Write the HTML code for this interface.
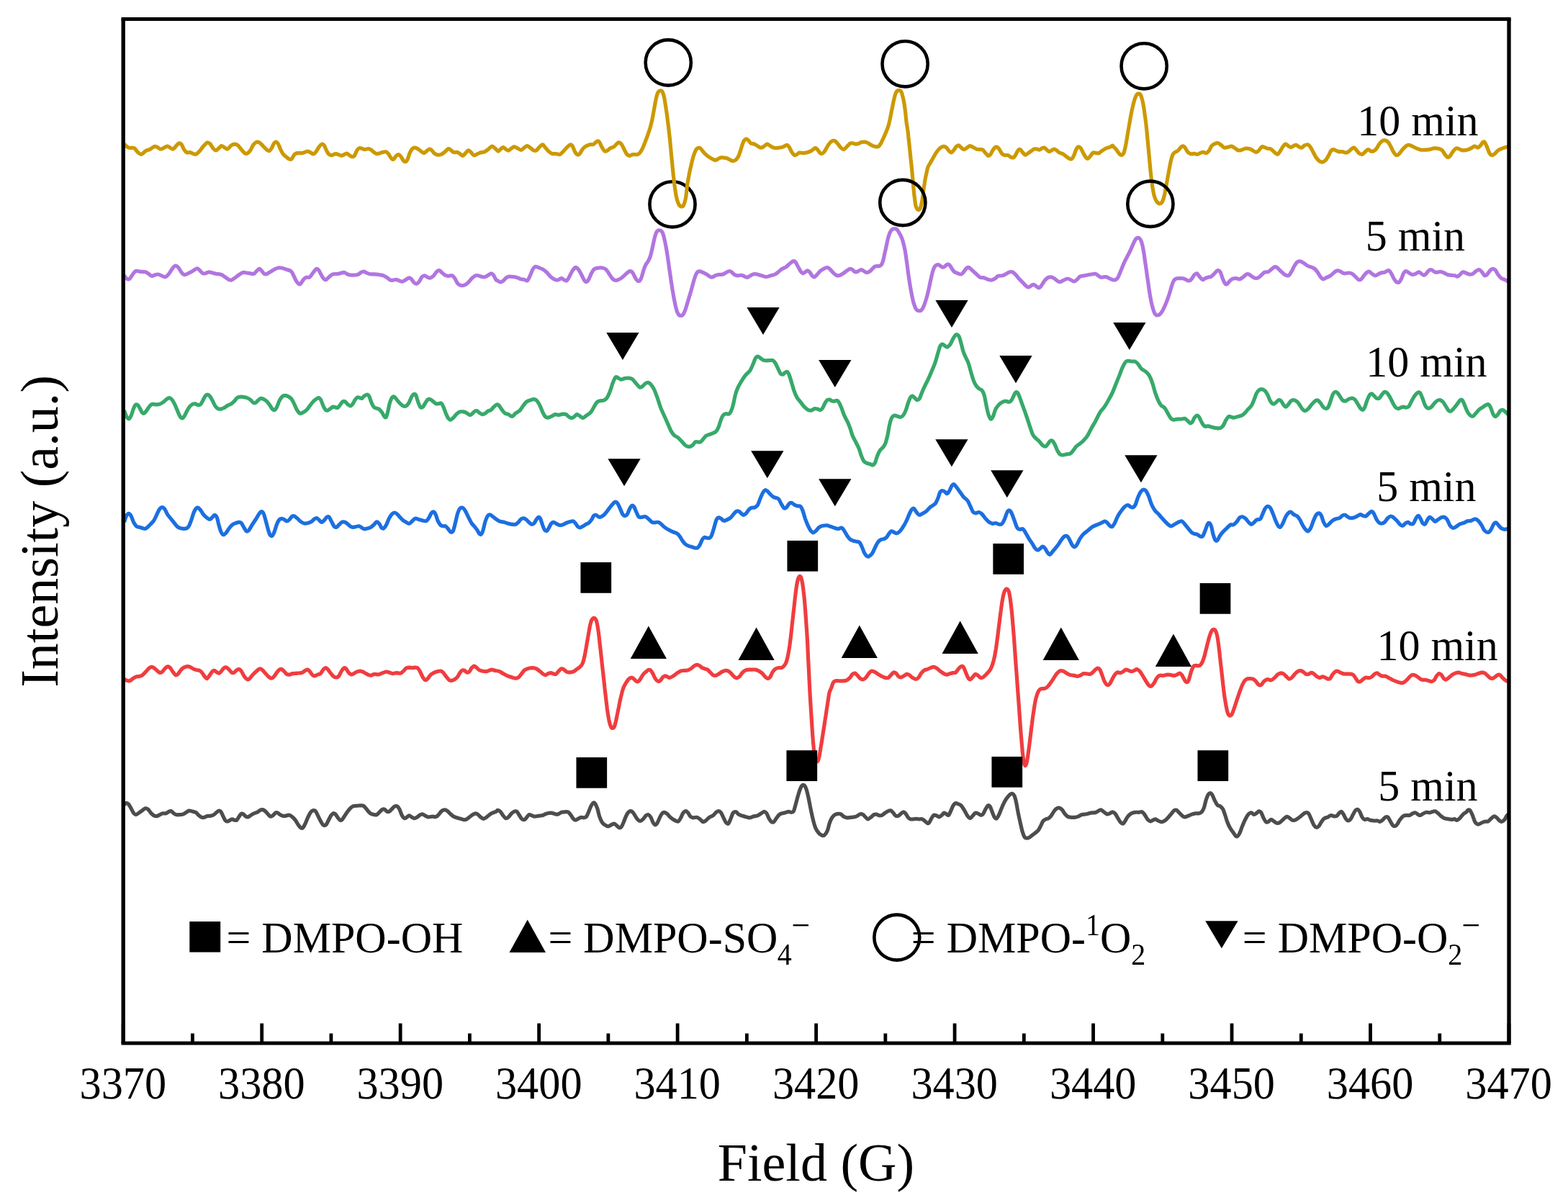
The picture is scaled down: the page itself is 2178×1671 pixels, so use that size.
<!DOCTYPE html>
<html lang="en">
<head>
<meta charset="utf-8">
<title>EPR spectra</title>
<style>
html,body{margin:0;padding:0;background:#fff;}
body{width:2178px;height:1671px;overflow:hidden;}
svg{display:block;}
text{font-family:"Liberation Serif","DejaVu Serif",serif;fill:#000;}
.crv{fill:none;stroke-linejoin:round;stroke-linecap:butt;stroke-width:5.20;}
</style>
</head>
<body>
<svg width="2178" height="1671" viewBox="0 0 2178 1671">
<rect x="0" y="0" width="2178" height="1671" fill="#fff"/>
<defs><clipPath id="plotclip"><rect x="171.2" y="26.4" width="1924.8" height="1422.5"/></clipPath></defs>
<path class="crv" clip-path="url(#plotclip)" stroke="#4D4D4D" d="M172.5,1117.8C173.0,1117.4 174.5,1115.4 175.5,1115.3C176.6,1115.2 177.7,1116.1 178.8,1117.3C179.8,1118.6 180.9,1120.9 182.0,1122.8C183.1,1124.8 184.4,1127.6 185.5,1129.1C186.6,1130.5 187.5,1131.6 188.8,1131.6C190.0,1131.6 191.6,1130.0 193.0,1129.1C194.5,1128.1 196.0,1126.9 197.5,1125.8C199.0,1124.8 200.7,1123.1 202.0,1122.8C203.4,1122.5 204.3,1123.0 205.5,1124.1C206.8,1125.1 208.2,1127.6 209.5,1129.1C210.9,1130.5 212.4,1132.1 213.8,1132.8C215.2,1133.6 216.7,1133.8 218.0,1133.6C219.4,1133.4 220.7,1132.2 222.1,1131.6C223.4,1130.9 224.9,1130.1 226.3,1129.8C227.7,1129.5 229.2,1130.2 230.6,1129.8C231.9,1129.4 233.4,1127.9 234.6,1127.3C235.7,1126.8 236.6,1126.3 237.6,1126.6C238.6,1126.9 239.4,1128.2 240.6,1129.1C241.7,1129.9 243.0,1131.2 244.6,1131.6C246.2,1132.0 248.4,1131.7 250.1,1131.6C251.7,1131.4 253.1,1131.4 254.6,1130.8C256.0,1130.3 257.5,1129.1 258.8,1128.3C260.2,1127.5 261.2,1126.3 262.6,1126.1C264.0,1125.9 265.5,1126.7 267.1,1127.1C268.7,1127.5 270.6,1127.6 272.1,1128.6C273.6,1129.5 275.0,1131.7 276.4,1132.8C277.7,1133.9 278.9,1134.9 280.1,1135.3C281.4,1135.7 282.6,1135.6 283.9,1135.3C285.1,1135.0 286.2,1133.9 287.6,1133.6C289.1,1133.2 291.0,1133.7 292.6,1133.3C294.2,1133.0 295.7,1132.5 297.1,1131.6C298.6,1130.7 300.1,1128.7 301.4,1127.8C302.6,1126.9 303.7,1126.1 304.6,1126.1C305.6,1126.1 306.2,1126.5 307.1,1127.8C308.0,1129.2 309.1,1132.1 310.1,1134.1C311.1,1136.1 312.1,1138.7 313.1,1139.8C314.2,1141.0 315.3,1141.0 316.4,1140.8C317.5,1140.7 318.6,1139.6 319.6,1139.1C320.7,1138.6 321.6,1137.8 322.6,1137.8C323.6,1137.8 324.6,1138.9 325.6,1139.1C326.7,1139.3 327.8,1139.9 328.9,1139.1C330.0,1138.2 331.1,1135.5 332.2,1134.1C333.2,1132.6 334.2,1130.8 335.2,1130.3C336.2,1129.8 337.1,1130.4 338.2,1131.1C339.2,1131.7 340.3,1133.4 341.4,1134.1C342.5,1134.7 343.4,1135.2 344.7,1134.8C345.9,1134.5 347.6,1132.9 348.9,1132.1C350.3,1131.2 351.3,1130.4 352.7,1129.8C354.0,1129.2 355.7,1129.1 357.2,1128.3C358.6,1127.6 360.2,1125.9 361.4,1125.3C362.7,1124.7 363.6,1124.4 364.7,1124.6C365.8,1124.8 366.9,1125.5 368.2,1126.6C369.4,1127.6 370.9,1129.6 372.2,1130.8C373.4,1132.1 374.6,1133.7 375.7,1134.1C376.8,1134.4 377.8,1133.7 378.9,1132.8C380.1,1132.0 381.6,1129.7 382.7,1129.1C383.8,1128.4 384.7,1128.7 385.7,1129.1C386.7,1129.5 387.8,1130.9 389.0,1131.6C390.1,1132.3 391.5,1133.0 392.7,1133.3C394.0,1133.6 395.0,1133.5 396.5,1133.3C397.9,1133.1 400.0,1131.9 401.5,1132.1C402.9,1132.2 403.8,1132.9 405.2,1134.1C406.7,1135.2 408.8,1137.2 410.2,1139.1C411.7,1141.0 412.7,1143.5 414.0,1145.3C415.2,1147.1 416.6,1149.1 417.7,1149.8C418.9,1150.6 419.7,1150.8 420.7,1149.8C421.8,1148.9 422.8,1146.5 424.0,1144.1C425.2,1141.7 426.5,1138.0 427.7,1135.3C429.0,1132.7 430.3,1129.9 431.5,1128.3C432.7,1126.7 433.6,1126.1 434.7,1125.8C435.9,1125.5 437.1,1125.4 438.3,1126.6C439.4,1127.7 440.3,1130.5 441.5,1132.8C442.7,1135.1 444.0,1138.2 445.3,1140.3C446.5,1142.5 447.8,1144.9 449.0,1145.8C450.3,1146.8 451.6,1146.8 452.8,1145.8C453.9,1144.9 454.6,1142.5 455.8,1140.3C456.9,1138.2 458.6,1134.6 459.8,1132.8C460.9,1131.1 461.8,1130.2 462.8,1129.8C463.8,1129.5 464.7,1129.9 465.8,1130.8C466.8,1131.7 467.9,1133.9 469.0,1135.3C470.1,1136.7 471.2,1138.6 472.3,1139.1C473.3,1139.6 474.2,1139.4 475.3,1138.3C476.4,1137.3 477.7,1134.8 479.0,1132.8C480.4,1130.9 481.8,1128.4 483.3,1126.6C484.8,1124.7 486.4,1122.7 487.8,1121.6C489.2,1120.4 490.1,1120.0 491.5,1119.6C493.0,1119.1 494.5,1119.1 496.6,1119.1C498.6,1119.0 502.2,1118.5 504.1,1119.1C505.9,1119.6 506.6,1121.0 507.8,1122.3C509.1,1123.6 510.3,1125.7 511.6,1127.1C512.8,1128.4 513.9,1129.6 515.3,1130.3C516.7,1131.1 518.5,1131.4 519.8,1131.6C521.2,1131.8 522.1,1132.2 523.3,1131.6C524.6,1130.9 526.1,1129.0 527.3,1127.8C528.6,1126.7 529.7,1125.2 530.8,1124.6C532.0,1123.9 533.0,1123.6 534.1,1124.1C535.2,1124.5 536.3,1126.5 537.3,1127.1C538.4,1127.6 539.2,1127.8 540.3,1127.3C541.5,1126.8 542.8,1125.2 544.1,1124.1C545.3,1122.9 546.6,1121.0 547.9,1120.3C549.1,1119.6 550.4,1119.2 551.6,1119.8C552.8,1120.4 553.7,1121.9 554.9,1124.1C556.0,1126.2 557.2,1130.7 558.4,1132.8C559.5,1134.9 560.5,1136.2 561.6,1136.6C562.7,1137.0 563.7,1136.0 564.9,1135.3C566.0,1134.7 567.2,1132.9 568.4,1132.8C569.5,1132.7 570.5,1134.2 571.6,1134.8C572.8,1135.5 574.1,1136.5 575.4,1136.6C576.6,1136.7 577.9,1136.0 579.1,1135.3C580.4,1134.6 581.6,1133.1 582.9,1132.3C584.1,1131.6 585.4,1130.7 586.6,1130.8C587.9,1130.9 589.0,1132.2 590.4,1132.8C591.8,1133.5 593.2,1134.6 594.9,1134.8C596.6,1135.0 598.6,1134.1 600.4,1134.1C602.2,1134.0 603.9,1135.0 605.4,1134.6C606.9,1134.2 607.8,1132.9 609.2,1131.6C610.5,1130.2 612.0,1127.7 613.4,1126.6C614.9,1125.4 616.5,1124.8 617.9,1124.8C619.3,1124.8 620.4,1125.7 621.7,1126.6C622.9,1127.5 624.0,1129.1 625.4,1130.3C626.8,1131.6 628.5,1133.2 629.9,1134.1C631.4,1135.0 632.6,1135.3 634.2,1135.8C635.7,1136.3 637.7,1136.7 639.2,1137.1C640.6,1137.5 641.6,1138.1 642.9,1138.3C644.3,1138.5 646.0,1138.8 647.4,1138.3C648.9,1137.8 650.2,1136.5 651.7,1135.3C653.2,1134.2 655.2,1132.5 656.7,1131.6C658.2,1130.7 659.2,1129.8 660.5,1129.8C661.7,1129.8 663.0,1130.7 664.2,1131.6C665.5,1132.5 666.7,1134.4 668.0,1135.3C669.2,1136.3 670.5,1137.3 671.7,1137.3C673.0,1137.3 674.1,1136.3 675.5,1135.3C676.8,1134.4 678.5,1132.6 680.0,1131.6C681.4,1130.5 682.7,1129.8 684.2,1129.1C685.8,1128.4 688.1,1127.9 689.2,1127.3C690.4,1126.7 690.3,1125.3 691.3,1125.3C692.2,1125.3 693.8,1126.1 695.0,1127.3C696.3,1128.6 697.5,1131.3 698.8,1132.8C700.0,1134.4 701.3,1136.2 702.5,1136.6C703.8,1136.9 705.0,1136.0 706.3,1134.8C707.6,1133.7 709.2,1131.1 710.5,1129.8C711.9,1128.5 713.3,1127.5 714.5,1127.1C715.8,1126.7 716.9,1126.4 718.0,1127.3C719.2,1128.2 720.1,1130.6 721.3,1132.3C722.5,1134.1 723.8,1136.8 725.1,1137.8C726.3,1138.8 727.6,1138.8 728.8,1138.3C730.0,1137.8 731.0,1136.0 732.1,1134.8C733.1,1133.7 733.9,1131.9 735.1,1131.6C736.2,1131.2 737.6,1132.4 738.8,1132.8C740.1,1133.2 741.1,1134.0 742.6,1134.1C744.0,1134.2 745.9,1133.5 747.6,1133.3C749.2,1133.1 750.7,1133.3 752.6,1132.8C754.5,1132.3 756.8,1130.9 758.8,1130.3C760.9,1129.7 763.2,1129.1 765.1,1129.1C767.0,1129.1 768.5,1130.0 770.1,1130.3C771.7,1130.7 772.9,1131.4 774.6,1131.1C776.3,1130.7 778.4,1128.9 780.1,1128.3C781.8,1127.8 783.2,1127.9 784.6,1127.8C786.1,1127.7 787.5,1127.2 788.9,1127.8C790.2,1128.4 791.4,1130.0 792.6,1131.6C793.9,1133.2 795.2,1136.1 796.4,1137.3C797.5,1138.6 798.5,1139.1 799.6,1139.1C800.7,1139.1 801.9,1138.0 803.1,1137.3C804.4,1136.7 805.8,1135.6 807.1,1135.3C808.5,1135.1 810.1,1136.0 811.4,1135.8C812.6,1135.6 813.6,1135.4 814.6,1134.1C815.7,1132.7 816.6,1130.1 817.6,1127.8C818.6,1125.5 819.6,1122.4 820.6,1120.3C821.7,1118.2 822.9,1116.1 823.9,1115.3C824.9,1114.6 825.4,1114.6 826.4,1115.8C827.4,1117.1 828.6,1119.8 829.7,1122.8C830.7,1125.9 831.5,1130.8 832.7,1134.1C833.8,1137.3 835.2,1140.4 836.4,1142.3C837.7,1144.3 838.8,1144.9 840.2,1145.8C841.5,1146.8 843.2,1147.8 844.7,1147.8C846.1,1147.8 847.5,1146.5 848.9,1145.8C850.3,1145.2 851.9,1144.0 853.2,1144.1C854.4,1144.2 855.3,1145.6 856.4,1146.6C857.6,1147.5 859.1,1149.5 860.2,1149.8C861.3,1150.1 862.1,1149.7 863.2,1148.3C864.2,1147.0 865.4,1144.1 866.4,1141.6C867.5,1139.1 868.6,1135.6 869.7,1133.3C870.8,1131.0 872.1,1128.9 873.2,1127.8C874.3,1126.7 875.4,1126.4 876.4,1126.6C877.5,1126.8 878.6,1127.7 879.7,1129.1C880.8,1130.4 882.1,1133.2 883.2,1134.8C884.3,1136.5 885.4,1138.2 886.5,1139.1C887.5,1140.0 888.6,1140.5 889.7,1140.3C890.8,1140.1 892.0,1139.1 893.2,1137.8C894.5,1136.6 896.0,1133.9 897.2,1132.8C898.5,1131.8 899.6,1131.2 900.7,1131.6C901.8,1132.0 902.9,1133.4 904.0,1135.3C905.1,1137.2 906.2,1141.1 907.2,1142.8C908.3,1144.6 909.2,1145.8 910.2,1145.8C911.2,1145.8 912.2,1144.6 913.2,1142.8C914.3,1141.1 915.4,1137.5 916.5,1135.3C917.6,1133.2 918.7,1131.0 919.7,1129.8C920.8,1128.7 921.6,1128.2 922.7,1128.3C923.9,1128.4 925.2,1129.2 926.5,1130.3C927.8,1131.4 929.3,1133.5 930.7,1134.8C932.2,1136.2 933.9,1137.4 935.2,1138.3C936.6,1139.2 937.8,1139.9 939.0,1140.3C940.2,1140.7 941.2,1141.5 942.3,1140.8C943.3,1140.2 944.1,1138.5 945.3,1136.6C946.4,1134.6 947.8,1130.7 949.0,1129.1C950.3,1127.4 951.6,1126.6 952.8,1126.6C953.9,1126.6 954.7,1127.8 955.8,1129.1C956.8,1130.3 957.9,1132.9 959.0,1134.1C960.2,1135.2 961.3,1135.6 962.8,1135.8C964.2,1136.0 966.2,1135.0 967.8,1135.3C969.4,1135.7 970.8,1136.8 972.3,1137.8C973.7,1138.9 975.2,1141.2 976.5,1141.6C977.9,1141.9 978.8,1140.9 980.3,1139.8C981.7,1138.8 983.6,1136.5 985.3,1135.3C987.0,1134.2 988.7,1134.0 990.3,1132.8C991.9,1131.7 993.5,1129.4 994.8,1128.3C996.1,1127.3 997.2,1126.4 998.3,1126.6C999.4,1126.7 1000.4,1127.4 1001.6,1129.1C1002.7,1130.7 1004.2,1134.4 1005.3,1136.6C1006.4,1138.8 1007.3,1141.1 1008.3,1142.3C1009.4,1143.6 1010.5,1144.8 1011.6,1144.1C1012.7,1143.3 1013.7,1140.3 1014.8,1137.8C1015.9,1135.3 1017.1,1130.7 1018.3,1129.1C1019.6,1127.4 1021.0,1127.4 1022.3,1127.8C1023.7,1128.2 1025.0,1130.7 1026.6,1131.6C1028.1,1132.5 1029.9,1132.8 1031.6,1133.3C1033.3,1133.9 1034.9,1134.4 1036.6,1134.8C1038.3,1135.2 1039.9,1136.0 1041.6,1135.8C1043.3,1135.7 1044.8,1134.6 1046.6,1134.1C1048.4,1133.6 1050.6,1133.5 1052.4,1132.8C1054.1,1132.1 1055.8,1130.7 1057.4,1129.8C1058.9,1128.9 1060.4,1127.3 1061.6,1127.3C1062.9,1127.3 1063.7,1128.2 1064.9,1129.8C1066.0,1131.5 1067.2,1135.4 1068.4,1137.3C1069.5,1139.3 1070.5,1140.9 1071.6,1141.6C1072.7,1142.3 1073.8,1142.4 1074.9,1141.6C1076.0,1140.7 1077.1,1138.2 1078.4,1136.6C1079.6,1134.9 1081.0,1132.7 1082.4,1131.6C1083.8,1130.4 1085.1,1130.3 1086.6,1129.8C1088.2,1129.3 1090.2,1129.0 1091.6,1128.6C1093.1,1128.2 1094.1,1127.4 1095.4,1127.3C1096.6,1127.3 1098.0,1128.4 1099.1,1128.3C1100.3,1128.2 1101.4,1128.5 1102.4,1126.6C1103.4,1124.6 1104.3,1120.5 1105.4,1116.6C1106.5,1112.6 1107.9,1106.8 1109.2,1102.8C1110.4,1098.8 1111.8,1094.9 1112.9,1092.8C1114.0,1090.7 1114.9,1090.1 1115.9,1090.3C1117.0,1090.5 1118.1,1091.5 1119.2,1094.0C1120.3,1096.5 1121.3,1100.5 1122.4,1105.3C1123.5,1110.1 1124.8,1117.4 1125.9,1122.8C1127.0,1128.2 1128.0,1133.2 1129.2,1137.8C1130.3,1142.4 1131.6,1147.1 1132.9,1150.3C1134.3,1153.6 1136.0,1155.7 1137.4,1157.3C1138.9,1159.0 1140.4,1159.9 1141.7,1160.3C1143.0,1160.8 1144.2,1160.9 1145.4,1159.8C1146.7,1158.8 1148.0,1156.9 1149.2,1154.1C1150.4,1151.3 1151.3,1146.0 1152.4,1142.8C1153.6,1139.7 1154.7,1137.2 1156.0,1135.3C1157.2,1133.4 1158.6,1132.4 1160.0,1131.6C1161.3,1130.7 1162.9,1130.4 1164.2,1130.3C1165.5,1130.2 1166.7,1130.2 1168.0,1130.8C1169.2,1131.4 1170.3,1133.2 1171.7,1134.1C1173.2,1134.9 1174.8,1135.6 1176.7,1135.8C1178.6,1136.0 1180.9,1135.6 1183.0,1135.3C1185.1,1135.0 1187.2,1134.8 1189.2,1134.1C1191.2,1133.3 1193.4,1131.2 1195.0,1130.8C1196.6,1130.4 1197.5,1130.8 1198.8,1131.6C1200.0,1132.3 1201.4,1134.3 1202.5,1135.3C1203.7,1136.4 1204.4,1137.8 1205.5,1137.8C1206.7,1137.8 1208.2,1136.4 1209.5,1135.3C1210.9,1134.3 1212.5,1132.3 1213.8,1131.6C1215.1,1130.9 1216.3,1130.9 1217.5,1131.1C1218.8,1131.3 1220.1,1132.6 1221.3,1132.8C1222.6,1133.0 1223.7,1132.9 1225.1,1132.3C1226.4,1131.7 1228.1,1130.0 1229.6,1129.1C1231.0,1128.1 1232.6,1127.1 1233.8,1126.6C1235.1,1126.0 1236.0,1125.5 1237.1,1125.8C1238.1,1126.1 1238.9,1127.2 1240.1,1128.3C1241.2,1129.5 1242.6,1132.0 1243.8,1132.8C1245.1,1133.7 1246.3,1133.7 1247.6,1133.3C1248.8,1132.9 1250.1,1131.2 1251.3,1130.3C1252.6,1129.4 1254.0,1127.8 1255.1,1127.8C1256.2,1127.8 1257.0,1129.1 1258.1,1130.3C1259.1,1131.6 1260.3,1134.1 1261.3,1135.3C1262.4,1136.6 1263.3,1137.4 1264.6,1137.8C1265.8,1138.2 1267.5,1137.9 1268.8,1137.8C1270.2,1137.7 1271.3,1137.3 1272.6,1137.3C1273.8,1137.3 1275.0,1137.7 1276.4,1137.8C1277.7,1137.9 1279.2,1137.4 1280.6,1137.8C1282.0,1138.2 1283.4,1139.4 1284.6,1140.3C1285.9,1141.2 1287.1,1142.9 1288.1,1143.3C1289.1,1143.8 1289.7,1144.0 1290.6,1142.8C1291.6,1141.7 1292.8,1138.3 1293.9,1136.6C1295.0,1134.8 1296.0,1132.9 1297.1,1132.3C1298.2,1131.7 1299.4,1132.4 1300.6,1132.8C1301.9,1133.2 1303.4,1134.9 1304.6,1134.8C1305.9,1134.7 1307.0,1133.3 1308.1,1132.3C1309.3,1131.4 1310.3,1129.3 1311.4,1129.1C1312.5,1128.8 1313.6,1130.3 1314.6,1130.8C1315.7,1131.4 1316.6,1133.0 1317.6,1132.3C1318.6,1131.6 1319.6,1128.8 1320.6,1126.6C1321.7,1124.4 1322.8,1120.9 1323.9,1119.1C1325.0,1117.3 1326.0,1116.2 1327.1,1115.8C1328.3,1115.4 1329.3,1116.0 1330.7,1116.6C1332.0,1117.1 1333.7,1117.5 1335.2,1119.1C1336.7,1120.6 1338.2,1123.4 1339.7,1125.8C1341.1,1128.2 1342.6,1131.5 1343.9,1133.3C1345.2,1135.1 1346.4,1136.7 1347.7,1136.6C1348.9,1136.5 1350.2,1134.1 1351.4,1132.8C1352.7,1131.6 1353.9,1129.5 1355.2,1129.1C1356.4,1128.7 1357.7,1129.8 1358.9,1130.3C1360.2,1130.9 1361.6,1132.3 1362.7,1132.3C1363.8,1132.3 1364.6,1131.7 1365.7,1130.3C1366.7,1128.9 1367.9,1125.9 1368.9,1124.1C1370.0,1122.2 1371.1,1119.7 1372.2,1119.1C1373.2,1118.4 1374.2,1118.9 1375.2,1120.3C1376.2,1121.8 1377.2,1125.3 1378.2,1127.8C1379.2,1130.3 1380.4,1133.9 1381.4,1135.3C1382.5,1136.8 1383.6,1137.4 1384.7,1136.6C1385.8,1135.7 1387.0,1133.0 1388.2,1130.3C1389.5,1127.6 1390.8,1123.4 1392.2,1120.3C1393.6,1117.2 1395.1,1113.8 1396.5,1111.6C1397.8,1109.3 1399.1,1107.9 1400.2,1106.5C1401.3,1105.2 1402.3,1104.0 1403.2,1103.3C1404.1,1102.6 1404.8,1102.0 1405.7,1102.3C1406.7,1102.6 1408.0,1103.3 1409.0,1105.3C1409.9,1107.3 1410.6,1110.3 1411.5,1114.1C1412.3,1117.8 1413.0,1123.0 1414.0,1127.8C1414.9,1132.6 1416.2,1138.2 1417.2,1142.8C1418.3,1147.4 1419.2,1152.0 1420.2,1155.3C1421.2,1158.7 1422.2,1161.4 1423.2,1162.9C1424.3,1164.3 1425.3,1164.1 1426.5,1164.1C1427.7,1164.1 1428.8,1163.7 1430.2,1162.9C1431.7,1162.0 1433.4,1160.6 1435.2,1159.1C1437.1,1157.6 1439.8,1156.0 1441.5,1154.1C1443.2,1152.2 1444.0,1150.1 1445.3,1147.8C1446.5,1145.5 1447.8,1142.0 1449.0,1140.3C1450.3,1138.7 1451.5,1138.5 1452.8,1137.8C1454.0,1137.2 1455.3,1137.4 1456.5,1136.6C1457.8,1135.7 1458.9,1134.6 1460.3,1132.8C1461.6,1131.0 1463.4,1127.5 1464.8,1125.8C1466.1,1124.1 1467.2,1123.4 1468.3,1122.8C1469.4,1122.2 1470.4,1122.0 1471.5,1122.3C1472.7,1122.6 1474.0,1123.5 1475.3,1124.8C1476.5,1126.2 1477.8,1128.8 1479.0,1130.3C1480.3,1131.9 1481.3,1133.2 1482.8,1134.1C1484.3,1134.9 1486.1,1135.1 1487.8,1135.3C1489.5,1135.5 1491.1,1135.5 1492.8,1135.3C1494.5,1135.1 1496.1,1134.7 1497.8,1134.1C1499.5,1133.4 1500.9,1132.1 1502.8,1131.6C1504.7,1131.0 1507.0,1131.2 1509.1,1130.8C1511.2,1130.4 1513.2,1129.4 1515.3,1129.1C1517.4,1128.7 1519.9,1129.0 1521.6,1128.6C1523.2,1128.2 1524.1,1127.2 1525.3,1126.6C1526.6,1125.9 1527.8,1124.7 1529.1,1124.8C1530.3,1124.9 1531.5,1126.3 1532.8,1127.3C1534.2,1128.3 1535.9,1130.4 1537.3,1130.8C1538.8,1131.2 1540.3,1130.3 1541.6,1129.8C1542.9,1129.3 1544.1,1127.7 1545.3,1127.8C1546.6,1127.9 1547.9,1128.9 1549.1,1130.3C1550.4,1131.8 1551.6,1134.6 1552.9,1136.6C1554.1,1138.6 1555.4,1141.1 1556.6,1142.3C1557.8,1143.6 1558.8,1144.4 1559.9,1144.1C1560.9,1143.8 1561.7,1142.0 1562.9,1140.3C1564.0,1138.7 1565.2,1135.8 1566.6,1134.1C1568.1,1132.3 1570.0,1130.8 1571.6,1129.8C1573.3,1128.9 1575.0,1128.6 1576.6,1128.3C1578.3,1128.1 1580.0,1128.4 1581.6,1128.3C1583.3,1128.2 1585.2,1127.2 1586.6,1127.8C1588.1,1128.5 1589.1,1130.6 1590.4,1132.3C1591.6,1134.1 1592.9,1136.9 1594.1,1138.3C1595.4,1139.7 1596.6,1140.7 1597.9,1140.8C1599.1,1141.0 1600.5,1139.6 1601.7,1139.1C1602.8,1138.6 1603.8,1137.7 1604.9,1137.8C1606.0,1138.0 1607.1,1139.2 1608.4,1139.8C1609.7,1140.5 1611.4,1141.5 1612.9,1141.6C1614.4,1141.7 1615.8,1141.3 1617.4,1140.3C1619.0,1139.4 1620.8,1137.6 1622.4,1135.8C1624.1,1134.1 1626.0,1131.5 1627.4,1129.8C1628.8,1128.2 1629.8,1126.6 1630.9,1125.8C1632.1,1125.1 1633.1,1124.9 1634.2,1125.3C1635.3,1125.7 1636.2,1127.1 1637.4,1128.3C1638.7,1129.6 1640.4,1131.7 1641.7,1132.8C1643.0,1133.9 1644.0,1134.7 1645.4,1134.8C1646.9,1134.9 1648.8,1133.9 1650.4,1133.3C1652.1,1132.7 1653.8,1131.7 1655.4,1131.1C1657.1,1130.5 1658.8,1130.0 1660.5,1129.8C1662.1,1129.6 1664.0,1130.2 1665.5,1129.8C1666.9,1129.5 1668.0,1129.2 1669.2,1127.8C1670.4,1126.4 1671.4,1124.5 1672.5,1121.6C1673.5,1118.6 1674.5,1113.3 1675.5,1110.3C1676.5,1107.3 1677.4,1104.7 1678.5,1103.3C1679.5,1101.9 1680.8,1101.5 1681.8,1101.7C1682.8,1102.0 1683.3,1103.2 1684.3,1105.0C1685.3,1106.8 1686.4,1110.3 1687.6,1112.5C1688.7,1114.7 1689.8,1117.0 1691.1,1118.3C1692.3,1119.5 1693.8,1119.1 1695.1,1120.0C1696.3,1120.9 1697.4,1121.7 1698.6,1123.8C1699.7,1125.8 1700.7,1129.4 1701.8,1132.5C1702.9,1135.6 1703.9,1139.6 1705.1,1142.5C1706.2,1145.5 1707.3,1147.8 1708.6,1150.0C1709.8,1152.2 1711.3,1154.0 1712.6,1155.8C1713.8,1157.6 1715.1,1159.8 1716.1,1160.8C1717.1,1161.8 1717.6,1162.3 1718.6,1161.8C1719.5,1161.3 1720.7,1159.9 1721.8,1157.5C1723.0,1155.2 1724.2,1150.9 1725.6,1147.5C1727.0,1144.2 1728.6,1140.3 1730.1,1137.5C1731.5,1134.7 1733.0,1132.2 1734.3,1130.8C1735.7,1129.3 1736.8,1128.7 1738.1,1128.8C1739.3,1128.9 1740.6,1131.2 1741.8,1131.3C1743.1,1131.4 1744.5,1130.0 1745.6,1129.3C1746.7,1128.5 1747.6,1126.9 1748.6,1126.8C1749.6,1126.7 1750.8,1127.2 1751.9,1128.8C1752.9,1130.4 1754.0,1134.1 1755.1,1136.3C1756.2,1138.4 1757.5,1140.9 1758.6,1141.8C1759.7,1142.6 1760.7,1141.9 1761.9,1141.3C1763.0,1140.7 1764.4,1138.4 1765.6,1138.3C1766.9,1138.2 1768.0,1139.9 1769.4,1140.8C1770.7,1141.6 1772.3,1143.0 1773.6,1143.3C1775.0,1143.6 1776.3,1143.3 1777.6,1142.5C1779.0,1141.8 1780.3,1140.1 1781.9,1138.8C1783.4,1137.4 1785.4,1135.0 1786.9,1134.5C1788.4,1134.0 1789.3,1135.0 1790.6,1135.8C1792.0,1136.6 1793.7,1138.8 1795.1,1139.3C1796.6,1139.8 1797.7,1139.5 1799.4,1138.8C1801.1,1138.1 1803.4,1136.4 1805.2,1135.0C1807.0,1133.7 1808.7,1131.8 1810.2,1130.8C1811.6,1129.7 1812.4,1128.9 1813.7,1128.8C1814.9,1128.6 1816.4,1128.6 1817.7,1130.0C1818.9,1131.5 1819.9,1134.8 1821.2,1137.5C1822.4,1140.2 1823.9,1144.3 1825.2,1146.3C1826.4,1148.2 1827.6,1149.1 1828.7,1149.3C1829.8,1149.5 1830.8,1148.9 1831.9,1147.5C1833.1,1146.2 1834.4,1143.1 1835.7,1141.3C1836.9,1139.5 1838.0,1137.8 1839.4,1136.8C1840.9,1135.7 1842.9,1135.7 1844.4,1135.0C1846.0,1134.3 1847.3,1132.7 1848.7,1132.5C1850.1,1132.3 1851.3,1133.6 1852.7,1133.8C1854.1,1133.9 1855.7,1134.0 1857.0,1133.3C1858.2,1132.5 1859.2,1130.2 1860.2,1129.3C1861.3,1128.3 1862.2,1127.2 1863.2,1127.5C1864.2,1127.9 1865.2,1129.6 1866.2,1131.3C1867.3,1132.9 1868.4,1136.1 1869.5,1137.5C1870.6,1139.0 1871.6,1140.0 1872.7,1140.0C1873.8,1140.0 1875.1,1139.0 1876.2,1137.5C1877.3,1136.1 1878.4,1133.2 1879.5,1131.3C1880.6,1129.3 1881.7,1126.9 1882.7,1125.8C1883.8,1124.6 1884.7,1124.0 1885.7,1124.3C1886.7,1124.6 1887.7,1125.7 1888.7,1127.5C1889.8,1129.3 1890.9,1133.2 1892.0,1135.0C1893.1,1136.8 1894.0,1137.9 1895.2,1138.3C1896.5,1138.7 1898.2,1137.4 1899.5,1137.5C1900.8,1137.7 1901.8,1138.9 1903.2,1139.3C1904.7,1139.7 1906.6,1139.9 1908.3,1140.0C1909.9,1140.2 1911.8,1139.8 1913.3,1140.0C1914.7,1140.2 1915.8,1141.5 1917.0,1141.3C1918.3,1141.1 1919.5,1139.8 1920.8,1138.8C1922.0,1137.7 1923.3,1135.6 1924.5,1135.0C1925.7,1134.4 1926.7,1134.2 1927.8,1135.0C1928.8,1135.9 1929.6,1138.2 1930.8,1140.0C1931.9,1141.9 1933.4,1145.0 1934.5,1146.3C1935.7,1147.5 1936.7,1147.7 1937.8,1147.5C1938.8,1147.3 1939.7,1146.5 1940.8,1145.0C1941.9,1143.6 1943.2,1140.7 1944.5,1138.8C1945.9,1136.9 1947.3,1134.8 1948.8,1133.8C1950.2,1132.7 1951.8,1132.7 1953.3,1132.5C1954.8,1132.3 1956.3,1132.9 1957.8,1132.5C1959.3,1132.1 1960.7,1130.6 1962.1,1130.0C1963.4,1129.4 1964.6,1128.6 1965.8,1128.8C1967.1,1129.0 1968.4,1130.6 1969.6,1131.3C1970.7,1131.9 1971.6,1132.7 1972.8,1132.5C1974.1,1132.3 1975.6,1130.7 1977.1,1130.0C1978.5,1129.3 1979.9,1128.5 1981.3,1128.3C1982.8,1128.1 1984.4,1128.9 1985.8,1128.8C1987.2,1128.6 1988.3,1127.9 1989.6,1127.5C1990.8,1127.2 1992.1,1126.5 1993.3,1126.8C1994.6,1127.1 1995.7,1128.2 1997.1,1129.3C1998.4,1130.4 1999.9,1132.1 2001.3,1133.3C2002.8,1134.4 2004.3,1135.6 2005.8,1136.3C2007.4,1137.0 2009.0,1137.2 2010.8,1137.5C2012.7,1137.9 2015.5,1138.3 2017.1,1138.3C2018.7,1138.3 2019.2,1137.4 2020.4,1137.5C2021.5,1137.7 2022.6,1139.5 2023.9,1139.3C2025.1,1139.1 2026.5,1137.6 2027.9,1136.3C2029.2,1134.9 2030.7,1132.6 2032.1,1131.3C2033.5,1129.9 2035.1,1129.3 2036.4,1128.3C2037.6,1127.2 2038.7,1125.4 2039.6,1125.0C2040.6,1124.6 2041.2,1124.5 2042.1,1125.8C2043.1,1127.0 2044.3,1129.9 2045.4,1132.5C2046.5,1135.2 2047.6,1139.7 2048.9,1141.8C2050.1,1143.9 2051.5,1144.8 2052.9,1145.0C2054.3,1145.3 2055.6,1143.9 2057.1,1143.3C2058.7,1142.7 2060.5,1141.7 2062.1,1141.3C2063.8,1140.9 2065.6,1141.5 2067.1,1140.8C2068.7,1140.0 2070.0,1137.9 2071.4,1136.8C2072.8,1135.6 2074.2,1133.9 2075.4,1133.8C2076.7,1133.6 2077.7,1134.7 2078.9,1135.8C2080.2,1136.8 2081.7,1139.1 2082.9,1140.0C2084.1,1140.9 2084.8,1141.5 2085.9,1141.3C2087.0,1141.1 2088.4,1140.2 2089.7,1138.8C2090.9,1137.3 2092.0,1134.2 2093.4,1132.5C2094.9,1130.9 2097.6,1129.4 2098.4,1128.8"/>
<path class="crv" clip-path="url(#plotclip)" stroke="#F03D3F" d="M172.5,943.1C173.1,943.5 175.0,944.7 176.3,945.2C177.5,945.6 178.6,946.1 180.0,945.7C181.4,945.2 183.1,943.6 184.5,942.6C186.0,941.7 187.2,940.7 188.8,940.1C190.3,939.6 192.2,939.8 193.8,939.4C195.3,939.0 196.6,938.7 198.0,937.6C199.5,936.6 201.0,934.7 202.5,933.1C204.0,931.6 205.7,929.3 207.0,928.1C208.4,927.0 209.4,926.5 210.5,926.4C211.7,926.3 212.5,926.8 213.8,927.6C215.0,928.5 216.7,930.3 218.0,931.4C219.4,932.5 220.8,934.1 222.1,934.4C223.3,934.7 224.3,934.2 225.6,933.1C226.8,932.1 228.3,929.3 229.6,928.1C230.8,926.9 231.9,926.0 233.1,925.9C234.2,925.8 235.1,926.4 236.3,927.6C237.5,928.8 238.8,931.5 240.1,933.1C241.3,934.8 242.7,937.1 243.8,937.6C245.0,938.2 245.8,937.6 247.1,936.4C248.3,935.2 249.9,932.2 251.3,930.6C252.7,929.1 254.1,928.0 255.6,927.1C257.0,926.3 258.7,925.8 260.1,925.6C261.5,925.5 262.5,925.8 263.8,926.4C265.2,926.9 266.6,928.2 268.1,928.9C269.6,929.6 271.1,930.2 272.6,930.6C274.1,931.1 275.8,930.8 277.1,931.4C278.4,932.0 279.4,932.9 280.6,934.4C281.9,935.9 283.4,938.8 284.6,940.1C285.8,941.5 286.6,942.9 287.6,942.6C288.6,942.4 289.4,940.5 290.6,938.9C291.8,937.3 293.5,934.4 294.6,933.1C295.8,931.9 296.5,931.3 297.6,931.4C298.7,931.5 300.2,933.3 301.4,933.9C302.5,934.5 303.5,935.6 304.6,935.1C305.8,934.7 307.0,932.6 308.1,931.4C309.3,930.1 310.3,928.3 311.4,927.6C312.5,926.9 313.5,926.7 314.6,927.1C315.8,927.6 316.9,928.9 318.1,930.1C319.4,931.3 320.9,933.8 322.1,934.4C323.4,935.0 324.5,934.5 325.6,933.9C326.8,933.3 327.8,931.3 328.9,930.6C330.0,929.9 331.1,929.4 332.2,929.6C333.2,929.9 334.0,930.6 335.2,932.1C336.3,933.7 337.7,937.1 338.9,938.9C340.2,940.7 341.5,942.4 342.7,943.1C343.8,943.9 344.5,944.1 345.7,943.4C346.8,942.7 348.3,940.4 349.7,938.9C351.0,937.4 352.5,935.8 353.9,934.4C355.3,933.0 356.9,931.6 358.2,930.6C359.4,929.7 360.3,928.8 361.4,928.9C362.5,928.9 363.4,929.8 364.7,930.9C365.9,932.0 367.5,934.1 368.9,935.6C370.4,937.2 371.8,939.1 373.2,940.1C374.6,941.2 375.9,942.2 377.2,942.1C378.4,942.1 379.4,941.0 380.7,939.6C381.9,938.3 383.5,935.5 384.7,933.9C386.0,932.3 387.1,930.8 388.2,930.1C389.3,929.4 390.4,929.2 391.5,929.6C392.5,930.1 393.6,931.5 394.7,932.6C395.8,933.8 397.0,935.6 398.2,936.4C399.5,937.1 400.8,937.3 402.2,937.1C403.6,937.0 404.7,936.0 406.5,935.6C408.2,935.3 410.6,935.4 412.7,935.1C414.8,934.9 417.1,935.0 419.0,934.4C420.9,933.8 422.6,932.1 424.0,931.4C425.4,930.7 426.2,929.9 427.2,930.1C428.3,930.3 429.1,931.4 430.2,932.6C431.4,933.9 432.8,936.6 434.0,937.6C435.2,938.7 436.0,939.0 437.2,938.9C438.5,938.8 440.2,937.4 441.5,936.9C442.8,936.4 444.0,936.8 445.3,935.6C446.5,934.5 447.8,931.5 449.0,930.1C450.2,928.8 451.2,927.7 452.3,927.6C453.3,927.6 454.0,928.3 455.3,929.6C456.5,931.0 458.3,933.9 459.8,935.6C461.2,937.4 462.7,939.3 464.0,940.1C465.4,941.0 466.7,941.1 467.8,940.9C468.9,940.7 469.6,940.5 470.8,938.9C471.9,937.3 473.5,933.3 474.8,931.4C476.0,929.5 477.3,928.1 478.3,927.6C479.3,927.2 479.8,927.8 480.8,928.9C481.7,929.9 482.9,932.6 484.0,933.9C485.2,935.2 486.5,936.6 487.8,936.9C489.0,937.2 490.2,936.3 491.5,935.6C492.9,935.0 494.3,933.7 495.8,933.1C497.3,932.6 498.9,932.1 500.3,932.1C501.7,932.1 502.7,932.6 504.1,933.1C505.4,933.7 506.9,934.9 508.3,935.6C509.7,936.4 511.2,937.2 512.3,937.6C513.5,938.1 514.1,938.4 515.3,938.1C516.6,937.9 518.2,936.6 519.8,936.4C521.5,936.2 523.6,937.1 525.3,936.9C527.1,936.7 528.5,935.8 530.3,935.1C532.2,934.5 534.9,933.3 536.6,933.1C538.3,932.9 538.9,933.5 540.3,933.9C541.8,934.3 543.7,935.5 545.3,935.6C547.0,935.8 548.5,934.7 550.4,934.6C552.2,934.6 554.9,935.6 556.6,935.1C558.3,934.7 559.1,933.3 560.4,932.1C561.6,931.0 562.8,929.0 564.1,928.1C565.5,927.3 566.9,927.2 568.4,927.1C569.8,927.1 571.5,927.6 572.9,927.6C574.3,927.6 575.4,927.1 576.6,927.1C577.9,927.2 579.3,927.2 580.4,928.1C581.5,929.1 582.2,930.5 583.4,932.6C584.6,934.8 586.1,938.9 587.4,940.9C588.6,942.9 589.8,944.4 590.9,944.7C592.0,944.9 593.0,943.8 594.1,942.6C595.3,941.5 596.5,939.0 597.9,937.6C599.3,936.3 600.7,935.5 602.4,934.6C604.1,933.8 606.2,933.1 607.9,932.6C609.6,932.2 611.1,931.8 612.4,932.1C613.7,932.5 614.6,933.2 615.9,934.6C617.2,936.1 619.0,939.0 620.4,940.6C621.8,942.3 622.9,943.9 624.2,944.7C625.4,945.4 626.5,945.4 627.9,945.2C629.3,944.9 631.1,944.1 632.4,943.1C633.8,942.2 634.8,941.2 635.9,939.6C637.1,938.1 638.1,935.4 639.2,933.9C640.3,932.4 641.4,931.3 642.4,930.9C643.5,930.5 644.4,930.9 645.4,931.4C646.4,931.9 647.4,933.6 648.4,933.9C649.5,934.2 650.6,934.1 651.7,933.1C652.8,932.2 653.8,929.5 654.9,928.1C656.1,926.8 657.3,925.3 658.5,925.1C659.6,925.0 660.5,926.2 661.7,927.1C662.9,928.1 664.1,929.8 665.5,930.6C666.8,931.5 668.3,931.8 670.0,932.1C671.6,932.5 673.9,932.8 675.5,932.6C677.0,932.5 678.0,931.8 679.2,931.4C680.5,931.0 681.6,930.1 683.0,930.1C684.4,930.1 685.7,931.0 687.5,931.4C689.3,931.8 691.9,931.9 693.8,932.6C695.7,933.3 696.9,934.6 698.8,935.6C700.7,936.7 703.0,938.0 705.0,938.9C707.1,939.8 709.4,940.4 711.3,940.9C713.2,941.4 714.8,942.2 716.3,942.1C717.8,942.1 719.2,941.7 720.6,940.6C721.9,939.6 723.2,937.3 724.6,935.6C725.9,934.0 727.3,931.8 728.8,930.6C730.4,929.4 731.9,928.9 733.8,928.4C735.7,927.9 738.2,927.6 740.1,927.6C741.9,927.7 743.4,928.1 745.1,928.9C746.7,929.7 748.5,931.4 750.1,932.6C751.7,933.9 753.2,935.6 754.6,936.4C755.9,937.2 757.0,937.8 758.1,937.6C759.2,937.5 760.2,936.1 761.3,935.6C762.5,935.1 763.8,934.6 765.1,934.6C766.3,934.7 767.7,935.6 768.8,935.9C770.0,936.2 771.0,936.9 772.1,936.4C773.2,935.9 774.4,933.9 775.6,932.6C776.9,931.4 778.4,929.4 779.6,928.9C780.8,928.4 781.4,929.0 782.6,929.6C783.8,930.3 785.6,932.3 786.8,933.0C788.0,933.7 788.7,933.7 789.7,933.8C790.6,933.9 791.5,933.9 792.5,933.8C793.5,933.7 794.9,933.4 795.9,933.0C797.0,932.6 797.8,932.2 798.8,931.5C799.7,930.9 800.7,930.0 801.6,929.3C802.6,928.6 803.5,928.1 804.4,927.3C805.4,926.6 806.5,925.7 807.3,924.7C808.1,923.7 808.7,922.7 809.3,921.3C809.9,919.9 810.4,918.2 810.9,916.2C811.4,914.2 811.9,911.8 812.4,909.4C812.9,906.9 813.4,904.1 813.9,901.4C814.4,898.7 814.8,896.1 815.2,893.4C815.7,890.8 816.2,888.1 816.6,885.5C817.1,882.8 817.5,880.1 818.0,877.5C818.4,875.0 818.9,872.3 819.3,870.1C819.8,868.0 820.2,866.1 820.7,864.4C821.2,862.8 821.7,861.4 822.3,860.5C822.9,859.5 823.6,859.1 824.1,858.8C824.6,858.4 825.0,858.4 825.5,858.5C825.9,858.6 826.4,858.7 826.8,859.3C827.3,859.9 827.9,860.8 828.3,862.2C828.8,863.6 829.3,865.7 829.7,867.9C830.1,870.0 830.5,872.5 830.9,875.2C831.3,878.0 831.7,881.1 832.1,884.3C832.5,887.6 832.8,891.2 833.2,894.6C833.6,898.0 834.0,901.4 834.4,904.8C834.7,908.2 835.1,911.6 835.5,915.0C835.9,918.5 836.2,921.9 836.6,925.3C837.0,928.7 837.4,932.1 837.8,935.5C838.1,938.9 838.5,942.3 838.9,945.7C839.3,949.2 839.7,952.6 840.0,956.0C840.4,959.4 840.8,962.9 841.2,966.2C841.6,969.5 841.9,972.7 842.3,975.9C842.7,979.0 843.1,982.1 843.4,985.0C843.8,987.8 844.2,990.4 844.6,992.9C845.0,995.5 845.5,998.1 845.9,1000.3C846.4,1002.5 846.8,1004.4 847.3,1006.0C847.8,1007.6 848.3,1009.1 848.8,1010.0C849.3,1010.9 849.6,1011.3 850.3,1011.4C850.9,1011.4 851.9,1011.2 852.5,1010.6C853.1,1010.0 853.5,1009.0 853.9,1007.7C854.4,1006.4 854.8,1004.5 855.3,1002.6C855.7,1000.7 856.2,998.5 856.6,996.3C857.1,994.2 857.5,991.8 858.0,989.5C858.5,987.2 858.9,985.0 859.4,982.7C859.8,980.4 860.3,978.1 860.7,975.9C861.2,973.7 861.6,971.6 862.1,969.6C862.5,967.6 863.0,965.7 863.5,963.9C863.9,962.1 864.3,960.4 864.8,958.8C865.3,957.2 865.9,955.6 866.4,954.3C867.0,952.9 867.6,951.9 868.1,950.9C868.7,949.8 869.3,948.9 869.8,948.0C870.4,947.1 871.0,946.3 871.5,945.5C872.1,944.8 872.7,944.1 873.2,943.5C873.8,942.9 874.4,942.4 874.9,942.0C875.5,941.6 876.1,941.3 876.6,941.2C877.2,941.1 877.8,941.3 878.4,941.5C878.9,941.8 879.5,942.2 880.1,942.7C880.6,943.1 881.2,943.8 881.8,944.4C882.3,944.9 882.9,945.6 883.5,946.0C884.0,946.4 884.6,946.8 885.2,946.9C885.7,946.9 886.3,946.7 886.9,946.3C887.5,945.9 888.0,945.1 888.6,944.4C889.2,943.6 889.7,942.7 890.3,941.8C890.9,940.9 891.4,939.8 892.0,938.9C892.6,938.0 893.0,937.2 893.7,936.4C894.4,935.6 895.2,934.8 896.0,934.1C896.7,933.5 897.5,932.9 898.3,932.3C899.0,931.7 899.4,930.9 900.2,930.6C901.0,930.4 902.2,929.9 903.2,930.6C904.3,931.4 905.3,933.1 906.5,935.1C907.6,937.1 909.0,940.8 910.2,942.6C911.5,944.5 912.8,946.0 914.0,946.4C915.1,946.8 916.1,946.1 917.2,945.2C918.4,944.2 919.6,941.7 920.7,940.6C921.9,939.6 922.9,939.0 924.0,938.9C925.1,938.8 926.2,939.7 927.2,940.1C928.3,940.6 928.9,941.6 930.2,941.4C931.6,941.2 933.6,939.9 935.2,938.9C936.9,937.9 938.6,936.3 940.3,935.1C941.9,934.0 943.6,932.8 945.3,932.1C946.9,931.5 948.6,931.6 950.3,931.4C951.9,931.2 953.6,931.4 955.3,930.9C956.9,930.4 958.7,929.4 960.3,928.4C961.9,927.3 963.4,925.5 964.8,924.6C966.1,923.8 967.2,923.4 968.3,923.4C969.4,923.4 970.4,923.9 971.5,924.6C972.7,925.3 974.0,926.9 975.3,927.6C976.5,928.3 977.8,928.5 979.0,928.9C980.3,929.3 981.5,929.3 982.8,930.1C984.0,931.0 985.3,932.6 986.5,933.9C987.8,935.1 989.0,936.9 990.3,937.6C991.5,938.4 992.8,938.6 994.1,938.4C995.3,938.2 996.3,937.3 997.8,936.4C999.3,935.5 1001.1,934.0 1002.8,933.1C1004.5,932.3 1006.4,931.6 1007.8,931.4C1009.3,931.2 1010.3,931.5 1011.6,932.1C1012.8,932.8 1013.9,933.8 1015.3,935.1C1016.7,936.5 1018.5,939.0 1019.8,940.1C1021.2,941.3 1022.1,942.0 1023.3,941.9C1024.6,941.8 1026.0,941.0 1027.3,939.6C1028.7,938.3 1030.0,935.4 1031.6,933.9C1033.1,932.4 1034.7,931.3 1036.6,930.6C1038.5,930.0 1040.8,930.2 1042.8,930.1C1044.9,930.1 1047.2,929.8 1049.1,930.1C1051.0,930.5 1052.4,931.2 1054.1,932.1C1055.8,933.1 1057.7,934.3 1059.1,935.6C1060.6,937.0 1061.6,939.0 1062.9,940.1C1064.1,941.3 1065.5,942.6 1066.6,942.6C1067.8,942.6 1068.7,941.7 1069.9,940.1C1071.0,938.6 1072.1,935.0 1073.4,933.1C1074.6,931.3 1076.0,929.8 1077.4,928.9C1078.8,928.0 1080.1,927.9 1081.6,927.6C1083.2,927.3 1085.1,928.0 1086.6,927.1C1088.2,926.3 1089.8,924.1 1090.9,922.4C1092.0,920.6 1092.4,919.0 1093.1,916.5C1093.8,914.0 1094.5,910.5 1095.1,907.3C1095.7,904.1 1096.2,901.2 1096.8,897.2C1097.3,893.3 1097.9,888.6 1098.5,883.8C1099.0,879.1 1099.6,873.8 1100.1,868.8C1100.7,863.7 1101.3,858.7 1101.8,853.7C1102.4,848.6 1102.9,843.6 1103.5,838.6C1104.0,833.6 1104.6,828.0 1105.2,823.5C1105.7,819.0 1106.3,815.0 1106.8,811.8C1107.4,808.6 1108.0,806.1 1108.5,804.2C1109.1,802.4 1109.7,801.5 1110.2,800.9C1110.6,800.2 1110.8,800.3 1111.2,800.4C1111.6,800.5 1112.0,800.6 1112.4,801.4C1112.8,802.2 1113.1,803.3 1113.5,805.1C1114.0,806.8 1114.4,809.0 1114.9,811.8C1115.3,814.6 1115.8,817.9 1116.2,821.8C1116.7,825.7 1117.1,830.2 1117.6,835.2C1118.0,840.3 1118.5,846.1 1118.9,852.0C1119.3,857.9 1119.8,864.0 1120.2,870.4C1120.7,876.9 1121.1,883.6 1121.5,890.5C1121.8,897.5 1122.2,905.1 1122.5,912.3C1122.9,919.6 1123.2,926.8 1123.6,934.1C1123.9,941.4 1124.3,948.6 1124.7,955.9C1125.0,963.1 1125.5,970.4 1125.9,977.7C1126.4,984.9 1126.8,992.5 1127.3,999.5C1127.7,1006.4 1128.2,1013.4 1128.6,1019.6C1129.1,1025.7 1129.5,1031.4 1130.0,1036.3C1130.4,1041.2 1130.7,1045.7 1131.3,1048.9C1131.9,1052.1 1133.0,1054.1 1133.6,1055.6C1134.3,1057.0 1134.5,1057.5 1135.0,1057.6C1135.4,1057.7 1135.9,1057.3 1136.3,1056.4C1136.8,1055.5 1137.2,1054.2 1137.7,1052.2C1138.1,1050.3 1138.6,1047.4 1139.0,1044.7C1139.5,1042.0 1139.8,1039.4 1140.4,1036.3C1140.9,1033.2 1141.5,1029.8 1142.0,1026.3C1142.6,1022.8 1143.1,1019.0 1143.7,1015.4C1144.3,1011.7 1144.8,1008.1 1145.4,1004.5C1145.9,1000.9 1146.5,997.2 1147.1,993.6C1147.6,990.0 1148.2,986.3 1148.7,982.7C1149.3,979.1 1149.8,975.3 1150.4,971.8C1151.0,968.3 1151.3,964.5 1152.1,961.8C1152.8,959.0 1154.1,957.2 1154.9,955.1C1155.7,952.9 1156.2,950.5 1156.9,949.0C1157.6,947.6 1158.3,946.9 1159.1,946.3C1159.9,945.8 1160.8,945.8 1161.6,945.7C1162.5,945.6 1162.9,945.6 1164.2,945.7C1165.5,945.7 1167.3,946.0 1169.2,945.9C1171.1,945.8 1173.6,945.9 1175.5,945.2C1177.3,944.4 1179.0,942.9 1180.5,941.4C1181.9,939.9 1183.1,937.4 1184.2,936.4C1185.4,935.4 1186.4,934.9 1187.5,935.1C1188.5,935.4 1189.3,936.5 1190.5,937.6C1191.7,938.8 1193.2,941.1 1194.5,942.1C1195.9,943.2 1197.4,944.0 1198.8,943.9C1200.1,943.8 1201.2,942.9 1202.5,941.4C1203.9,939.9 1205.7,936.7 1207.0,935.1C1208.4,933.6 1209.3,932.5 1210.5,932.1C1211.8,931.8 1213.0,932.4 1214.5,933.1C1216.0,933.8 1217.8,935.3 1219.6,936.4C1221.3,937.5 1223.4,938.8 1225.1,939.6C1226.7,940.5 1228.1,941.1 1229.6,941.4C1231.0,941.7 1232.5,942.0 1233.8,941.4C1235.1,940.8 1236.3,938.9 1237.6,937.6C1238.8,936.4 1240.2,934.3 1241.3,933.9C1242.5,933.5 1243.4,934.2 1244.6,935.1C1245.7,936.1 1247.0,938.7 1248.1,939.6C1249.2,940.6 1250.1,941.0 1251.3,940.9C1252.6,940.8 1254.2,939.6 1255.6,938.9C1257.0,938.1 1258.3,936.6 1259.6,936.4C1260.8,936.2 1261.8,936.8 1263.1,937.6C1264.4,938.5 1266.1,940.4 1267.6,941.4C1269.1,942.4 1270.8,943.4 1272.1,943.4C1273.4,943.4 1274.4,942.8 1275.6,941.4C1276.9,940.0 1278.2,936.9 1279.6,935.1C1281.0,933.4 1282.4,931.8 1283.9,930.9C1285.3,930.0 1286.7,930.2 1288.1,929.6C1289.6,929.1 1291.1,928.2 1292.6,927.6C1294.1,927.1 1295.7,926.3 1297.1,926.4C1298.6,926.5 1299.8,927.3 1301.4,928.4C1302.9,929.4 1304.7,931.4 1306.4,932.6C1308.0,933.9 1309.9,935.1 1311.4,935.9C1312.8,936.6 1313.8,937.2 1315.1,937.1C1316.5,937.1 1318.2,936.1 1319.6,935.6C1321.1,935.2 1322.6,934.9 1323.9,934.6C1325.2,934.3 1326.4,934.9 1327.6,933.9C1328.9,932.9 1330.2,930.3 1331.4,928.9C1332.7,927.5 1334.0,926.1 1335.2,925.6C1336.3,925.2 1337.1,925.0 1338.2,926.4C1339.2,927.8 1340.3,931.4 1341.4,933.9C1342.5,936.4 1343.6,939.7 1344.7,941.4C1345.7,943.1 1346.5,944.1 1347.7,943.9C1348.8,943.7 1350.3,941.4 1351.4,940.1C1352.6,938.9 1353.5,936.7 1354.7,936.4C1355.8,936.1 1356.9,937.3 1358.2,938.1C1359.4,939.0 1360.9,941.0 1362.2,941.4C1363.4,941.8 1364.3,941.5 1365.7,940.6C1367.0,939.8 1368.6,938.0 1370.2,936.4C1371.8,934.7 1373.8,932.5 1375.1,930.7C1376.3,928.9 1376.8,927.7 1377.6,925.7C1378.4,923.7 1379.1,921.5 1379.8,919.0C1380.5,916.5 1381.2,913.7 1381.8,910.6C1382.4,907.5 1382.9,904.2 1383.5,900.6C1384.0,896.9 1384.6,893.0 1385.1,888.8C1385.7,884.6 1386.3,879.9 1386.8,875.4C1387.4,871.0 1387.9,866.5 1388.5,862.0C1389.0,857.6 1389.6,852.8 1390.2,848.6C1390.7,844.4 1391.3,840.4 1391.8,836.9C1392.4,833.4 1393.0,830.2 1393.5,827.7C1394.1,825.2 1394.6,823.3 1395.2,821.8C1395.7,820.3 1396.3,819.4 1396.9,818.8C1397.4,818.2 1398.0,817.9 1398.5,818.0C1399.1,818.0 1399.7,818.5 1400.2,819.3C1400.7,820.1 1401.1,821.0 1401.6,822.6C1402.0,824.3 1402.4,826.6 1402.9,829.4C1403.3,832.1 1403.8,835.6 1404.2,839.4C1404.7,843.2 1405.1,847.4 1405.6,852.0C1406.0,856.6 1406.5,861.7 1406.9,867.1C1407.4,872.4 1407.8,877.9 1408.3,883.8C1408.7,889.7 1409.2,896.1 1409.6,902.2C1410.0,908.4 1410.5,914.5 1410.9,920.7C1411.4,926.8 1411.8,933.0 1412.3,939.1C1412.7,945.2 1413.2,951.4 1413.6,957.5C1414.1,963.7 1414.5,969.8 1415.0,976.0C1415.4,982.1 1415.9,988.3 1416.3,994.4C1416.7,1000.5 1417.2,1007.0 1417.6,1012.8C1418.1,1018.7 1418.5,1024.3 1419.0,1029.6C1419.4,1034.9 1419.9,1040.3 1420.3,1044.7C1420.8,1049.0 1421.2,1052.7 1421.7,1055.6C1422.1,1058.4 1422.6,1060.4 1423.0,1061.8C1423.4,1063.1 1423.8,1063.6 1424.2,1063.6C1424.6,1063.6 1424.9,1063.0 1425.4,1061.8C1425.8,1060.6 1426.2,1058.7 1426.7,1056.4C1427.1,1054.1 1427.6,1051.1 1428.0,1048.0C1428.5,1045.0 1428.9,1041.5 1429.4,1038.0C1429.8,1034.5 1430.3,1030.7 1430.7,1027.1C1431.2,1023.4 1431.6,1019.8 1432.1,1016.2C1432.5,1012.6 1432.9,1008.8 1433.4,1005.3C1433.8,1001.8 1434.3,998.5 1434.7,995.2C1435.2,992.0 1435.6,989.0 1436.1,986.0C1436.5,983.1 1437.0,980.2 1437.4,977.6C1437.9,975.1 1438.3,973.0 1438.8,970.9C1439.3,968.8 1439.9,966.8 1440.4,965.1C1441.0,963.4 1441.5,962.1 1442.1,960.9C1442.7,959.7 1443.4,958.7 1444.1,958.0C1444.8,957.3 1445.5,957.0 1446.3,956.7C1447.1,956.4 1448.0,956.6 1448.8,956.5C1449.6,956.4 1450.5,956.4 1451.3,956.2C1452.2,955.9 1453.0,955.6 1453.8,955.0C1454.7,954.4 1455.5,953.5 1456.3,952.5C1457.2,951.5 1458.0,950.3 1458.9,949.2C1459.7,948.0 1460.5,946.7 1461.4,945.5C1462.2,944.2 1463.1,942.9 1463.9,941.6C1464.7,940.3 1465.6,938.9 1466.4,937.8C1467.2,936.6 1468.1,935.5 1468.9,934.6C1469.8,933.7 1470.6,932.9 1471.4,932.4C1472.3,931.9 1472.9,931.5 1473.9,931.6C1475.0,931.6 1476.4,932.0 1477.8,932.6C1479.2,933.3 1480.8,934.8 1482.3,935.6C1483.8,936.5 1485.0,937.2 1486.5,937.6C1488.1,938.1 1489.9,937.9 1491.5,938.1C1493.2,938.4 1495.0,939.4 1496.6,939.4C1498.1,939.4 1499.3,938.8 1500.8,938.1C1502.3,937.5 1503.8,936.0 1505.3,935.6C1506.8,935.3 1508.4,935.8 1509.8,935.9C1511.3,936.0 1512.7,936.7 1514.1,936.4C1515.4,936.1 1516.6,934.9 1517.8,933.9C1519.1,932.8 1520.4,931.1 1521.6,930.1C1522.7,929.2 1523.8,928.1 1524.8,928.1C1525.9,928.1 1526.8,928.6 1527.8,930.1C1528.8,931.7 1529.8,934.9 1530.8,937.6C1531.9,940.4 1532.9,944.1 1534.1,946.4C1535.3,948.7 1536.6,950.9 1537.8,951.4C1539.1,951.9 1540.3,951.1 1541.6,949.7C1542.8,948.2 1544.1,944.9 1545.3,942.6C1546.6,940.4 1547.9,937.9 1549.1,936.4C1550.3,934.9 1551.1,934.2 1552.4,933.9C1553.6,933.6 1555.3,934.9 1556.6,934.6C1557.9,934.4 1559.1,933.4 1560.4,932.6C1561.6,931.9 1562.9,930.3 1564.1,930.1C1565.4,929.9 1566.6,931.0 1567.9,931.4C1569.1,931.8 1570.4,932.6 1571.6,932.6C1572.9,932.6 1574.1,931.9 1575.4,931.4C1576.6,930.9 1577.8,929.4 1579.1,929.6C1580.5,929.8 1581.9,931.0 1583.4,932.6C1584.8,934.3 1586.4,937.2 1587.9,939.6C1589.4,942.1 1591.1,945.1 1592.4,947.2C1593.7,949.2 1594.8,951.2 1595.9,952.2C1597.0,953.2 1598.0,953.7 1599.1,953.2C1600.3,952.6 1601.7,950.7 1602.9,948.9C1604.2,947.1 1605.4,943.9 1606.7,942.1C1607.9,940.4 1608.9,939.0 1610.4,938.4C1611.9,937.8 1613.5,938.6 1615.4,938.4C1617.3,938.2 1619.8,937.3 1621.7,937.1C1623.5,937.0 1625.1,937.4 1626.7,937.6C1628.2,937.9 1629.6,938.5 1630.9,938.4C1632.3,938.3 1633.7,937.7 1634.9,937.1C1636.2,936.6 1637.3,935.1 1638.4,935.1C1639.6,935.2 1640.7,936.5 1641.7,937.6C1642.6,938.8 1643.3,940.7 1644.1,942.1C1644.8,943.4 1645.4,944.7 1646.1,945.6C1646.8,946.5 1647.5,947.2 1648.1,947.5C1648.7,947.7 1649.2,947.6 1649.7,947.2C1650.2,946.7 1650.7,945.9 1651.2,944.6C1651.7,943.3 1652.2,941.3 1652.7,939.5C1653.2,937.7 1653.7,935.6 1654.2,933.9C1654.8,932.2 1655.3,930.6 1655.8,929.4C1656.3,928.1 1656.8,927.1 1657.3,926.3C1657.8,925.5 1658.2,925.1 1658.8,924.8C1659.4,924.4 1660.2,924.3 1660.9,924.3C1661.5,924.2 1662.2,924.5 1662.9,924.6C1663.6,924.7 1664.3,924.8 1664.9,924.8C1665.6,924.7 1666.1,924.7 1666.7,924.3C1667.2,923.9 1667.9,923.3 1668.5,922.4C1669.1,921.6 1669.7,920.5 1670.3,919.2C1670.9,917.9 1671.5,916.3 1672.0,914.6C1672.6,912.9 1673.1,911.0 1673.6,909.0C1674.1,907.1 1674.6,904.9 1675.1,902.9C1675.6,900.9 1676.1,898.8 1676.6,896.8C1677.1,894.8 1677.6,892.6 1678.2,890.7C1678.7,888.7 1679.2,886.8 1679.7,885.1C1680.2,883.4 1680.7,881.9 1681.2,880.5C1681.7,879.2 1682.2,877.9 1682.7,877.0C1683.2,876.0 1683.7,875.3 1684.3,874.9C1684.8,874.5 1685.3,874.4 1685.8,874.4C1686.3,874.4 1686.8,874.5 1687.3,874.9C1687.8,875.3 1688.4,875.9 1688.8,877.0C1689.3,878.0 1689.7,879.3 1690.2,881.0C1690.6,882.7 1691.0,884.8 1691.4,887.1C1691.8,889.4 1692.1,892.1 1692.5,894.8C1692.9,897.4 1693.2,900.0 1693.5,902.9C1693.9,905.8 1694.2,909.0 1694.5,912.1C1694.9,915.1 1695.2,918.2 1695.5,921.2C1695.9,924.3 1696.2,927.3 1696.6,930.4C1696.9,933.4 1697.2,936.5 1697.6,939.5C1697.9,942.6 1698.3,945.7 1698.6,948.7C1698.9,951.7 1699.3,954.5 1699.6,957.3C1700.0,960.1 1700.3,962.8 1700.6,965.5C1701.0,968.2 1701.4,971.1 1701.9,973.6C1702.3,976.2 1702.7,978.6 1703.1,980.7C1703.5,982.8 1703.9,984.6 1704.3,986.3C1704.7,988.0 1705.1,989.7 1705.6,990.9C1706.1,992.1 1706.6,992.9 1707.1,993.4C1707.7,994.0 1708.2,994.2 1708.7,994.2C1709.2,994.2 1709.7,994.0 1710.2,993.4C1710.7,992.9 1711.2,992.0 1711.7,990.9C1712.2,989.8 1712.7,988.3 1713.2,986.8C1713.8,985.4 1714.3,983.8 1714.8,982.3C1715.3,980.7 1715.8,979.2 1716.3,977.7C1716.8,976.2 1717.3,974.6 1717.8,973.1C1718.3,971.6 1718.8,970.0 1719.4,968.5C1719.9,967.0 1720.4,965.4 1720.9,963.9C1721.4,962.5 1721.9,961.1 1722.4,959.7C1722.9,958.3 1723.4,956.9 1723.9,955.6C1724.4,954.3 1724.9,952.9 1725.5,951.7C1726.0,950.6 1726.5,949.6 1727.0,948.7C1727.5,947.8 1728.0,946.9 1728.5,946.1C1729.0,945.4 1729.4,944.9 1730.0,944.4C1730.6,943.9 1731.3,943.4 1732.1,943.1C1732.8,942.8 1733.8,942.7 1734.6,942.6C1735.5,942.5 1736.3,942.5 1737.2,942.6C1738.0,942.6 1738.9,942.7 1739.7,942.9C1740.5,943.1 1741.1,943.3 1741.7,943.8C1742.4,944.3 1743.1,944.9 1743.8,945.6C1744.4,946.4 1745.1,947.3 1745.8,948.2C1746.5,949.0 1747.2,950.1 1747.8,950.7C1748.5,951.4 1749.2,952.0 1749.9,952.0C1750.6,952.1 1751.2,951.8 1751.9,951.2C1752.6,950.7 1753.3,949.5 1753.9,948.7C1754.6,947.8 1754.9,947.0 1756.0,946.1C1757.1,945.3 1759.0,943.8 1760.6,943.6C1762.2,943.4 1764.0,945.3 1765.6,944.8C1767.3,944.4 1769.0,942.5 1770.6,941.1C1772.2,939.7 1773.7,937.6 1775.1,936.6C1776.6,935.5 1778.0,934.9 1779.4,934.8C1780.7,934.8 1781.9,935.3 1783.1,936.1C1784.4,936.9 1785.6,938.7 1786.9,939.8C1788.1,941.0 1789.4,942.9 1790.6,943.1C1791.9,943.3 1793.1,942.3 1794.4,941.1C1795.7,939.9 1797.2,937.6 1798.7,936.1C1800.1,934.6 1801.8,933.1 1803.2,932.3C1804.5,931.6 1805.7,931.4 1806.9,931.6C1808.2,931.8 1809.4,932.8 1810.7,933.6C1811.9,934.4 1813.2,936.2 1814.4,936.6C1815.7,937.0 1816.9,936.5 1818.2,936.1C1819.4,935.7 1820.7,934.3 1821.9,934.3C1823.2,934.4 1824.4,935.7 1825.7,936.6C1826.9,937.5 1828.2,939.0 1829.4,939.8C1830.7,940.7 1831.9,941.6 1833.2,941.6C1834.4,941.6 1835.7,939.9 1836.9,939.8C1838.2,939.8 1839.4,940.6 1840.7,941.1C1841.9,941.6 1843.3,942.9 1844.4,943.1C1845.6,943.3 1846.7,943.3 1847.7,942.3C1848.7,941.4 1849.6,938.9 1850.7,937.3C1851.8,935.8 1853.2,933.9 1854.5,933.1C1855.7,932.3 1857.0,932.1 1858.2,932.3C1859.5,932.5 1860.5,933.7 1862.0,934.3C1863.4,935.0 1864.9,935.8 1867.0,936.1C1869.0,936.4 1872.4,935.9 1874.5,936.1C1876.6,936.3 1878.0,936.3 1879.5,937.3C1880.9,938.4 1882.1,940.8 1883.2,942.3C1884.4,943.9 1885.2,945.9 1886.2,946.6C1887.3,947.3 1888.3,947.1 1889.5,946.6C1890.7,946.1 1892.0,944.5 1893.2,943.6C1894.5,942.7 1895.5,941.4 1897.0,941.1C1898.5,940.8 1900.5,941.8 1902.0,941.6C1903.5,941.4 1904.5,940.8 1905.8,939.8C1907.0,938.9 1908.3,936.9 1909.5,936.1C1910.7,935.3 1911.6,934.6 1912.8,934.8C1913.9,935.0 1915.0,936.6 1916.3,937.3C1917.5,938.1 1918.9,938.8 1920.3,939.1C1921.6,939.4 1923.2,939.0 1924.5,939.3C1925.9,939.7 1926.9,940.4 1928.3,941.1C1929.6,941.8 1931.3,942.8 1932.8,943.6C1934.2,944.3 1935.5,945.0 1937.0,945.6C1938.6,946.2 1940.4,946.9 1942.0,947.4C1943.7,947.9 1945.6,948.6 1947.0,948.6C1948.5,948.6 1949.5,948.1 1950.8,947.4C1952.0,946.6 1953.3,945.4 1954.5,944.1C1955.8,942.8 1957.0,941.0 1958.3,939.8C1959.5,938.7 1960.8,937.6 1962.1,937.3C1963.3,937.1 1964.4,937.5 1965.8,938.1C1967.2,938.7 1968.8,940.1 1970.3,941.1C1971.8,942.1 1973.0,943.6 1974.6,944.1C1976.1,944.6 1977.9,944.1 1979.6,944.3C1981.2,944.6 1983.1,945.2 1984.6,945.6C1986.0,946.0 1987.1,946.7 1988.3,946.6C1989.6,946.5 1990.9,946.1 1992.1,944.8C1993.2,943.6 1994.2,940.6 1995.3,939.1C1996.5,937.6 1997.7,935.9 1998.8,935.6C2000.0,935.3 2001.0,936.2 2002.1,937.3C2003.2,938.5 2004.3,941.2 2005.3,942.3C2006.4,943.5 2007.2,944.2 2008.3,944.1C2009.5,944.0 2010.6,942.7 2012.1,941.6C2013.6,940.5 2015.4,938.5 2017.1,937.3C2018.8,936.2 2020.6,935.4 2022.1,934.8C2023.6,934.3 2024.4,934.0 2025.9,934.1C2027.3,934.2 2029.2,935.2 2030.9,935.6C2032.5,936.0 2034.0,936.2 2035.9,936.6C2037.7,937.0 2040.0,938.0 2042.1,938.1C2044.2,938.2 2046.5,937.8 2048.4,937.3C2050.3,936.9 2051.7,936.1 2053.4,935.6C2055.1,935.0 2056.9,934.2 2058.4,934.1C2059.8,934.0 2060.9,934.2 2062.1,934.8C2063.4,935.5 2064.6,937.0 2065.9,938.1C2067.1,939.2 2068.4,940.9 2069.7,941.6C2070.9,942.3 2072.2,942.6 2073.4,942.3C2074.7,942.1 2075.9,940.7 2077.2,939.8C2078.4,939.0 2079.8,937.7 2080.9,937.3C2082.0,937.0 2082.9,937.1 2083.9,937.8C2085.0,938.6 2086.0,940.4 2087.2,941.6C2088.3,942.8 2089.7,944.0 2090.9,944.8C2092.2,945.7 2093.4,946.2 2094.7,946.6C2095.9,947.0 2097.8,947.2 2098.4,947.4"/>
<g fill="#000">
<rect x="806.45" y="781.05" width="42.70" height="42.70"/>
<rect x="1093.45" y="750.95" width="42.70" height="42.70"/>
<rect x="1379.35" y="755.05" width="42.70" height="42.70"/>
<rect x="1666.65" y="810.05" width="42.70" height="42.70"/>
<rect x="800.45" y="1052.00" width="42.70" height="42.70"/>
<rect x="1092.45" y="1042.25" width="42.70" height="42.70"/>
<rect x="1377.45" y="1051.00" width="42.70" height="42.70"/>
<rect x="1663.50" y="1042.25" width="42.70" height="42.70"/>
</g>
<g fill="#000">
<path d="M900.85,869.60 L875.75,915.00 L925.95,915.00 Z"/>
<path d="M1050.60,871.60 L1025.50,917.00 L1075.70,917.00 Z"/>
<path d="M1193.80,868.60 L1168.70,914.00 L1218.90,914.00 Z"/>
<path d="M1333.65,862.60 L1308.55,908.00 L1358.75,908.00 Z"/>
<path d="M1473.80,871.60 L1448.70,917.00 L1498.90,917.00 Z"/>
<path d="M1629.95,880.50 L1604.85,925.90 L1655.05,925.90 Z"/>
</g>
<path class="crv" clip-path="url(#plotclip)" stroke="#1C6FE0" d="M172.5,725.3C173.0,723.8 174.5,718.5 175.5,716.5C176.6,714.5 177.7,713.3 178.8,713.3C179.8,713.3 180.9,714.5 182.0,716.5C183.1,718.5 184.3,722.8 185.5,725.3C186.8,727.7 188.1,729.8 189.5,731.0C190.9,732.2 192.4,731.9 193.8,732.3C195.1,732.7 196.3,733.1 197.5,733.5C198.8,733.9 200.0,734.7 201.3,734.5C202.5,734.3 203.7,733.4 205.0,732.3C206.4,731.1 208.1,729.3 209.5,727.8C211.0,726.2 212.5,724.8 213.8,722.8C215.1,720.7 216.3,717.8 217.5,715.3C218.8,712.8 220.1,709.5 221.3,707.7C222.6,706.0 223.8,704.8 225.1,704.7C226.3,704.7 227.6,705.6 228.8,707.2C230.1,708.9 231.1,712.2 232.6,714.5C234.0,716.8 236.0,718.8 237.6,720.8C239.2,722.8 240.6,724.7 242.1,726.5C243.5,728.3 245.0,730.3 246.3,731.5C247.7,732.7 248.7,733.1 250.1,733.5C251.5,734.0 253.1,734.2 254.6,734.3C256.0,734.4 257.5,734.7 258.8,734.0C260.2,733.4 261.5,732.1 262.6,730.3C263.7,728.4 264.5,725.7 265.6,722.8C266.6,719.8 267.8,715.5 268.8,712.8C269.9,710.0 271.1,707.7 272.1,706.5C273.1,705.2 274.0,704.8 275.1,705.2C276.2,705.7 277.6,707.4 278.9,709.0C280.1,710.6 281.2,713.1 282.6,714.8C284.0,716.4 285.7,717.9 287.1,719.0C288.6,720.1 290.0,721.6 291.4,721.5C292.7,721.4 294.0,719.3 295.1,718.3C296.2,717.2 297.1,715.1 298.1,715.3C299.2,715.4 300.4,716.7 301.4,719.0C302.3,721.3 302.9,725.7 303.9,729.0C304.8,732.4 306.1,736.7 307.1,739.0C308.2,741.3 309.0,742.6 310.1,742.8C311.3,743.0 312.6,741.7 313.9,740.3C315.2,738.8 316.7,735.9 318.1,734.0C319.6,732.1 321.1,730.3 322.6,729.0C324.2,727.8 326.1,727.1 327.6,726.5C329.2,725.9 330.9,725.3 332.2,725.3C333.4,725.3 334.0,725.3 335.2,726.5C336.3,727.8 337.7,730.9 338.9,732.8C340.1,734.6 341.0,737.1 342.2,737.8C343.3,738.4 344.3,738.0 345.7,736.5C347.0,735.1 348.6,731.5 350.2,729.0C351.8,726.5 353.6,724.0 355.2,721.5C356.8,719.0 358.3,715.8 359.7,714.0C361.0,712.2 362.1,710.7 363.2,710.7C364.3,710.7 365.4,711.6 366.4,714.0C367.5,716.4 368.6,721.5 369.7,725.3C370.7,729.0 371.8,733.5 372.7,736.5C373.6,739.5 374.3,742.0 375.2,743.3C376.1,744.5 377.2,744.9 378.2,744.0C379.2,743.1 380.4,740.5 381.4,737.8C382.5,735.1 383.6,730.5 384.7,727.8C385.8,725.1 387.1,722.8 388.2,721.5C389.3,720.3 390.4,720.3 391.5,720.3C392.5,720.3 393.6,720.9 394.7,721.5C395.8,722.1 397.0,724.0 398.2,724.0C399.5,724.0 401.0,722.6 402.2,721.5C403.5,720.4 404.6,718.0 405.7,717.3C406.8,716.5 407.8,716.6 409.0,717.0C410.1,717.4 411.3,718.5 412.7,719.8C414.2,721.0 416.1,723.3 417.7,724.5C419.4,725.7 421.1,726.7 422.7,727.0C424.4,727.3 426.1,726.9 427.7,726.5C429.4,726.1 431.3,725.4 432.7,724.5C434.2,723.6 435.3,721.8 436.5,721.0C437.7,720.2 438.6,719.3 439.8,719.5C440.9,719.7 442.1,721.3 443.3,722.3C444.4,723.2 445.3,725.2 446.5,725.3C447.7,725.3 449.0,723.9 450.3,722.8C451.5,721.6 452.8,719.0 454.0,718.3C455.2,717.5 456.2,717.3 457.3,718.3C458.3,719.2 459.1,721.9 460.3,724.0C461.4,726.1 462.9,729.6 464.0,731.0C465.2,732.4 466.2,732.6 467.3,732.3C468.4,731.9 469.5,730.2 470.8,729.0C472.0,727.8 473.4,725.9 474.8,725.3C476.2,724.6 477.7,724.8 479.0,725.3C480.4,725.7 481.5,726.8 482.8,727.8C484.0,728.7 485.3,730.3 486.5,731.0C487.8,731.8 488.9,732.2 490.3,732.3C491.7,732.4 493.5,731.8 494.8,731.5C496.1,731.3 497.1,730.6 498.3,730.8C499.6,731.0 501.1,732.1 502.3,732.8C503.6,733.4 504.5,734.6 505.8,734.8C507.1,735.0 508.7,734.4 510.3,734.0C511.9,733.6 513.7,733.2 515.3,732.3C516.9,731.3 518.5,729.5 519.8,728.3C521.2,727.0 522.2,724.9 523.3,724.8C524.5,724.6 525.5,725.9 526.6,727.3C527.7,728.6 528.8,731.6 529.8,732.8C530.9,733.9 531.7,734.6 532.8,734.0C534.0,733.4 535.3,731.3 536.6,729.0C537.8,726.7 539.1,722.7 540.3,720.3C541.6,717.8 542.8,715.9 544.1,714.5C545.3,713.1 546.6,712.1 547.9,712.0C549.1,711.9 550.4,713.0 551.6,714.0C552.9,715.0 554.0,716.8 555.4,718.3C556.7,719.7 558.4,721.6 559.9,722.8C561.3,723.9 562.7,724.5 564.1,725.3C565.5,726.0 567.0,727.5 568.4,727.3C569.7,727.1 571.0,725.2 572.4,724.0C573.8,722.8 575.1,720.7 576.6,720.3C578.2,719.8 579.8,721.0 581.6,721.5C583.5,722.0 586.1,722.9 587.9,723.3C589.7,723.6 591.1,724.2 592.4,723.5C593.7,722.8 594.8,720.8 595.9,719.0C597.0,717.2 598.1,714.1 599.1,712.8C600.2,711.4 601.4,710.6 602.4,711.0C603.4,711.4 604.4,713.1 605.4,715.3C606.4,717.4 607.2,721.6 608.4,724.0C609.6,726.4 611.2,728.6 612.4,729.8C613.7,730.9 614.8,730.6 615.9,730.8C617.0,731.0 618.0,730.3 619.2,731.0C620.3,731.8 621.8,733.9 622.9,735.3C624.0,736.6 624.9,738.6 625.9,739.0C627.0,739.4 628.1,739.9 629.2,737.8C630.3,735.7 631.4,730.5 632.4,726.5C633.5,722.6 634.4,717.3 635.4,714.0C636.5,710.7 637.5,708.0 638.7,706.5C639.9,705.0 641.2,704.8 642.4,705.2C643.6,705.7 644.6,706.9 645.9,709.0C647.3,711.1 648.9,714.8 650.4,717.8C651.9,720.7 653.5,724.2 654.9,726.5C656.4,728.8 657.9,729.8 659.2,731.5C660.5,733.2 661.8,734.9 663.0,736.5C664.1,738.2 665.0,740.6 666.0,741.5C666.9,742.4 667.6,742.9 668.5,742.0C669.3,741.2 670.0,739.5 671.0,736.5C671.9,733.5 673.1,727.3 674.2,724.0C675.3,720.7 676.4,718.0 677.5,716.5C678.5,715.0 679.3,714.6 680.5,714.8C681.6,714.9 683.0,716.3 684.2,717.3C685.5,718.2 686.4,719.1 688.0,720.3C689.6,721.4 691.8,723.2 693.8,724.0C695.8,724.9 698.2,724.8 700.0,725.3C701.9,725.8 703.2,726.5 705.0,727.0C706.9,727.5 709.4,728.1 711.3,728.3C713.2,728.5 714.8,728.8 716.3,728.3C717.8,727.8 718.8,726.5 720.1,725.3C721.3,724.1 722.6,721.9 723.8,721.0C725.1,720.1 726.3,719.6 727.6,719.8C728.8,719.9 730.1,721.0 731.3,722.0C732.6,723.0 733.8,724.7 735.1,725.8C736.3,726.8 737.6,728.2 738.8,728.3C740.0,728.4 741.0,727.7 742.1,726.5C743.1,725.4 744.1,722.9 745.1,721.5C746.1,720.2 747.2,718.5 748.1,718.3C749.0,718.1 749.7,718.7 750.6,720.3C751.4,721.9 752.1,725.2 753.1,727.8C754.0,730.4 755.2,734.2 756.3,735.8C757.4,737.4 758.5,737.8 759.6,737.3C760.6,736.8 761.6,734.5 762.6,732.8C763.6,731.1 764.5,728.5 765.6,727.3C766.6,726.0 767.7,725.3 768.8,725.3C770.0,725.3 771.2,726.6 772.6,727.3C774.0,728.0 775.6,729.2 777.1,729.5C778.6,729.8 779.8,729.5 781.4,729.0C782.9,728.5 784.7,727.2 786.4,726.5C788.0,725.8 789.7,725.2 791.4,724.8C793.0,724.4 795.0,723.6 796.4,724.0C797.7,724.4 798.6,726.0 799.6,727.3C800.7,728.5 801.6,730.6 802.6,731.5C803.6,732.5 804.5,732.9 805.6,732.8C806.8,732.7 808.3,731.8 809.6,731.0C811.0,730.3 812.6,729.0 813.9,728.3C815.2,727.5 816.4,727.5 817.6,726.5C818.9,725.5 820.2,723.9 821.4,722.3C822.6,720.6 823.6,717.7 824.6,716.5C825.7,715.4 826.6,715.1 827.6,715.3C828.7,715.4 829.6,716.8 830.7,717.3C831.7,717.8 832.5,718.6 833.9,718.3C835.3,717.9 837.4,716.6 838.9,715.3C840.5,713.9 841.8,712.0 843.2,710.3C844.5,708.5 845.8,706.5 847.2,704.8C848.5,703.0 850.2,701.0 851.4,699.8C852.7,698.5 853.6,697.1 854.7,697.0C855.7,696.9 856.6,697.4 857.7,699.0C858.8,700.6 860.3,704.0 861.4,706.5C862.6,709.0 863.6,712.4 864.7,714.0C865.8,715.7 867.1,716.5 868.2,716.5C869.3,716.5 870.4,715.7 871.4,714.0C872.5,712.4 873.6,708.5 874.7,706.5C875.7,704.6 876.7,702.7 877.7,702.3C878.7,701.8 879.7,702.5 880.7,704.0C881.7,705.6 882.9,709.2 884.0,711.5C885.0,713.8 886.2,716.6 887.2,717.8C888.2,718.9 889.1,718.5 890.2,718.5C891.3,718.5 892.8,717.9 894.0,717.8C895.1,717.6 896.0,717.1 897.2,717.8C898.5,718.4 900.0,720.3 901.5,721.5C902.9,722.8 904.3,724.6 905.7,725.3C907.1,726.0 908.3,725.8 909.7,725.8C911.1,725.8 912.6,725.0 914.0,725.3C915.3,725.5 916.3,726.2 917.7,727.3C919.2,728.4 920.9,730.6 922.7,732.0C924.6,733.5 926.9,734.9 929.0,736.0C931.1,737.2 933.4,738.3 935.2,739.0C937.1,739.8 938.8,739.8 940.3,740.8C941.7,741.8 942.7,743.0 944.0,744.8C945.3,746.6 946.9,749.7 948.3,751.6C949.6,753.4 950.9,754.9 952.3,756.1C953.6,757.2 955.0,757.7 956.5,758.3C958.1,758.9 960.1,759.4 961.5,759.8C963.0,760.3 964.0,760.9 965.3,761.1C966.5,761.2 967.9,761.6 969.0,760.8C970.2,760.1 971.2,758.4 972.3,756.6C973.3,754.7 974.3,751.5 975.3,749.8C976.3,748.1 977.2,747.0 978.3,746.5C979.3,746.1 980.4,746.9 981.5,747.1C982.7,747.2 984.2,747.8 985.3,747.3C986.4,746.8 987.3,746.3 988.3,744.0C989.3,741.8 990.5,737.6 991.5,734.0C992.6,730.5 993.8,725.3 994.8,722.8C995.8,720.3 996.7,719.4 997.8,719.0C998.9,718.6 1000.3,719.6 1001.6,720.3C1002.8,721.0 1003.9,723.0 1005.3,723.3C1006.7,723.6 1008.2,722.7 1009.8,722.0C1011.4,721.3 1013.3,720.4 1014.8,719.0C1016.4,717.7 1017.7,715.5 1019.1,714.0C1020.4,712.6 1021.6,710.9 1022.8,710.3C1024.1,709.6 1025.4,709.8 1026.6,710.3C1027.7,710.8 1028.8,712.4 1029.8,713.3C1030.9,714.1 1031.7,715.4 1032.8,715.3C1034.0,715.2 1035.3,714.0 1036.6,712.8C1037.8,711.5 1039.1,709.0 1040.3,707.8C1041.6,706.5 1042.8,705.8 1044.1,705.3C1045.4,704.8 1047.0,705.4 1048.4,704.8C1049.7,704.1 1051.1,703.5 1052.4,701.5C1053.6,699.5 1054.6,695.7 1055.9,692.8C1057.1,689.8 1058.7,686.0 1059.9,684.0C1061.0,682.0 1061.9,681.0 1062.9,680.7C1063.9,680.4 1064.7,681.3 1065.9,682.2C1067.0,683.2 1068.5,685.2 1069.9,686.5C1071.2,687.8 1072.8,689.4 1074.1,690.2C1075.5,691.1 1076.6,691.0 1077.9,691.5C1079.1,692.0 1080.4,691.8 1081.6,693.3C1082.9,694.7 1084.1,698.2 1085.4,700.3C1086.6,702.3 1088.0,705.0 1089.1,705.8C1090.3,706.5 1091.3,705.8 1092.4,704.8C1093.5,703.8 1094.8,700.8 1095.9,699.8C1097.0,698.7 1098.0,698.1 1099.1,698.3C1100.3,698.4 1101.5,700.0 1102.9,700.8C1104.3,701.5 1105.9,702.3 1107.4,702.8C1108.9,703.2 1110.4,702.2 1111.7,703.3C1112.9,704.3 1113.8,706.2 1114.9,709.0C1116.0,711.9 1117.2,716.7 1118.4,720.3C1119.7,723.8 1121.0,727.4 1122.4,730.3C1123.8,733.2 1125.4,736.2 1126.7,737.8C1127.9,739.4 1128.8,739.9 1129.9,739.8C1131.1,739.7 1132.1,738.5 1133.4,737.3C1134.8,736.0 1136.3,733.5 1137.9,732.3C1139.5,731.1 1141.1,730.7 1142.9,730.3C1144.8,729.9 1147.3,729.6 1149.2,729.8C1151.1,730.0 1152.5,731.0 1154.2,731.5C1155.9,732.1 1157.5,732.8 1159.2,733.3C1160.9,733.8 1162.5,734.5 1164.2,734.5C1165.9,734.5 1167.8,732.7 1169.2,733.3C1170.7,733.8 1171.6,735.8 1173.0,737.8C1174.3,739.8 1176.0,743.3 1177.5,745.3C1178.9,747.3 1180.2,748.8 1181.7,749.8C1183.3,750.8 1185.3,751.1 1186.7,751.6C1188.1,752.0 1188.8,752.0 1190.0,752.3C1191.2,752.6 1192.6,752.2 1193.8,753.3C1194.9,754.4 1195.9,756.6 1197.0,759.1C1198.2,761.5 1199.4,765.6 1200.5,767.8C1201.7,770.0 1202.7,771.5 1203.8,772.3C1204.9,773.2 1205.8,773.4 1207.0,772.8C1208.3,772.3 1210.0,770.9 1211.3,769.1C1212.6,767.2 1213.8,764.1 1215.0,761.6C1216.3,759.1 1217.5,756.0 1218.8,754.1C1220.1,752.1 1221.6,750.7 1223.1,749.8C1224.5,748.9 1226.2,749.1 1227.6,748.6C1228.9,748.0 1230.1,747.8 1231.3,746.5C1232.6,745.3 1233.9,742.3 1235.1,740.8C1236.2,739.3 1237.0,738.1 1238.1,737.8C1239.1,737.5 1240.2,738.5 1241.3,739.0C1242.5,739.5 1243.8,740.8 1245.1,740.8C1246.3,740.8 1247.4,740.4 1248.8,739.0C1250.3,737.7 1252.2,735.3 1253.8,732.8C1255.5,730.3 1257.3,727.2 1258.8,724.0C1260.4,720.9 1261.8,716.7 1263.1,714.0C1264.3,711.3 1265.3,709.0 1266.3,707.8C1267.4,706.5 1268.5,705.9 1269.6,706.5C1270.7,707.1 1271.8,710.1 1273.1,711.5C1274.4,713.0 1275.7,715.0 1277.1,715.3C1278.5,715.6 1279.8,714.1 1281.4,713.3C1282.9,712.4 1284.5,711.8 1286.4,710.3C1288.2,708.7 1290.5,705.8 1292.6,704.0C1294.7,702.3 1297.2,701.6 1298.9,699.8C1300.5,697.9 1301.5,695.4 1302.6,692.8C1303.8,690.1 1304.6,685.9 1305.6,684.0C1306.7,682.1 1307.7,681.6 1308.9,681.5C1310.0,681.4 1311.5,682.5 1312.6,683.2C1313.8,684.0 1314.6,686.0 1315.6,685.7C1316.7,685.5 1317.8,683.3 1318.9,681.5C1320.0,679.7 1321.1,676.2 1322.1,674.7C1323.2,673.3 1324.0,672.3 1325.1,672.7C1326.3,673.1 1327.4,675.4 1328.9,677.2C1330.4,679.1 1332.2,681.7 1333.9,684.0C1335.6,686.2 1337.2,688.9 1338.9,690.7C1340.6,692.6 1342.5,693.3 1343.9,695.3C1345.4,697.3 1346.4,700.2 1347.7,702.8C1348.9,705.3 1350.2,709.1 1351.4,710.8C1352.7,712.4 1353.8,712.6 1355.2,712.8C1356.6,712.9 1358.2,711.3 1359.7,711.5C1361.1,711.7 1362.4,712.6 1363.9,714.0C1365.5,715.5 1367.3,718.4 1368.9,720.3C1370.6,722.2 1372.3,724.1 1373.9,725.3C1375.6,726.4 1377.4,727.1 1378.9,727.3C1380.5,727.5 1381.7,726.4 1383.2,726.5C1384.7,726.7 1386.3,728.1 1387.7,728.3C1389.1,728.5 1390.2,728.9 1391.5,727.8C1392.7,726.7 1394.0,724.2 1395.2,721.5C1396.5,718.8 1397.8,713.6 1399.0,711.5C1400.1,709.4 1401.2,708.8 1402.2,709.0C1403.3,709.2 1404.1,710.5 1405.2,712.8C1406.3,715.1 1407.7,719.4 1409.0,722.8C1410.2,726.1 1411.5,730.7 1412.7,732.8C1414.0,734.9 1415.1,735.0 1416.5,735.3C1417.8,735.6 1419.4,734.0 1420.7,734.8C1422.1,735.6 1423.4,738.1 1424.7,740.3C1426.1,742.5 1427.4,745.3 1429.0,747.8C1430.5,750.3 1432.5,753.0 1434.0,755.3C1435.5,757.6 1436.5,760.1 1437.8,761.6C1439.0,763.0 1440.3,764.1 1441.5,764.1C1442.8,764.1 1444.1,762.4 1445.3,761.6C1446.4,760.7 1447.2,759.1 1448.3,759.1C1449.3,759.1 1450.3,760.1 1451.5,761.6C1452.7,763.0 1454.1,766.4 1455.3,767.8C1456.4,769.3 1457.0,770.7 1458.3,770.3C1459.5,769.9 1461.0,767.4 1462.8,765.3C1464.6,763.2 1467.2,760.3 1469.0,757.8C1470.9,755.3 1472.5,752.4 1474.0,750.3C1475.6,748.2 1476.9,746.2 1478.3,745.3C1479.7,744.4 1481.1,744.2 1482.3,744.8C1483.5,745.4 1484.2,747.1 1485.3,749.1C1486.4,751.0 1487.9,754.8 1489.0,756.6C1490.2,758.4 1491.2,759.8 1492.3,759.8C1493.4,759.8 1494.5,758.6 1495.8,756.6C1497.1,754.6 1498.7,750.3 1500.3,747.8C1501.9,745.3 1503.4,743.4 1505.3,741.5C1507.2,739.7 1509.5,738.2 1511.6,736.5C1513.7,734.9 1515.5,732.9 1517.8,731.5C1520.1,730.2 1523.2,729.2 1525.3,728.3C1527.5,727.3 1529.3,726.5 1530.8,725.8C1532.4,725.1 1533.6,723.9 1534.8,724.0C1536.1,724.2 1537.2,725.5 1538.3,726.5C1539.5,727.6 1540.5,729.5 1541.6,730.3C1542.7,731.1 1543.7,732.2 1544.8,731.5C1546.0,730.9 1547.0,729.0 1548.4,726.5C1549.7,724.0 1551.3,719.4 1552.9,716.5C1554.4,713.6 1556.2,711.2 1557.9,709.0C1559.5,706.8 1561.4,704.5 1562.9,703.3C1564.3,702.0 1565.4,701.4 1566.6,701.5C1567.9,701.6 1569.1,703.5 1570.4,704.0C1571.6,704.6 1573.0,705.4 1574.1,704.8C1575.3,704.1 1576.3,702.7 1577.4,700.3C1578.5,697.8 1579.6,693.2 1580.9,690.2C1582.1,687.3 1583.6,684.4 1584.9,682.7C1586.2,681.1 1587.4,680.2 1588.6,680.2C1589.9,680.2 1591.2,681.1 1592.4,682.7C1593.6,684.4 1594.6,687.1 1595.9,690.2C1597.1,693.4 1598.5,698.4 1599.9,701.5C1601.3,704.6 1602.6,706.9 1604.2,709.0C1605.7,711.1 1607.5,712.2 1609.2,714.0C1610.8,715.8 1612.3,717.7 1614.2,719.8C1616.0,721.9 1618.5,724.7 1620.4,726.5C1622.4,728.4 1624.3,730.4 1625.9,730.8C1627.6,731.2 1628.6,730.0 1630.4,729.0C1632.2,728.1 1634.8,726.1 1636.7,725.3C1638.6,724.4 1640.2,723.6 1641.7,724.0C1643.1,724.4 1644.0,726.1 1645.4,727.8C1646.9,729.5 1648.8,732.0 1650.4,734.0C1652.1,736.0 1654.0,738.5 1655.4,739.8C1656.9,741.0 1658.0,741.1 1659.2,741.5C1660.5,742.0 1661.7,741.8 1663.0,742.3C1664.2,742.8 1665.5,744.4 1666.7,744.8C1668.0,745.2 1669.2,746.2 1670.5,744.8C1671.7,743.4 1673.0,739.4 1674.2,736.5C1675.4,733.7 1676.5,729.5 1677.5,727.8C1678.4,726.1 1679.1,726.0 1680.0,726.5C1680.8,727.0 1681.7,728.2 1682.5,730.8C1683.4,733.4 1684.1,738.8 1685.0,742.0C1686.0,745.3 1687.0,748.9 1688.1,750.3C1689.1,751.7 1689.9,751.5 1691.1,750.3C1692.2,749.1 1693.7,745.3 1695.1,743.3C1696.4,741.3 1697.8,740.0 1699.3,738.3C1700.9,736.6 1702.6,734.9 1704.3,733.3C1706.0,731.7 1707.9,729.5 1709.3,728.8C1710.8,728.1 1711.6,729.7 1713.1,729.0C1714.5,728.3 1716.6,726.2 1718.1,724.5C1719.5,722.9 1720.6,720.2 1721.8,719.0C1723.1,717.9 1724.2,717.6 1725.6,717.8C1727.0,718.0 1728.6,719.0 1730.1,720.3C1731.5,721.5 1733.0,723.9 1734.3,725.3C1735.7,726.6 1736.8,728.2 1738.1,728.3C1739.3,728.4 1740.6,726.8 1741.8,725.8C1743.1,724.7 1744.1,722.9 1745.6,722.0C1747.1,721.2 1749.3,722.0 1750.6,720.8C1751.9,719.5 1752.6,716.8 1753.6,714.5C1754.7,712.2 1755.7,708.9 1756.9,707.0C1758.0,705.1 1759.4,703.6 1760.6,703.3C1761.9,703.0 1763.1,703.6 1764.4,705.3C1765.6,706.9 1766.9,710.3 1768.1,713.3C1769.4,716.3 1770.6,720.4 1771.9,723.3C1773.1,726.2 1774.5,729.3 1775.6,730.8C1776.8,732.2 1777.6,732.7 1778.6,732.0C1779.7,731.4 1780.7,729.3 1781.9,727.0C1783.1,724.7 1784.4,720.7 1785.6,718.3C1786.9,715.9 1788.1,713.9 1789.4,712.8C1790.6,711.6 1791.9,711.0 1793.1,711.3C1794.4,711.6 1795.4,713.6 1796.9,714.5C1798.4,715.5 1800.4,715.8 1801.9,717.0C1803.4,718.3 1804.4,719.9 1805.7,722.0C1806.9,724.1 1808.1,727.2 1809.4,729.5C1810.7,731.8 1812.4,734.4 1813.7,735.8C1814.9,737.2 1815.8,738.2 1816.9,737.8C1818.1,737.4 1819.4,735.7 1820.7,733.3C1821.9,730.9 1823.2,726.3 1824.4,723.3C1825.7,720.3 1826.9,717.0 1828.2,715.3C1829.4,713.5 1830.8,712.7 1831.9,712.8C1833.1,712.9 1834.1,713.8 1835.2,715.8C1836.2,717.7 1837.1,722.1 1838.2,724.5C1839.3,727.0 1840.7,729.7 1841.9,730.3C1843.2,730.9 1844.2,729.5 1845.7,728.3C1847.2,727.1 1849.0,724.5 1850.7,723.3C1852.4,722.0 1854.0,721.4 1855.7,720.8C1857.4,720.2 1859.2,720.3 1860.7,719.5C1862.2,718.8 1863.2,717.0 1864.5,716.3C1865.7,715.6 1867.0,715.0 1868.2,715.3C1869.5,715.5 1870.7,717.1 1872.0,717.8C1873.2,718.5 1874.3,719.3 1875.7,719.5C1877.2,719.7 1879.1,719.5 1880.7,719.0C1882.4,718.5 1884.3,717.3 1885.7,716.5C1887.2,715.8 1888.2,714.6 1889.5,714.5C1890.7,714.5 1892.0,715.9 1893.2,716.3C1894.5,716.7 1895.7,717.4 1897.0,717.0C1898.2,716.6 1899.4,714.9 1900.7,713.8C1902.1,712.6 1904.0,710.4 1905.2,710.3C1906.5,710.2 1907.1,711.4 1908.3,713.3C1909.4,715.1 1910.8,719.1 1912.0,721.3C1913.3,723.4 1914.5,725.3 1915.8,726.3C1917.0,727.2 1918.3,727.2 1919.5,727.0C1920.8,726.9 1921.9,726.5 1923.3,725.3C1924.6,724.0 1926.3,720.9 1927.8,719.5C1929.2,718.2 1930.7,717.1 1932.0,717.0C1933.4,716.9 1934.4,718.0 1935.8,719.0C1937.2,720.1 1938.8,721.7 1940.3,723.3C1941.7,724.8 1943.2,727.1 1944.5,728.3C1945.9,729.5 1947.0,730.5 1948.3,730.3C1949.5,730.1 1950.8,727.9 1952.0,727.0C1953.3,726.2 1954.5,725.2 1955.8,725.3C1957.0,725.4 1958.3,727.5 1959.5,727.8C1960.8,728.1 1962.1,728.4 1963.3,727.0C1964.6,725.7 1965.9,721.3 1967.1,719.5C1968.2,717.7 1969.3,716.1 1970.3,716.3C1971.4,716.5 1972.3,719.0 1973.3,720.8C1974.3,722.6 1975.3,725.9 1976.3,727.0C1977.4,728.2 1978.5,728.6 1979.6,727.8C1980.7,727.0 1981.8,723.6 1982.8,722.0C1983.9,720.4 1984.7,718.5 1985.8,718.3C1986.9,718.1 1988.3,719.7 1989.6,720.8C1990.8,721.8 1992.1,724.3 1993.3,724.5C1994.6,724.7 1995.6,723.0 1997.1,722.0C1998.5,721.1 2000.5,719.4 2002.1,718.8C2003.6,718.2 2005.0,717.7 2006.3,718.3C2007.7,718.8 2009.1,720.2 2010.3,722.0C2011.6,723.9 2012.6,727.7 2013.8,729.5C2015.1,731.4 2016.5,732.9 2017.9,733.3C2019.2,733.7 2020.6,732.9 2022.1,732.0C2023.7,731.2 2025.2,729.2 2027.1,728.3C2029.0,727.3 2031.5,727.0 2033.4,726.3C2035.2,725.5 2036.7,724.3 2038.4,723.8C2040.0,723.3 2041.6,723.8 2043.4,723.3C2045.1,722.8 2047.2,720.8 2048.9,720.8C2050.5,720.8 2051.9,721.8 2053.4,723.3C2054.9,724.7 2056.4,727.2 2057.9,729.5C2059.3,731.8 2060.6,735.4 2062.1,737.0C2063.7,738.7 2065.7,739.8 2067.1,739.5C2068.6,739.3 2069.7,737.7 2070.9,735.8C2072.2,733.9 2073.5,730.0 2074.7,728.3C2075.8,726.6 2076.8,725.6 2077.9,725.8C2079.0,726.0 2080.2,728.2 2081.4,729.5C2082.7,730.9 2084.0,732.8 2085.4,733.8C2086.8,734.7 2088.1,735.2 2089.7,735.3C2091.2,735.4 2093.2,734.8 2094.7,734.5C2096.1,734.3 2097.8,733.9 2098.4,733.8"/>
<path class="crv" clip-path="url(#plotclip)" stroke="#37A96A" d="M172.5,570.1C173.0,571.5 174.5,576.2 175.5,578.1C176.6,580.1 177.7,582.0 178.8,581.9C179.8,581.8 181.0,579.8 182.0,577.6C183.1,575.5 184.0,571.4 185.0,568.9C186.0,566.4 187.0,563.7 188.0,562.6C189.1,561.6 190.2,561.8 191.3,562.6C192.4,563.4 193.5,565.9 194.5,567.6C195.6,569.4 196.5,572.1 197.5,573.1C198.5,574.2 199.4,574.6 200.5,573.9C201.7,573.2 203.2,570.7 204.5,568.9C205.9,567.1 207.5,564.4 208.8,563.1C210.0,561.9 210.8,561.6 212.0,561.4C213.3,561.2 214.8,561.9 216.3,561.9C217.8,561.9 219.6,561.9 221.3,561.4C223.0,560.9 224.6,560.0 226.3,558.9C228.0,557.7 229.9,555.6 231.3,554.6C232.8,553.6 233.8,552.5 235.1,552.6C236.3,552.7 237.6,553.6 238.8,555.1C240.1,556.6 241.3,558.9 242.6,561.4C243.8,563.9 245.1,567.3 246.3,570.1C247.6,573.0 248.9,576.6 250.1,578.4C251.2,580.2 252.3,581.0 253.3,580.9C254.4,580.8 255.2,579.4 256.3,577.6C257.5,575.8 258.8,572.3 260.1,570.1C261.3,567.9 262.6,565.8 263.8,564.4C265.1,562.9 266.3,561.9 267.6,561.4C268.8,560.8 270.1,560.7 271.3,560.9C272.6,561.1 273.8,562.5 275.1,562.6C276.4,562.7 277.7,562.5 278.9,561.4C280.0,560.2 281.1,557.5 282.1,555.6C283.2,553.7 284.1,551.4 285.1,550.1C286.1,548.8 287.1,548.1 288.1,548.1C289.2,548.1 290.2,548.7 291.4,550.1C292.5,551.5 293.9,554.1 295.1,556.4C296.4,558.7 297.6,562.0 298.9,563.9C300.1,565.7 301.2,566.9 302.6,567.6C304.0,568.3 305.7,568.3 307.1,568.1C308.6,567.9 309.8,567.2 311.4,566.4C312.9,565.5 314.7,564.0 316.4,563.1C318.1,562.2 319.9,561.9 321.4,560.9C322.9,559.9 324.4,558.4 325.6,557.1C326.9,555.8 327.7,554.1 328.9,553.1C330.1,552.1 331.2,551.6 332.7,551.4C334.1,551.1 335.9,551.1 337.7,551.4C339.4,551.6 341.5,552.0 343.2,552.6C344.8,553.2 346.3,554.1 347.7,555.1C349.0,556.1 350.3,558.1 351.4,558.9C352.6,559.6 353.5,560.0 354.7,559.6C355.8,559.2 356.9,557.4 358.2,556.4C359.4,555.3 360.8,553.6 362.2,553.4C363.6,553.1 365.0,553.9 366.4,554.6C367.9,555.3 369.3,556.3 370.7,557.6C372.1,558.9 373.4,560.9 374.7,562.6C375.9,564.4 377.1,566.9 378.2,568.1C379.3,569.3 380.4,570.1 381.4,569.6C382.5,569.1 383.6,567.3 384.7,565.1C385.8,562.9 387.0,558.8 388.2,556.4C389.5,553.9 391.0,551.8 392.2,550.6C393.5,549.4 394.4,549.4 395.7,549.4C397.0,549.4 398.7,549.9 400.2,550.6C401.7,551.4 403.4,552.3 404.7,553.9C406.1,555.4 407.0,557.6 408.2,560.1C409.5,562.6 410.9,566.6 412.2,568.9C413.5,571.2 414.9,573.0 416.0,573.9C417.1,574.7 417.4,574.5 419.0,573.9C420.5,573.2 423.4,571.8 425.2,570.1C427.1,568.5 428.6,565.9 430.2,563.9C431.9,561.8 433.7,559.3 435.2,557.6C436.8,555.9 438.5,554.7 439.8,553.9C441.0,553.0 441.8,552.3 442.8,552.6C443.8,552.9 444.7,553.7 445.8,555.6C446.8,557.5 447.9,561.6 449.0,563.9C450.1,566.2 451.2,568.3 452.3,569.4C453.3,570.4 454.1,570.4 455.3,570.1C456.4,569.8 457.9,568.5 459.0,567.6C460.2,566.8 461.2,565.4 462.3,565.1C463.3,564.8 464.1,565.4 465.3,565.6C466.4,565.8 467.9,566.9 469.0,566.4C470.2,565.9 471.2,564.0 472.3,562.6C473.4,561.2 474.7,558.9 475.8,558.1C476.9,557.3 477.9,557.1 479.0,557.6C480.2,558.2 481.5,560.3 482.8,561.4C484.0,562.4 485.4,563.9 486.5,563.9C487.7,563.9 488.7,562.8 489.8,561.4C490.9,559.9 492.2,556.7 493.3,555.1C494.4,553.5 495.5,552.3 496.6,551.9C497.6,551.4 498.8,552.4 499.8,552.6C500.8,552.9 501.8,553.8 502.8,553.4C503.8,552.9 504.6,551.0 505.8,550.1C507.0,549.2 508.6,548.0 509.8,548.1C511.0,548.2 511.8,548.8 512.8,550.6C513.8,552.4 514.8,556.4 515.8,558.9C516.9,561.3 517.9,563.7 519.1,565.1C520.2,566.5 521.6,566.6 522.8,567.1C524.1,567.7 525.3,567.5 526.6,568.4C527.8,569.3 529.1,570.9 530.3,572.6C531.6,574.4 533.0,577.8 534.1,578.9C535.1,579.9 535.8,580.3 536.6,578.9C537.4,577.4 538.3,573.5 539.1,570.1C539.9,566.8 540.6,561.9 541.6,558.9C542.6,555.8 543.8,553.1 544.8,551.9C545.9,550.6 546.7,550.7 547.9,551.4C549.0,552.0 550.3,554.1 551.6,555.6C552.9,557.1 554.5,559.2 555.9,560.6C557.2,562.0 558.5,563.3 559.9,563.9C561.2,564.4 562.8,564.6 564.1,563.9C565.5,563.2 566.6,561.7 567.9,559.6C569.1,557.5 570.5,553.4 571.6,551.4C572.8,549.4 573.8,547.9 574.9,547.6C575.9,547.3 576.9,547.5 577.9,549.4C578.9,551.2 579.8,556.1 580.9,558.9C581.9,561.6 583.1,564.6 584.1,565.6C585.2,566.7 586.3,566.1 587.4,565.1C588.5,564.1 589.8,561.3 590.9,559.6C592.0,557.9 593.1,555.9 594.1,555.1C595.2,554.3 596.1,554.2 597.4,554.6C598.6,555.0 600.3,556.6 601.7,557.6C603.0,558.6 604.2,560.1 605.4,560.6C606.7,561.2 607.9,560.9 609.2,560.9C610.4,560.8 611.8,559.4 612.9,560.1C614.0,560.8 614.9,562.8 615.9,565.1C617.0,567.4 618.1,571.3 619.2,573.9C620.3,576.5 621.3,579.1 622.4,580.6C623.5,582.2 624.7,583.2 625.9,583.1C627.2,583.0 628.6,581.5 629.9,580.1C631.3,578.8 632.8,576.5 634.2,575.1C635.6,573.8 636.9,572.7 638.4,572.1C640.0,571.6 641.9,571.7 643.4,571.9C645.0,572.1 646.4,572.6 647.9,573.4C649.4,574.1 651.2,576.1 652.4,576.4C653.7,576.7 654.3,576.0 655.4,575.1C656.6,574.3 658.0,572.1 659.2,571.4C660.4,570.6 661.3,570.3 662.5,570.6C663.6,571.0 664.7,572.5 666.0,573.4C667.2,574.2 668.6,575.5 670.0,575.6C671.3,575.7 672.9,574.7 674.2,573.9C675.6,573.1 676.7,571.6 678.0,570.9C679.2,570.2 680.4,570.6 681.7,569.6C683.1,568.7 684.6,566.4 686.0,565.1C687.4,563.8 688.8,562.2 690.0,561.9C691.2,561.5 691.9,562.0 693.0,563.1C694.2,564.3 695.7,567.1 697.0,568.9C698.4,570.7 699.7,572.8 701.3,573.9C702.8,575.0 704.6,574.9 706.3,575.6C708.0,576.4 709.6,578.7 711.3,578.4C713.0,578.1 714.5,575.3 716.3,573.9C718.1,572.5 720.3,571.9 722.1,570.1C723.8,568.3 725.5,565.1 727.1,563.1C728.6,561.1 729.8,559.3 731.3,558.1C732.9,556.9 734.5,556.5 736.3,555.9C738.1,555.3 740.5,554.5 742.1,554.6C743.6,554.7 744.3,555.0 745.6,556.4C746.8,557.7 748.2,559.9 749.6,562.6C751.0,565.3 752.5,569.9 753.8,572.6C755.2,575.4 756.3,577.6 757.6,578.9C758.8,580.1 759.9,580.3 761.3,580.1C762.8,580.0 764.7,578.9 766.3,578.1C768.0,577.4 769.7,575.9 771.3,575.6C773.0,575.4 774.7,576.5 776.4,576.4C778.0,576.3 779.7,575.3 781.4,575.1C783.0,575.0 784.9,575.0 786.4,575.6C787.8,576.3 788.9,578.1 790.1,578.9C791.4,579.7 792.6,580.6 793.9,580.6C795.1,580.6 796.4,579.7 797.6,578.9C798.9,578.1 800.1,575.9 801.4,575.6C802.6,575.4 803.8,576.8 805.1,577.6C806.5,578.5 808.2,580.6 809.6,580.6C811.1,580.6 812.1,579.0 813.9,577.6C815.7,576.3 818.8,574.7 820.6,572.6C822.5,570.6 823.8,567.4 825.1,565.1C826.5,562.8 827.6,560.3 828.9,558.9C830.2,557.5 831.2,557.3 832.7,556.9C834.1,556.5 836.0,557.0 837.7,556.4C839.3,555.7 841.1,555.2 842.7,553.1C844.2,551.0 845.7,547.5 847.2,543.9C848.6,540.2 850.1,534.7 851.4,531.4C852.8,528.0 853.9,524.9 855.2,523.8C856.4,522.8 857.7,524.6 858.9,525.1C860.2,525.6 861.2,527.0 862.7,527.1C864.1,527.2 866.0,525.9 867.7,525.6C869.4,525.3 871.0,525.0 872.7,525.1C874.4,525.2 876.2,525.5 877.7,526.3C879.2,527.2 880.2,528.7 881.4,530.1C882.7,531.5 884.0,533.3 885.2,534.6C886.5,535.9 887.7,537.8 889.0,538.1C890.2,538.4 891.5,537.3 892.7,536.4C894.0,535.4 895.2,533.4 896.5,532.6C897.7,531.8 899.0,531.1 900.2,531.4C901.5,531.6 902.6,532.4 904.0,533.9C905.3,535.3 906.8,537.2 908.2,540.1C909.7,543.0 911.1,547.0 912.7,551.4C914.3,555.7 916.1,562.0 917.7,566.4C919.4,570.8 921.1,573.9 922.7,577.6C924.4,581.4 926.2,585.4 927.7,588.9C929.3,592.4 930.8,596.3 932.2,598.9C933.7,601.5 935.0,603.2 936.5,604.7C938.0,606.1 939.8,606.3 941.5,607.7C943.2,609.0 944.8,610.9 946.5,612.7C948.2,614.4 950.1,616.9 951.5,618.2C953.0,619.4 954.0,619.9 955.3,620.2C956.5,620.5 957.8,620.6 959.0,620.2C960.3,619.8 961.6,618.7 962.8,617.7C963.9,616.6 964.7,614.6 965.8,613.9C966.8,613.3 967.9,613.9 969.0,613.9C970.2,613.9 971.5,614.6 972.8,613.9C974.0,613.3 975.3,611.6 976.5,610.2C977.8,608.8 979.0,606.7 980.3,605.7C981.5,604.6 982.6,604.5 984.0,603.9C985.5,603.3 987.4,602.9 989.0,602.2C990.7,601.5 992.6,601.0 994.1,599.7C995.5,598.3 996.6,596.7 997.8,593.9C999.1,591.1 1000.4,585.6 1001.6,582.6C1002.7,579.7 1003.7,577.7 1004.8,576.4C1005.9,575.1 1007.1,574.9 1008.3,574.6C1009.6,574.4 1011.2,575.7 1012.3,575.1C1013.5,574.6 1014.3,573.5 1015.3,571.4C1016.3,569.3 1017.3,566.6 1018.3,562.6C1019.4,558.7 1020.4,551.8 1021.6,547.6C1022.7,543.4 1023.9,540.7 1025.3,537.6C1026.8,534.5 1028.7,531.6 1030.3,528.8C1032.0,526.1 1033.5,523.6 1035.3,521.3C1037.2,519.0 1039.8,517.6 1041.6,515.1C1043.3,512.6 1044.6,509.2 1045.8,506.3C1047.1,503.5 1048.0,499.9 1049.1,498.1C1050.2,496.2 1051.2,495.2 1052.4,495.1C1053.5,494.9 1054.6,496.2 1055.9,497.1C1057.1,497.9 1058.5,499.4 1059.9,500.1C1061.2,500.7 1062.6,500.7 1064.1,500.8C1065.7,500.9 1067.6,500.6 1069.1,500.6C1070.7,500.5 1072.1,500.0 1073.4,500.6C1074.6,501.1 1075.5,502.0 1076.6,503.8C1077.8,505.6 1079.1,508.8 1080.4,511.3C1081.6,513.8 1083.0,517.4 1084.1,518.8C1085.3,520.3 1086.3,520.3 1087.4,520.1C1088.4,519.9 1089.4,518.2 1090.4,517.6C1091.4,517.0 1092.5,515.9 1093.4,516.3C1094.3,516.8 1094.9,517.8 1095.9,520.1C1096.9,522.4 1098.0,526.3 1099.1,530.1C1100.3,533.9 1101.7,539.1 1102.9,542.6C1104.2,546.2 1105.2,548.8 1106.7,551.4C1108.1,554.0 1110.0,555.9 1111.7,558.1C1113.3,560.3 1115.0,562.8 1116.7,564.6C1118.3,566.4 1120.0,568.0 1121.7,568.9C1123.3,569.8 1125.0,570.3 1126.7,570.1C1128.3,569.9 1130.2,568.0 1131.7,567.6C1133.1,567.3 1134.2,567.8 1135.4,568.1C1136.7,568.5 1138.0,569.8 1139.2,569.6C1140.4,569.5 1141.3,568.7 1142.4,567.1C1143.6,565.6 1144.8,562.0 1145.9,560.1C1147.1,558.2 1148.1,556.5 1149.2,555.6C1150.3,554.8 1151.3,554.9 1152.4,555.1C1153.6,555.4 1154.8,556.8 1156.0,557.1C1157.1,557.5 1158.0,557.3 1159.2,557.1C1160.4,557.0 1161.8,555.9 1163.0,556.4C1164.1,556.9 1164.9,558.3 1166.0,560.1C1167.0,562.0 1168.0,564.7 1169.2,567.6C1170.4,570.6 1171.6,574.5 1173.0,577.6C1174.3,580.8 1176.1,583.5 1177.5,586.4C1178.8,589.3 1179.8,592.0 1181.0,595.2C1182.1,598.3 1183.1,602.3 1184.2,605.2C1185.4,608.1 1186.5,609.8 1188.0,612.7C1189.4,615.6 1191.6,619.3 1193.0,622.7C1194.4,626.0 1195.1,629.7 1196.3,632.7C1197.4,635.7 1198.7,638.9 1200.0,640.7C1201.4,642.5 1203.1,642.8 1204.5,643.5C1206.0,644.1 1207.5,644.3 1208.8,644.7C1210.1,645.1 1211.4,646.3 1212.5,646.0C1213.7,645.6 1214.5,644.9 1215.5,642.7C1216.6,640.5 1217.6,635.6 1218.8,632.7C1220.0,629.8 1221.2,627.2 1222.6,625.2C1223.9,623.2 1225.8,622.4 1227.1,620.7C1228.3,619.0 1229.1,618.0 1230.1,615.2C1231.1,612.4 1232.1,608.1 1233.1,603.9C1234.0,599.7 1234.6,594.1 1235.6,590.2C1236.5,586.2 1237.6,582.3 1238.8,580.1C1240.0,578.0 1241.3,577.5 1242.6,577.1C1243.8,576.8 1245.0,577.8 1246.3,578.1C1247.7,578.5 1249.2,579.6 1250.6,579.4C1252.0,579.2 1253.3,578.4 1254.6,576.9C1255.8,575.4 1257.0,572.9 1258.1,570.1C1259.2,567.3 1260.3,563.1 1261.3,560.1C1262.4,557.1 1263.5,553.8 1264.6,552.1C1265.6,550.5 1266.6,550.0 1267.6,550.1C1268.6,550.2 1269.6,551.7 1270.6,552.6C1271.6,553.5 1272.8,555.4 1273.8,555.6C1274.9,555.8 1276.1,555.4 1277.1,553.9C1278.1,552.3 1279.0,549.1 1280.1,546.4C1281.2,543.7 1282.4,540.7 1283.9,537.6C1285.3,534.5 1287.2,531.1 1288.9,527.6C1290.5,524.1 1292.2,520.3 1293.9,516.3C1295.5,512.4 1297.4,508.0 1298.9,503.8C1300.3,499.7 1301.5,495.1 1302.6,491.3C1303.8,487.6 1304.6,483.5 1305.6,481.3C1306.7,479.1 1307.8,478.3 1308.9,478.1C1310.0,477.8 1311.0,479.4 1312.1,480.1C1313.3,480.7 1314.4,482.3 1315.6,482.1C1316.9,481.8 1318.4,480.5 1319.6,478.8C1320.9,477.1 1322.0,474.1 1323.1,472.0C1324.3,470.0 1325.4,467.5 1326.4,466.3C1327.4,465.0 1327.9,464.3 1328.9,464.5C1329.9,464.7 1331.1,465.4 1332.2,467.5C1333.2,469.7 1334.2,474.0 1335.2,477.6C1336.2,481.1 1337.1,485.7 1338.2,488.8C1339.2,491.9 1340.2,493.7 1341.4,496.3C1342.6,498.9 1343.9,501.0 1345.2,504.6C1346.4,508.1 1347.7,513.4 1348.9,517.6C1350.2,521.8 1351.4,526.5 1352.7,529.6C1353.9,532.7 1355.2,534.6 1356.4,536.4C1357.7,538.1 1358.9,539.2 1360.2,540.1C1361.4,541.1 1362.8,540.7 1363.9,542.1C1365.1,543.6 1366.1,545.2 1367.2,548.9C1368.2,552.5 1369.2,559.3 1370.2,563.9C1371.2,568.5 1372.1,573.3 1373.2,576.4C1374.2,579.4 1375.4,581.9 1376.4,582.1C1377.5,582.4 1378.7,579.9 1379.7,577.6C1380.7,575.4 1381.6,571.3 1382.7,568.9C1383.8,566.5 1385.0,564.8 1386.5,563.1C1387.9,561.5 1389.8,559.9 1391.5,558.9C1393.1,557.9 1394.8,557.2 1396.5,557.1C1398.1,557.0 1400.1,558.5 1401.5,558.4C1402.8,558.3 1403.7,557.7 1404.7,556.4C1405.8,555.1 1406.7,552.5 1407.7,550.6C1408.7,548.7 1409.8,545.9 1410.7,545.1C1411.7,544.3 1412.5,544.4 1413.5,545.6C1414.4,546.8 1415.4,549.3 1416.5,552.1C1417.6,555.0 1418.8,558.6 1420.2,562.6C1421.7,566.7 1423.6,571.6 1425.2,576.4C1426.9,581.2 1428.7,586.8 1430.2,591.4C1431.8,596.0 1433.3,601.0 1434.7,603.9C1436.2,606.8 1437.6,607.5 1439.0,608.9C1440.4,610.4 1441.8,611.1 1443.3,612.7C1444.7,614.2 1446.3,616.9 1447.8,618.2C1449.3,619.4 1450.9,620.5 1452.3,620.2C1453.6,619.9 1454.6,617.8 1455.8,616.4C1456.9,615.1 1457.9,612.8 1459.0,612.2C1460.1,611.6 1461.2,611.8 1462.3,612.7C1463.3,613.6 1464.1,615.4 1465.3,617.7C1466.4,620.0 1467.8,624.1 1469.0,626.4C1470.3,628.7 1471.4,630.5 1472.8,631.4C1474.2,632.4 1475.8,632.0 1477.3,631.9C1478.7,631.9 1480.0,631.2 1481.5,630.9C1483.1,630.7 1485.1,630.9 1486.5,630.2C1488.0,629.4 1488.9,628.1 1490.3,626.4C1491.7,624.8 1493.2,621.9 1494.8,620.2C1496.4,618.5 1498.1,617.8 1499.8,616.4C1501.5,615.1 1503.1,614.0 1504.8,612.2C1506.6,610.4 1508.5,608.5 1510.3,605.7C1512.2,602.8 1513.9,598.6 1515.8,595.2C1517.7,591.7 1519.6,588.8 1521.6,585.2C1523.6,581.5 1525.7,576.5 1527.8,573.1C1529.9,569.8 1532.0,568.2 1534.1,565.1C1536.2,562.0 1538.5,558.0 1540.3,554.6C1542.2,551.3 1543.7,548.8 1545.3,545.1C1547.0,541.4 1548.7,536.8 1550.4,532.6C1552.0,528.4 1553.8,524.1 1555.4,520.1C1556.9,516.1 1558.4,511.8 1559.9,508.8C1561.3,505.8 1562.8,503.3 1564.1,502.1C1565.5,500.8 1566.4,501.3 1567.9,501.3C1569.3,501.3 1571.4,502.0 1572.9,502.1C1574.3,502.2 1575.4,501.6 1576.6,502.1C1577.9,502.6 1578.9,503.4 1580.4,505.1C1581.8,506.7 1583.5,510.2 1585.4,512.1C1587.3,514.0 1589.8,514.7 1591.6,516.3C1593.5,518.0 1595.1,519.4 1596.6,522.1C1598.2,524.8 1599.5,528.6 1600.9,532.6C1602.3,536.6 1603.5,542.3 1604.9,546.4C1606.3,550.5 1607.8,554.3 1609.2,557.1C1610.5,559.9 1611.5,561.5 1612.9,563.1C1614.4,564.8 1616.3,565.0 1617.9,566.9C1619.5,568.8 1621.0,572.2 1622.4,574.6C1623.9,577.1 1625.3,580.0 1626.7,581.4C1628.0,582.8 1629.0,583.0 1630.4,583.1C1631.9,583.3 1633.8,582.3 1635.4,582.1C1637.1,582.0 1638.8,582.3 1640.4,582.1C1642.1,582.0 1644.0,581.1 1645.4,581.4C1646.9,581.7 1647.9,582.9 1649.2,583.9C1650.4,584.9 1651.8,587.2 1652.9,587.7C1654.1,588.1 1654.9,587.7 1656.0,586.4C1657.0,585.2 1658.0,581.7 1659.2,580.1C1660.4,578.6 1661.8,577.1 1663.0,577.1C1664.1,577.1 1664.8,578.3 1666.0,580.1C1667.1,582.0 1668.7,586.2 1670.0,588.2C1671.2,590.2 1672.1,591.5 1673.5,592.2C1674.8,592.8 1676.4,591.7 1678.0,591.9C1679.6,592.1 1681.2,592.7 1683.0,593.2C1684.9,593.6 1687.2,594.5 1689.3,594.7C1691.4,594.9 1693.9,595.1 1695.6,594.4C1697.2,593.7 1698.1,592.5 1699.3,590.7C1700.6,588.8 1701.8,585.2 1703.1,583.2C1704.3,581.1 1705.6,579.3 1706.8,578.6C1708.1,578.0 1709.3,579.1 1710.6,579.4C1711.8,579.6 1712.9,580.3 1714.3,580.1C1715.8,580.0 1717.5,579.2 1719.3,578.6C1721.1,578.1 1723.4,577.7 1725.1,576.9C1726.8,576.1 1728.0,575.0 1729.3,573.6C1730.7,572.3 1731.6,570.6 1733.1,568.9C1734.6,567.2 1736.6,565.8 1738.1,563.6C1739.6,561.4 1740.7,558.4 1741.8,555.6C1743.0,552.8 1744.0,549.2 1745.1,546.9C1746.2,544.6 1747.4,542.9 1748.6,541.9C1749.9,540.8 1751.2,540.5 1752.6,540.6C1754.0,540.7 1755.5,541.4 1756.9,542.6C1758.2,543.9 1759.4,545.7 1760.6,548.1C1761.9,550.5 1763.1,554.7 1764.4,556.9C1765.6,559.0 1766.9,560.7 1768.1,561.1C1769.4,561.5 1770.5,560.3 1771.9,559.4C1773.2,558.5 1774.9,556.0 1776.1,555.6C1777.4,555.2 1778.2,555.7 1779.4,556.9C1780.6,558.0 1782.0,561.3 1783.1,562.6C1784.3,564.0 1785.1,565.3 1786.1,565.1C1787.2,565.0 1788.2,563.3 1789.4,561.9C1790.6,560.5 1791.9,557.9 1793.1,556.9C1794.4,555.8 1795.4,555.4 1796.9,555.6C1798.4,555.8 1800.4,556.9 1801.9,558.1C1803.4,559.4 1804.4,561.4 1805.7,563.1C1806.9,564.9 1808.2,567.4 1809.4,568.6C1810.7,569.9 1811.9,570.7 1813.2,570.6C1814.4,570.6 1815.5,569.6 1816.9,568.1C1818.4,566.7 1820.3,563.8 1821.9,561.9C1823.6,560.0 1825.5,557.8 1826.9,556.9C1828.4,555.9 1829.4,555.6 1830.7,556.1C1831.9,556.7 1833.2,558.5 1834.4,560.1C1835.7,561.7 1836.9,564.4 1838.2,565.6C1839.4,566.9 1840.8,567.7 1841.9,567.6C1843.1,567.6 1844.2,566.9 1845.2,565.1C1846.2,563.3 1847.2,559.7 1848.2,556.9C1849.2,554.0 1850.2,550.2 1851.2,548.1C1852.2,546.0 1853.4,544.8 1854.5,544.4C1855.5,543.9 1856.6,544.6 1857.7,545.6C1858.8,546.7 1860.0,548.9 1861.2,550.6C1862.5,552.4 1863.8,555.1 1865.2,556.1C1866.6,557.2 1868.1,557.2 1869.5,556.9C1870.8,556.6 1871.8,555.0 1873.2,554.4C1874.7,553.7 1876.8,553.0 1878.2,553.1C1879.7,553.2 1880.7,553.9 1882.0,555.1C1883.2,556.4 1884.5,558.7 1885.7,560.6C1887.0,562.6 1888.3,565.4 1889.5,566.9C1890.7,568.3 1891.7,569.6 1892.7,569.4C1893.8,569.2 1894.7,567.7 1895.7,565.6C1896.7,563.6 1897.7,559.6 1898.7,556.9C1899.8,554.2 1900.9,551.0 1902.0,549.4C1903.1,547.7 1904.2,546.9 1905.2,546.9C1906.3,546.9 1907.1,548.3 1908.3,549.4C1909.4,550.4 1910.8,552.5 1912.0,553.1C1913.3,553.7 1914.5,554.0 1915.8,553.1C1917.0,552.3 1918.3,549.6 1919.5,548.1C1920.8,546.7 1922.0,544.7 1923.3,544.4C1924.5,544.0 1925.8,544.9 1927.0,546.1C1928.3,547.4 1929.5,549.7 1930.8,551.9C1932.0,554.1 1933.3,557.1 1934.5,559.4C1935.8,561.7 1937.0,564.3 1938.3,565.6C1939.5,567.0 1940.8,567.6 1942.0,567.6C1943.3,567.7 1944.5,566.6 1945.8,566.1C1947.0,565.7 1948.3,565.1 1949.5,565.1C1950.8,565.1 1952.0,566.3 1953.3,566.1C1954.5,566.0 1955.8,565.9 1957.0,564.4C1958.3,562.8 1959.4,559.4 1960.8,556.9C1962.2,554.4 1963.8,551.3 1965.3,549.4C1966.8,547.4 1968.3,545.7 1969.6,545.1C1970.8,544.6 1971.7,544.6 1972.8,546.1C1973.9,547.7 1975.2,551.5 1976.3,554.4C1977.4,557.2 1978.4,561.0 1979.6,563.1C1980.7,565.2 1981.9,566.5 1983.3,566.9C1984.7,567.3 1986.4,566.7 1987.8,565.6C1989.3,564.6 1990.7,562.1 1992.1,560.6C1993.4,559.2 1994.5,557.7 1995.8,556.9C1997.2,556.0 1998.9,555.3 2000.3,555.6C2001.8,555.9 2003.3,557.2 2004.6,558.6C2005.9,560.1 2007.1,562.5 2008.3,564.4C2009.6,566.3 2010.9,569.0 2012.1,570.1C2013.3,571.3 2014.1,571.7 2015.4,571.1C2016.6,570.6 2018.1,568.6 2019.6,566.9C2021.1,565.1 2023.1,562.5 2024.6,560.6C2026.1,558.8 2027.2,556.4 2028.4,555.6C2029.5,554.9 2030.3,554.9 2031.4,556.1C2032.4,557.4 2033.5,560.6 2034.6,563.1C2035.7,565.6 2036.6,568.8 2037.9,571.1C2039.1,573.4 2040.8,575.7 2042.1,576.9C2043.5,578.1 2044.6,578.6 2045.9,578.1C2047.1,577.7 2048.2,575.9 2049.6,574.4C2051.1,572.9 2053.0,570.3 2054.6,568.9C2056.3,567.4 2058.1,566.7 2059.6,565.6C2061.2,564.6 2062.5,563.3 2063.9,562.6C2065.3,562.0 2066.7,561.2 2067.9,561.9C2069.1,562.6 2069.9,564.7 2070.9,566.9C2071.9,569.1 2072.9,573.2 2073.9,575.1C2074.9,577.1 2076.0,578.6 2077.2,578.6C2078.3,578.6 2079.8,576.5 2080.9,575.1C2082.0,573.8 2082.9,571.6 2083.9,570.6C2085.0,569.7 2086.0,569.2 2087.2,569.4C2088.3,569.6 2089.7,570.9 2090.9,571.9C2092.2,572.9 2093.4,574.4 2094.7,575.1C2095.9,575.9 2097.8,576.0 2098.4,576.1"/>
<g fill="#000">
<path d="M864.95,500.10 L842.30,462.00 L887.60,462.00 Z"/>
<path d="M1060.00,465.10 L1037.35,427.00 L1082.65,427.00 Z"/>
<path d="M1159.80,538.10 L1137.15,500.00 L1182.45,500.00 Z"/>
<path d="M1322.00,455.10 L1299.35,417.00 L1344.65,417.00 Z"/>
<path d="M1411.00,532.20 L1388.35,494.10 L1433.65,494.10 Z"/>
<path d="M1568.85,486.10 L1546.20,448.00 L1591.50,448.00 Z"/>
<path d="M867.05,675.30 L844.40,637.20 L889.70,637.20 Z"/>
<path d="M1065.85,664.30 L1043.20,626.20 L1088.50,626.20 Z"/>
<path d="M1159.80,703.30 L1137.15,665.20 L1182.45,665.20 Z"/>
<path d="M1321.90,648.30 L1299.25,610.20 L1344.55,610.20 Z"/>
<path d="M1398.85,691.30 L1376.20,653.20 L1421.50,653.20 Z"/>
<path d="M1584.90,670.30 L1562.25,632.20 L1607.55,632.20 Z"/>
</g>
<path class="crv" clip-path="url(#plotclip)" stroke="#B175E0" d="M172.5,382.8C173.1,383.5 175.0,386.5 176.3,387.3C177.5,388.0 178.6,388.4 180.0,387.3C181.4,386.2 183.1,382.6 184.5,380.8C186.0,379.0 187.0,377.1 188.8,376.5C190.5,375.9 192.8,377.1 195.0,377.3C197.2,377.5 200.2,377.3 202.0,377.8C203.9,378.3 204.8,379.4 206.3,380.3C207.7,381.2 209.3,383.0 210.8,383.3C212.3,383.6 213.6,382.4 215.0,382.0C216.5,381.7 217.9,380.8 219.6,381.0C221.2,381.2 223.3,382.7 225.1,383.3C226.8,383.9 228.5,385.0 230.1,384.5C231.6,384.0 233.0,382.2 234.6,380.3C236.1,378.3 238.0,374.7 239.6,372.8C241.1,370.9 242.5,369.2 243.8,369.0C245.2,368.8 246.2,370.0 247.6,371.5C249.0,373.1 250.7,376.6 252.1,378.3C253.4,380.0 254.2,381.2 255.6,381.5C256.9,381.9 258.1,381.1 260.1,380.3C262.1,379.5 265.3,377.8 267.6,376.5C269.9,375.3 272.2,372.9 273.8,372.8C275.5,372.7 276.4,374.7 277.6,375.8C278.9,376.9 280.1,378.9 281.4,379.5C282.6,380.2 283.7,380.1 285.1,379.8C286.6,379.5 288.4,377.9 290.1,377.8C291.8,377.7 293.5,378.6 295.1,379.0C296.8,379.5 298.0,379.9 300.1,380.3C302.2,380.7 305.5,380.8 307.6,381.5C309.7,382.3 311.0,383.7 312.6,384.8C314.3,385.9 316.2,387.6 317.6,388.3C319.1,389.0 319.9,389.5 321.4,389.0C322.9,388.6 324.6,387.0 326.4,385.8C328.2,384.5 330.3,382.7 332.2,381.5C334.0,380.3 335.9,379.0 337.7,378.5C339.4,378.1 341.0,378.8 342.7,379.0C344.3,379.2 346.0,379.6 347.7,379.8C349.3,380.0 351.2,380.8 352.7,380.3C354.1,379.7 355.2,377.7 356.4,376.5C357.7,375.4 359.1,373.4 360.2,373.3C361.3,373.2 362.1,374.7 363.2,375.8C364.2,376.9 365.4,379.0 366.4,379.8C367.5,380.6 368.2,381.1 369.7,380.8C371.1,380.5 373.2,378.9 375.2,377.8C377.2,376.7 379.6,375.0 381.4,374.0C383.3,373.1 384.8,372.3 386.5,372.0C388.1,371.7 389.6,371.9 391.5,372.3C393.3,372.7 395.6,373.6 397.7,374.3C399.8,375.0 402.4,375.3 404.0,376.5C405.6,377.7 406.0,379.2 407.2,381.5C408.5,383.8 410.1,388.1 411.5,390.3C412.8,392.5 414.2,393.9 415.2,394.5C416.3,395.2 416.7,395.1 417.7,394.0C418.8,393.0 420.2,389.8 421.5,388.3C422.7,386.8 423.8,385.9 425.2,385.3C426.7,384.7 428.6,386.0 430.2,384.8C431.9,383.6 433.7,380.2 435.2,378.3C436.8,376.4 438.3,374.0 439.5,373.5C440.8,373.0 441.6,373.8 442.8,375.3C443.9,376.7 445.3,380.2 446.5,382.3C447.8,384.4 449.1,386.8 450.3,387.8C451.4,388.8 452.0,388.9 453.3,388.3C454.5,387.7 456.2,385.3 457.8,384.0C459.4,382.8 460.7,381.4 462.8,380.8C464.9,380.2 467.8,380.7 470.3,380.3C472.8,379.9 475.9,378.3 477.8,378.3C479.7,378.3 480.1,379.7 481.5,380.3C483.0,380.9 484.0,381.8 486.5,382.0C489.0,382.2 494.1,382.2 496.6,381.5C499.1,380.9 500.1,379.0 501.6,378.3C503.0,377.5 504.1,376.9 505.3,377.0C506.6,377.2 507.6,378.4 509.1,379.0C510.5,379.7 512.2,380.5 514.1,380.8C515.9,381.1 518.2,380.7 520.3,380.8C522.4,380.9 524.5,381.2 526.6,381.5C528.7,381.9 531.0,382.1 532.8,382.8C534.7,383.5 536.3,384.7 537.8,385.8C539.4,386.8 540.9,388.5 542.3,389.0C543.8,389.6 545.3,389.2 546.6,389.0C547.9,388.9 548.9,388.1 550.4,388.3C551.8,388.5 553.9,389.8 555.4,390.3C556.8,390.8 557.7,391.4 559.1,391.0C560.6,390.7 562.6,389.2 564.1,388.3C565.7,387.4 567.1,385.9 568.4,385.8C569.6,385.7 570.5,386.6 571.6,387.8C572.8,389.0 574.1,391.8 575.4,392.8C576.6,393.8 577.9,394.5 579.1,394.0C580.4,393.6 581.8,391.8 582.9,390.3C584.0,388.8 584.7,386.0 585.9,384.8C587.1,383.5 588.5,382.7 589.9,382.8C591.3,382.9 592.8,384.7 594.1,385.3C595.5,385.8 596.5,386.5 597.9,386.0C599.3,385.6 600.9,384.2 602.4,382.8C603.9,381.3 605.3,378.4 606.7,377.3C608.0,376.1 609.2,375.5 610.4,375.8C611.7,376.1 612.8,377.9 614.2,379.0C615.5,380.1 617.0,381.6 618.4,382.3C619.9,383.0 621.3,383.2 622.9,383.3C624.5,383.4 626.5,382.2 627.9,382.8C629.4,383.3 630.3,384.7 631.7,386.5C633.0,388.4 634.5,392.4 635.9,394.0C637.4,395.7 638.9,396.3 640.4,396.5C642.0,396.8 643.8,396.5 645.4,395.8C647.1,395.1 648.8,393.8 650.4,392.3C652.1,390.8 653.8,388.1 655.4,386.5C657.1,385.0 659.0,383.4 660.5,382.8C661.9,382.2 663.0,382.6 664.2,382.8C665.5,383.0 666.5,383.7 668.0,384.0C669.4,384.4 671.3,385.1 673.0,384.8C674.6,384.5 676.4,383.1 678.0,382.3C679.6,381.5 681.2,379.8 682.5,379.8C683.7,379.8 684.4,380.7 685.5,382.3C686.6,383.8 688.3,387.8 689.2,389.0C690.2,390.3 690.3,389.3 691.3,389.8C692.2,390.3 693.8,392.0 695.0,392.0C696.3,392.1 697.5,391.2 698.8,390.3C700.0,389.4 701.3,387.5 702.5,386.5C703.8,385.5 704.4,384.6 706.3,384.3C708.2,384.0 711.7,384.3 713.8,384.5C715.9,384.8 717.1,385.2 718.8,385.8C720.5,386.3 722.3,387.4 723.8,387.8C725.3,388.2 726.6,388.0 728.1,388.3C729.5,388.6 731.2,390.7 732.6,389.8C733.9,388.9 735.1,385.4 736.3,382.8C737.6,380.2 738.8,376.1 740.1,374.0C741.3,371.9 742.6,370.7 743.8,370.3C745.1,369.9 745.9,370.9 747.6,371.5C749.2,372.2 752.0,373.0 753.8,374.0C755.7,375.1 757.2,376.2 758.8,377.8C760.5,379.3 762.2,381.7 763.8,383.3C765.5,384.9 767.3,386.3 768.8,387.3C770.4,388.3 771.8,388.9 773.1,389.0C774.4,389.2 775.2,388.7 776.4,388.3C777.5,387.9 778.9,386.4 780.1,386.5C781.4,386.7 782.7,388.5 783.9,389.0C785.0,389.6 786.1,390.3 787.1,389.8C788.2,389.3 789.0,387.7 790.1,385.8C791.2,383.9 792.6,380.5 793.9,378.3C795.1,376.1 796.6,373.9 797.6,372.8C798.7,371.7 799.1,371.2 800.1,371.5C801.2,371.9 802.6,373.1 803.9,374.8C805.1,376.4 806.4,379.2 807.6,381.5C808.9,383.9 810.3,387.4 811.4,389.0C812.5,390.7 813.3,391.7 814.4,391.5C815.4,391.4 816.5,390.3 817.6,388.3C818.8,386.3 820.1,382.2 821.4,379.8C822.6,377.4 823.7,375.3 825.1,374.0C826.6,372.8 828.3,372.6 830.2,372.3C832.0,371.9 834.5,371.7 836.4,372.0C838.3,372.3 840.0,372.9 841.4,374.0C842.9,375.2 843.8,377.1 845.2,379.0C846.5,381.0 848.3,384.1 849.7,385.8C851.0,387.5 851.8,388.5 853.2,389.0C854.5,389.6 856.1,389.5 857.7,389.0C859.3,388.6 861.0,387.7 862.7,386.5C864.3,385.4 866.0,383.7 867.7,382.3C869.4,380.8 871.4,378.7 872.7,377.8C873.9,376.8 874.5,376.7 875.2,376.6C875.9,376.5 876.4,376.7 876.9,377.0C877.5,377.4 878.1,378.0 878.7,378.8C879.3,379.6 879.8,380.7 880.4,381.8C881.0,382.9 881.6,384.2 882.1,385.3C882.7,386.4 883.3,387.5 883.9,388.3C884.5,389.1 885.0,389.7 885.6,390.0C886.2,390.4 886.8,390.5 887.4,390.5C887.9,390.4 888.4,390.2 888.9,389.6C889.4,389.0 889.9,388.1 890.4,387.0C890.9,385.9 891.3,384.5 891.7,383.1C892.1,381.7 892.6,380.2 893.0,378.8C893.4,377.3 893.8,375.9 894.3,374.4C894.8,373.0 895.3,371.4 895.9,370.1C896.4,368.8 897.0,367.6 897.6,366.6C898.2,365.6 898.9,364.9 899.5,364.0C900.1,363.1 900.7,362.1 901.2,361.0C901.8,359.9 902.3,358.8 902.8,357.5C903.3,356.2 903.7,354.7 904.1,353.2C904.5,351.6 904.9,350.1 905.3,348.4C905.7,346.7 906.1,344.9 906.4,343.2C906.8,341.4 907.2,339.7 907.6,338.0C907.9,336.2 908.3,334.4 908.7,332.8C909.1,331.1 909.5,329.4 909.9,328.0C910.3,326.5 910.8,325.2 911.2,324.1C911.7,323.0 912.0,322.1 912.5,321.5C913.0,320.8 913.6,320.4 914.1,320.2C914.6,319.9 915.1,320.0 915.6,319.9C916.0,319.9 916.4,319.9 916.9,320.0C917.3,320.1 917.7,320.3 918.2,320.6C918.6,320.9 919.0,321.3 919.5,321.9C919.9,322.6 920.4,323.5 920.8,324.5C921.2,325.5 921.5,326.7 921.9,328.0C922.3,329.3 922.6,330.8 922.9,332.3C923.3,333.9 923.6,335.4 924.0,337.1C924.3,338.8 924.7,340.5 925.0,342.3C925.3,344.1 925.7,346.1 926.0,348.0C926.3,349.8 926.6,351.6 926.9,353.6C927.2,355.5 927.5,357.6 927.8,359.7C928.1,361.7 928.4,363.7 928.7,365.7C928.9,367.8 929.2,369.8 929.5,371.8C929.8,373.8 930.1,375.9 930.4,377.9C930.7,379.9 931.0,381.9 931.3,384.0C931.6,386.0 931.8,388.0 932.1,390.0C932.4,392.1 932.8,394.1 933.1,396.1C933.4,398.1 933.7,400.2 934.0,402.2C934.4,404.2 934.7,406.2 935.1,408.3C935.4,410.3 935.8,412.4 936.1,414.3C936.5,416.3 936.9,418.2 937.3,420.0C937.6,421.8 938.0,423.5 938.4,425.2C938.8,426.8 939.2,428.5 939.6,430.0C940.0,431.4 940.4,432.8 940.9,433.9C941.3,434.9 941.8,435.8 942.3,436.5C942.8,437.1 943.3,437.6 943.8,437.9C944.3,438.3 944.8,438.4 945.3,438.5C945.8,438.5 946.3,438.5 946.8,438.4C947.3,438.2 947.7,438.0 948.1,437.6C948.5,437.2 949.0,436.7 949.4,436.0C949.8,435.3 950.3,434.4 950.7,433.4C951.1,432.4 951.6,431.2 952.0,430.0C952.4,428.7 952.9,427.4 953.3,426.1C953.7,424.7 954.2,423.2 954.6,421.7C955.0,420.3 955.5,418.8 955.9,417.4C956.3,415.9 956.8,414.5 957.2,413.0C957.6,411.6 958.1,410.1 958.5,408.7C958.9,407.2 959.4,405.9 959.8,404.4C960.2,402.8 960.7,401.2 961.1,399.6C961.5,398.0 962.0,396.4 962.4,394.8C962.8,393.2 963.3,391.6 963.7,390.0C964.2,388.5 964.6,387.0 965.0,385.7C965.5,384.4 965.9,383.2 966.3,382.2C966.8,381.2 967.2,380.3 967.6,379.6C968.1,378.9 968.4,378.3 968.9,377.9C969.4,377.5 970.0,377.2 970.5,377.0C971.0,376.8 971.4,376.8 972.0,376.8C972.5,376.9 973.1,377.0 973.7,377.2C974.3,377.4 974.8,377.8 975.4,378.1C976.1,378.4 976.9,378.6 977.6,378.9C978.3,379.3 979.0,379.7 979.8,380.1C980.5,380.5 981.2,380.9 981.9,381.4C982.7,381.8 983.4,382.4 984.1,382.9C984.8,383.4 985.6,384.1 986.3,384.4C986.9,384.7 987.4,384.9 988.0,385.0C988.6,385.1 989.2,385.0 989.7,384.8C990.3,384.7 990.8,384.3 991.5,384.0C992.1,383.6 992.6,383.1 993.7,382.7C994.7,382.3 996.1,381.8 997.8,381.5C999.5,381.3 1002.2,381.6 1004.1,381.0C1005.9,380.5 1007.5,379.0 1009.1,378.3C1010.6,377.5 1012.1,376.5 1013.3,376.5C1014.6,376.5 1015.4,377.4 1016.6,378.3C1017.7,379.1 1018.9,380.8 1020.3,381.5C1021.7,382.3 1023.2,382.7 1024.8,382.8C1026.5,382.9 1028.8,382.1 1030.3,382.3C1031.9,382.5 1032.8,383.5 1034.1,384.0C1035.3,384.5 1036.6,385.4 1037.8,385.3C1039.1,385.2 1040.1,384.0 1041.6,383.3C1043.1,382.5 1044.9,381.2 1046.6,380.8C1048.3,380.4 1049.7,380.7 1051.6,381.0C1053.5,381.4 1055.8,382.2 1057.9,382.8C1059.9,383.4 1062.2,384.5 1064.1,384.5C1066.0,384.6 1067.0,383.9 1069.1,383.3C1071.2,382.7 1074.5,382.0 1076.6,381.0C1078.7,380.0 1080.0,378.6 1081.6,377.3C1083.3,376.0 1085.0,374.3 1086.6,373.3C1088.3,372.2 1090.0,372.2 1091.6,371.0C1093.3,369.9 1095.0,367.9 1096.6,366.5C1098.3,365.1 1100.3,363.2 1101.7,362.8C1103.0,362.4 1103.8,362.8 1104.9,364.0C1106.0,365.3 1107.2,368.1 1108.4,370.3C1109.7,372.5 1111.2,375.7 1112.4,377.3C1113.6,378.9 1114.3,379.8 1115.4,379.8C1116.5,379.8 1118.1,377.9 1119.2,377.3C1120.2,376.6 1120.7,375.6 1121.7,375.8C1122.6,375.9 1123.9,377.1 1124.9,378.3C1126.0,379.5 1126.9,381.7 1127.9,382.8C1128.9,383.9 1129.8,385.0 1130.9,384.8C1132.1,384.6 1133.6,382.9 1134.9,381.5C1136.3,380.2 1137.6,377.9 1139.2,376.5C1140.7,375.2 1142.5,374.1 1144.2,373.3C1145.9,372.4 1147.7,371.4 1149.2,371.5C1150.7,371.7 1151.6,372.8 1152.9,374.0C1154.3,375.3 1156.0,377.7 1157.5,379.0C1158.9,380.4 1160.4,381.7 1161.7,382.3C1163.0,382.9 1164.0,383.1 1165.5,382.8C1166.9,382.5 1168.6,381.5 1170.5,380.3C1172.3,379.1 1175.0,376.9 1176.7,375.8C1178.5,374.6 1179.7,373.4 1181.0,373.3C1182.2,373.1 1183.1,374.0 1184.2,374.8C1185.4,375.5 1186.6,377.5 1188.0,377.8C1189.4,378.1 1191.1,377.1 1192.5,376.5C1193.9,376.0 1195.0,374.5 1196.3,374.5C1197.5,374.5 1198.8,375.9 1200.0,376.5C1201.3,377.2 1202.5,378.4 1203.8,378.5C1205.0,378.7 1206.5,377.9 1207.5,377.3C1208.6,376.7 1209.5,375.8 1210.2,375.1C1210.9,374.4 1211.4,373.7 1211.9,373.1C1212.5,372.5 1213.1,371.9 1213.7,371.4C1214.3,370.9 1214.8,370.4 1215.4,370.1C1216.0,369.8 1216.5,369.8 1217.1,369.7C1217.8,369.7 1218.7,369.7 1219.3,369.7C1220.0,369.7 1220.5,369.8 1221.1,369.6C1221.6,369.5 1222.3,369.4 1222.8,369.0C1223.3,368.7 1223.8,368.3 1224.3,367.7C1224.7,367.0 1225.2,366.0 1225.7,364.9C1226.1,363.8 1226.5,362.4 1226.9,361.0C1227.3,359.5 1227.6,357.9 1228.0,356.2C1228.4,354.5 1228.7,352.7 1229.1,351.0C1229.5,349.3 1229.9,347.5 1230.3,345.8C1230.6,344.0 1231.0,342.3 1231.4,340.6C1231.8,338.8 1232.1,337.0 1232.5,335.4C1232.9,333.7 1233.2,332.1 1233.6,330.6C1234.0,329.1 1234.5,327.6 1234.9,326.3C1235.4,325.0 1235.8,323.8 1236.2,322.8C1236.7,321.8 1237.3,320.9 1237.8,320.2C1238.4,319.5 1238.9,318.9 1239.5,318.5C1240.1,318.0 1240.8,317.9 1241.4,317.8C1242.1,317.6 1242.6,317.7 1243.2,317.8C1243.8,317.8 1244.4,317.9 1244.9,318.2C1245.5,318.5 1246.0,319.0 1246.5,319.6C1247.0,320.2 1247.5,320.9 1248.0,321.7C1248.4,322.4 1248.9,323.4 1249.4,324.3C1249.9,325.2 1250.5,326.1 1251.0,327.1C1251.5,328.2 1252.0,329.3 1252.6,330.6C1253.1,331.9 1253.6,333.4 1254.0,334.9C1254.5,336.5 1254.9,338.0 1255.3,339.7C1255.7,341.4 1256.2,343.1 1256.5,344.9C1256.9,346.7 1257.3,348.6 1257.6,350.6C1257.9,352.5 1258.2,354.5 1258.5,356.6C1258.8,358.7 1259.1,361.0 1259.4,363.1C1259.7,365.3 1260.0,367.5 1260.3,369.6C1260.6,371.8 1260.9,374.0 1261.1,376.2C1261.4,378.3 1261.7,380.6 1262.0,382.7C1262.3,384.8 1262.6,386.7 1262.9,388.7C1263.2,390.8 1263.5,392.8 1263.8,394.8C1264.2,396.8 1264.5,398.9 1264.9,400.9C1265.2,402.9 1265.6,404.9 1266.0,407.0C1266.4,409.0 1266.8,411.1 1267.2,413.0C1267.6,415.0 1268.1,416.9 1268.5,418.7C1269.0,420.4 1269.4,422.0 1269.9,423.4C1270.4,424.9 1270.9,426.3 1271.4,427.4C1271.9,428.4 1272.4,429.3 1272.9,430.0C1273.5,430.6 1274.0,431.0 1274.6,431.3C1275.2,431.5 1275.8,431.6 1276.3,431.7C1276.9,431.8 1277.4,431.8 1277.9,431.7C1278.4,431.6 1278.9,431.4 1279.5,431.0C1280.0,430.6 1280.4,430.2 1280.9,429.5C1281.4,428.8 1281.9,427.9 1282.4,426.9C1282.9,425.9 1283.3,424.7 1283.8,423.4C1284.3,422.2 1284.7,420.9 1285.2,419.5C1285.6,418.2 1286.1,416.7 1286.6,415.2C1287.0,413.7 1287.4,412.1 1287.9,410.4C1288.3,408.8 1288.7,407.0 1289.2,405.2C1289.6,403.4 1290.0,401.5 1290.5,399.6C1290.9,397.6 1291.3,395.5 1291.8,393.5C1292.2,391.5 1292.6,389.4 1293.1,387.4C1293.5,385.5 1293.9,383.6 1294.4,381.8C1294.8,380.0 1295.2,378.3 1295.7,376.8C1296.1,375.4 1296.5,374.2 1297.0,373.1C1297.4,372.1 1297.8,371.2 1298.3,370.5C1298.7,369.8 1299.3,369.2 1299.8,368.8C1300.3,368.3 1300.8,368.1 1301.3,367.9C1301.9,367.7 1302.5,367.6 1303.1,367.7C1303.6,367.7 1304.2,368.0 1304.8,368.3C1305.4,368.7 1305.9,369.2 1306.5,369.6C1307.1,370.1 1307.7,370.5 1308.3,370.8C1308.8,371.0 1309.4,371.2 1310.0,371.1C1310.6,371.1 1311.2,370.9 1311.7,370.5C1312.3,370.2 1312.9,369.5 1313.5,369.0C1314.0,368.6 1314.5,368.0 1315.0,367.7C1315.5,367.3 1316.0,367.1 1316.5,367.0C1317.0,367.0 1317.5,367.1 1318.0,367.5C1318.5,367.8 1319.0,368.3 1319.5,369.0C1320.1,369.7 1320.7,370.7 1321.3,371.6C1321.9,372.5 1322.4,373.6 1323.0,374.4C1323.6,375.2 1324.2,376.0 1324.7,376.6C1325.3,377.2 1325.8,377.7 1326.5,378.1C1327.1,378.5 1327.2,378.5 1328.7,379.0C1330.1,379.5 1333.4,381.3 1335.2,381.0C1336.9,380.7 1337.7,378.7 1338.9,377.3C1340.2,375.8 1341.5,373.2 1342.7,372.3C1343.8,371.3 1344.4,371.0 1345.7,371.5C1346.9,372.0 1348.6,373.9 1350.2,375.3C1351.8,376.7 1353.3,378.1 1355.2,379.8C1357.1,381.5 1359.6,384.3 1361.4,385.3C1363.3,386.3 1364.6,385.3 1366.4,385.8C1368.3,386.3 1370.8,387.7 1372.7,388.3C1374.6,388.8 1376.0,389.3 1377.7,389.0C1379.4,388.8 1381.2,387.5 1382.7,386.5C1384.2,385.6 1384.8,383.9 1386.5,383.3C1388.1,382.7 1390.8,383.3 1392.7,382.8C1394.6,382.3 1396.0,381.1 1397.7,380.3C1399.4,379.5 1401.1,378.1 1402.7,377.8C1404.3,377.4 1405.8,377.5 1407.2,378.3C1408.7,379.0 1409.9,380.6 1411.5,382.3C1413.0,384.0 1414.8,386.5 1416.5,388.3C1418.1,390.1 1419.8,391.6 1421.5,393.3C1423.2,395.0 1425.1,397.4 1426.5,398.3C1427.9,399.2 1428.7,398.8 1429.7,398.6C1430.8,398.3 1431.7,397.1 1432.7,396.5C1433.7,396.0 1434.7,395.2 1435.7,395.3C1436.8,395.4 1437.8,396.5 1439.0,397.3C1440.2,398.1 1441.6,399.7 1442.8,399.8C1443.9,399.9 1444.5,399.3 1445.8,397.8C1447.0,396.3 1448.7,392.8 1450.3,390.8C1451.8,388.8 1453.7,386.8 1455.3,385.8C1456.9,384.8 1458.3,384.7 1459.8,384.8C1461.2,384.9 1462.5,385.6 1464.0,386.5C1465.6,387.5 1467.6,389.5 1469.0,390.3C1470.5,391.1 1471.3,391.8 1472.8,391.5C1474.2,391.3 1476.1,389.8 1477.8,389.0C1479.5,388.3 1481.1,387.0 1482.8,387.0C1484.5,387.0 1486.3,388.4 1487.8,389.0C1489.3,389.7 1490.3,391.0 1491.5,391.0C1492.8,391.0 1493.8,390.2 1495.3,389.0C1496.8,387.9 1498.4,385.1 1500.3,384.0C1502.2,383.0 1504.5,383.2 1506.6,382.8C1508.6,382.4 1510.9,381.9 1512.8,381.5C1514.7,381.2 1516.4,381.0 1517.8,380.8C1519.3,380.6 1520.3,380.0 1521.6,380.3C1522.8,380.6 1524.1,382.0 1525.3,382.8C1526.6,383.6 1527.8,385.0 1529.1,385.3C1530.3,385.6 1531.6,384.9 1532.8,384.8C1534.1,384.7 1535.5,384.5 1536.5,384.6C1537.5,384.7 1538.0,385.2 1538.7,385.5C1539.4,385.8 1540.1,386.3 1540.8,386.6C1541.6,387.0 1542.3,387.3 1543.0,387.7C1543.7,388.0 1544.5,388.3 1545.2,388.5C1545.9,388.7 1546.6,389.0 1547.4,389.0C1548.1,389.0 1548.8,388.8 1549.5,388.5C1550.2,388.2 1550.9,387.9 1551.5,387.2C1552.1,386.6 1552.7,385.6 1553.3,384.6C1553.8,383.6 1554.2,382.5 1554.7,381.3C1555.2,380.2 1555.7,378.9 1556.2,377.7C1556.7,376.4 1557.2,375.1 1557.8,373.8C1558.3,372.5 1558.8,371.2 1559.3,369.9C1559.9,368.6 1560.4,367.2 1561.0,366.0C1561.5,364.7 1562.1,363.5 1562.7,362.3C1563.3,361.1 1563.9,360.0 1564.5,358.8C1565.2,357.6 1565.8,356.3 1566.4,355.1C1567.1,353.9 1567.7,352.7 1568.4,351.5C1569.0,350.2 1569.6,349.0 1570.2,347.7C1570.8,346.5 1571.3,345.1 1571.9,343.8C1572.5,342.5 1573.0,341.2 1573.6,339.9C1574.1,338.7 1574.6,337.6 1575.1,336.5C1575.6,335.4 1576.2,334.3 1576.7,333.4C1577.2,332.6 1577.8,331.8 1578.2,331.3C1578.7,330.8 1579.2,330.5 1579.6,330.4C1580.1,330.2 1580.5,330.3 1581.0,330.4C1581.5,330.5 1582.0,330.7 1582.5,331.0C1583.0,331.3 1583.4,331.8 1583.8,332.4C1584.2,333.0 1584.7,333.8 1585.1,334.7C1585.5,335.7 1585.9,336.9 1586.2,338.2C1586.6,339.5 1586.9,340.9 1587.3,342.5C1587.6,344.1 1587.9,345.9 1588.2,347.7C1588.5,349.6 1588.9,351.4 1589.2,353.4C1589.5,355.3 1589.8,357.4 1590.0,359.5C1590.3,361.5 1590.6,363.5 1590.9,365.5C1591.2,367.6 1591.5,369.6 1591.8,371.6C1592.1,373.6 1592.4,375.7 1592.7,377.7C1592.9,379.7 1593.2,381.7 1593.5,383.8C1593.8,385.8 1594.1,387.8 1594.4,389.8C1594.7,391.9 1595.0,393.9 1595.3,395.9C1595.5,397.9 1595.8,400.0 1596.1,402.0C1596.4,404.0 1596.7,406.0 1597.1,408.1C1597.4,410.1 1597.8,412.2 1598.1,414.1C1598.5,416.1 1598.9,418.0 1599.2,419.8C1599.6,421.6 1600.0,423.3 1600.5,425.0C1600.9,426.6 1601.3,428.3 1601.8,429.7C1602.2,431.2 1602.7,432.6 1603.2,433.7C1603.6,434.7 1604.1,435.6 1604.6,436.3C1605.1,436.9 1605.7,437.4 1606.2,437.7C1606.7,438.0 1607.2,438.0 1607.7,438.0C1608.1,438.0 1608.5,437.9 1609.0,437.7C1609.4,437.5 1610.0,437.3 1610.5,436.9C1611.0,436.5 1611.6,436.0 1612.1,435.4C1612.6,434.8 1613.2,434.1 1613.7,433.2C1614.3,432.4 1614.9,431.3 1615.5,430.2C1616.1,429.1 1616.6,427.9 1617.2,426.7C1617.8,425.5 1618.4,424.2 1618.9,422.8C1619.5,421.4 1620.1,420.0 1620.7,418.5C1621.3,416.9 1621.8,415.4 1622.4,413.7C1623.0,412.0 1623.6,410.3 1624.2,408.5C1624.7,406.7 1625.3,404.7 1625.9,402.8C1626.4,401.0 1626.9,399.2 1627.4,397.6C1628.0,396.1 1628.4,394.6 1628.9,393.3C1629.4,392.0 1629.9,390.9 1630.4,390.0C1630.9,389.1 1631.4,388.6 1632.0,388.1C1632.5,387.6 1633.0,387.3 1633.7,387.1C1634.3,386.8 1635.1,386.8 1635.9,386.7C1636.7,386.7 1637.6,386.7 1638.5,386.7C1639.3,386.7 1640.3,386.6 1641.1,386.6C1641.9,386.6 1642.5,386.7 1643.2,386.8C1644.0,386.9 1644.7,387.2 1645.4,387.5C1646.1,387.8 1646.9,388.2 1647.6,388.5C1648.3,388.9 1648.9,389.4 1649.6,389.7C1650.2,389.9 1650.9,390.0 1651.5,390.0C1652.1,390.0 1652.6,389.8 1653.2,389.4C1653.8,389.0 1654.0,389.0 1655.0,387.7C1656.0,386.4 1658.0,382.8 1659.2,381.5C1660.5,380.2 1661.3,379.4 1662.5,379.8C1663.6,380.2 1664.6,382.6 1666.0,384.0C1667.3,385.5 1669.1,388.1 1670.5,388.5C1671.8,389.0 1672.8,387.2 1674.2,386.5C1675.7,385.9 1678.0,385.1 1679.2,384.8C1680.5,384.5 1680.7,385.2 1681.8,384.5C1682.9,383.9 1684.7,382.1 1686.0,380.8C1687.4,379.5 1688.9,377.4 1690.1,376.5C1691.2,375.7 1692.1,375.4 1693.1,375.8C1694.0,376.2 1694.6,377.0 1695.6,379.0C1696.5,381.0 1697.5,385.3 1698.6,387.8C1699.6,390.3 1700.9,392.9 1701.8,394.0C1702.8,395.2 1703.3,395.2 1704.3,394.5C1705.4,393.9 1706.8,391.5 1708.1,390.3C1709.3,389.1 1710.4,387.9 1711.8,387.3C1713.3,386.7 1715.2,386.5 1716.8,386.5C1718.5,386.6 1720.2,388.1 1721.8,387.8C1723.5,387.5 1725.2,386.0 1726.8,384.8C1728.5,383.6 1730.4,381.3 1731.8,380.8C1733.3,380.2 1734.2,380.9 1735.6,381.5C1737.0,382.2 1738.6,384.0 1740.1,384.8C1741.6,385.6 1742.9,386.5 1744.4,386.5C1745.8,386.6 1747.2,386.1 1748.6,385.3C1750.0,384.5 1751.4,382.7 1752.6,381.5C1753.9,380.4 1754.6,379.0 1756.1,378.3C1757.7,377.6 1760.1,378.1 1761.9,377.3C1763.7,376.4 1765.4,374.4 1766.9,373.3C1768.3,372.2 1769.5,371.1 1770.6,370.8C1771.8,370.5 1772.4,370.7 1773.6,371.5C1774.9,372.4 1776.5,374.3 1778.1,375.8C1779.7,377.2 1781.6,379.1 1783.1,380.3C1784.7,381.5 1786.4,382.5 1787.6,382.8C1788.9,383.1 1789.5,383.3 1790.6,382.3C1791.8,381.2 1793.1,378.7 1794.4,376.5C1795.6,374.3 1796.9,371.1 1798.2,369.0C1799.4,366.9 1800.7,365.1 1801.9,364.0C1803.2,363.0 1804.2,362.6 1805.7,362.8C1807.1,363.0 1808.8,364.1 1810.7,365.3C1812.5,366.4 1814.9,368.5 1816.9,369.5C1818.9,370.6 1821.0,370.8 1822.7,371.5C1824.3,372.3 1825.6,372.8 1826.9,374.0C1828.3,375.3 1829.4,377.2 1830.7,379.0C1831.9,380.8 1833.3,383.3 1834.4,384.8C1835.6,386.2 1836.4,387.6 1837.7,387.8C1838.9,388.0 1840.2,386.6 1841.9,385.8C1843.7,385.0 1846.3,384.0 1848.2,382.8C1850.1,381.5 1851.6,379.5 1853.2,378.3C1854.8,377.1 1856.2,376.0 1857.7,375.8C1859.2,375.6 1860.4,376.4 1862.0,377.0C1863.5,377.7 1865.1,379.5 1867.0,379.8C1868.8,380.1 1871.3,379.0 1873.2,379.0C1875.1,379.1 1876.6,379.3 1878.2,380.3C1879.9,381.2 1881.8,383.5 1883.2,384.8C1884.7,386.1 1885.7,387.8 1887.0,388.3C1888.2,388.8 1889.5,388.7 1890.7,387.8C1892.0,386.9 1893.2,384.4 1894.5,382.8C1895.8,381.2 1897.5,379.2 1898.7,378.3C1900.0,377.4 1900.8,376.9 1902.0,377.3C1903.2,377.6 1904.4,379.4 1905.8,380.3C1907.1,381.2 1908.8,382.7 1910.3,382.8C1911.7,382.9 1913.2,381.4 1914.5,380.8C1915.8,380.2 1916.8,379.5 1918.3,379.0C1919.7,378.6 1921.9,378.7 1923.3,378.3C1924.6,377.9 1925.2,376.9 1926.3,376.5C1927.3,376.1 1928.4,375.2 1929.5,375.8C1930.6,376.4 1931.6,378.4 1932.8,380.3C1933.9,382.2 1935.2,385.4 1936.3,387.3C1937.4,389.2 1938.4,390.8 1939.5,391.5C1940.7,392.3 1942.2,392.7 1943.3,392.0C1944.4,391.4 1945.2,389.8 1946.3,387.8C1947.3,385.7 1948.5,381.7 1949.5,379.8C1950.6,377.9 1951.5,376.7 1952.8,376.5C1954.0,376.4 1955.5,378.2 1957.0,379.0C1958.6,379.9 1960.4,381.4 1962.1,381.5C1963.7,381.7 1965.6,380.4 1967.1,379.8C1968.5,379.2 1969.6,377.7 1970.8,377.8C1972.1,377.9 1973.4,379.5 1974.6,380.3C1975.7,381.0 1976.7,382.4 1977.8,382.3C1978.9,382.2 1980.2,380.9 1981.3,379.8C1982.4,378.7 1983.4,376.6 1984.6,375.8C1985.7,374.9 1987.1,374.5 1988.3,374.8C1989.6,375.0 1990.8,376.7 1992.1,377.3C1993.3,377.9 1994.4,378.3 1995.8,378.3C1997.3,378.3 1999.2,377.2 2000.8,377.3C2002.5,377.4 2004.2,378.3 2005.8,379.0C2007.5,379.7 2009.2,381.0 2010.8,381.5C2012.5,382.1 2014.2,382.1 2015.9,382.3C2017.5,382.5 2019.4,382.5 2020.9,382.8C2022.3,383.1 2023.4,384.3 2024.6,384.0C2025.9,383.7 2027.1,382.1 2028.4,381.0C2029.6,380.0 2030.9,378.1 2032.1,377.8C2033.4,377.4 2034.4,378.5 2035.9,379.0C2037.3,379.6 2039.2,380.8 2040.9,381.0C2042.5,381.2 2044.3,381.0 2045.9,380.3C2047.5,379.5 2048.9,377.5 2050.4,376.5C2051.8,375.6 2053.3,374.3 2054.6,374.5C2056.0,374.7 2057.1,376.4 2058.4,377.8C2059.6,379.2 2061.0,382.2 2062.1,382.8C2063.3,383.4 2064.1,382.7 2065.4,381.5C2066.6,380.4 2068.3,377.2 2069.7,375.8C2071.0,374.4 2072.2,373.4 2073.4,373.3C2074.7,373.2 2075.9,373.9 2077.2,375.3C2078.4,376.7 2079.5,379.7 2080.9,381.5C2082.3,383.4 2084.0,385.4 2085.4,386.5C2086.9,387.7 2088.3,387.7 2089.7,388.3C2091.0,388.9 2092.0,389.6 2093.4,390.3C2094.9,391.0 2097.6,392.0 2098.4,392.3"/>
<g fill="none" stroke="#000" stroke-width="4.60">
<circle cx="934.00" cy="283.80" r="31.60"/>
</g>
<path class="crv" clip-path="url(#plotclip)" stroke="#CC9900" d="M172.5,200.1C173.5,201.0 176.5,204.2 178.8,205.1C181.1,206.0 184.2,204.6 186.3,205.6C188.4,206.7 189.6,209.9 191.3,211.4C192.9,212.8 194.4,214.7 196.3,214.4C198.2,214.1 200.4,210.8 202.5,209.6C204.6,208.4 206.8,208.2 208.8,207.1C210.8,206.1 212.9,203.8 214.5,203.4C216.2,203.0 217.3,204.0 218.8,204.6C220.3,205.2 221.6,207.4 223.8,207.1C226.0,206.9 230.0,203.5 232.1,203.1C234.1,202.8 234.9,204.5 236.3,205.1C237.7,205.8 239.1,207.6 240.6,207.1C242.0,206.6 243.7,203.5 245.1,202.1C246.4,200.7 247.7,199.1 248.8,198.9C250.0,198.6 251.0,199.2 252.1,200.6C253.2,202.1 254.3,205.7 255.6,207.6C256.8,209.5 258.2,211.2 259.6,211.9C261.0,212.5 262.4,211.4 263.8,211.6C265.3,211.9 266.7,212.9 268.1,213.4C269.5,213.8 270.6,214.9 272.1,214.4C273.6,213.8 275.4,212.0 277.1,210.1C278.9,208.3 280.8,205.1 282.6,203.1C284.4,201.1 286.5,198.6 288.1,198.1C289.7,197.6 290.7,198.7 292.1,200.1C293.5,201.5 295.0,204.9 296.4,206.4C297.7,207.8 298.9,209.0 300.1,208.9C301.4,208.8 302.6,206.9 303.9,205.9C305.1,204.8 306.4,202.8 307.6,202.6C308.9,202.4 310.0,203.9 311.4,204.6C312.8,205.4 314.2,207.6 315.9,207.1C317.6,206.7 319.6,203.0 321.4,201.9C323.1,200.7 324.9,200.1 326.4,200.1C327.9,200.2 329.2,200.9 330.7,202.1C332.1,203.4 333.7,205.9 335.2,207.6C336.7,209.4 338.3,211.7 339.7,212.6C341.0,213.5 341.8,213.8 343.2,213.1C344.5,212.5 346.2,211.0 347.7,208.9C349.2,206.8 350.6,202.6 352.2,200.6C353.8,198.7 355.6,197.4 357.2,197.1C358.7,196.8 359.9,197.7 361.4,198.9C363.0,200.0 364.9,202.3 366.4,203.9C368.0,205.4 369.4,207.2 370.7,208.1C372.0,209.1 373.0,210.1 374.2,209.6C375.4,209.1 376.6,206.9 377.7,205.1C378.8,203.3 379.7,200.2 380.7,198.9C381.7,197.5 382.5,196.9 383.5,197.1C384.4,197.3 385.4,198.4 386.5,200.1C387.5,201.9 388.6,205.3 389.7,207.6C390.8,209.9 391.9,212.1 393.2,213.9C394.5,215.6 396.2,216.9 397.7,218.1C399.2,219.3 401.0,220.7 402.2,221.1C403.5,221.6 404.1,221.7 405.2,220.6C406.3,219.6 407.7,216.0 409.0,214.6C410.2,213.3 410.9,213.0 412.7,212.6C414.6,212.3 417.8,213.0 420.2,212.6C422.7,212.2 425.4,210.3 427.2,210.1C429.1,210.0 430.2,211.3 431.5,211.9C432.8,212.5 434.0,214.1 435.2,213.9C436.5,213.7 437.7,212.3 439.0,210.6C440.3,209.0 441.9,205.6 443.3,203.9C444.6,202.1 446.1,200.5 447.3,200.1C448.4,199.8 449.1,200.2 450.3,201.9C451.4,203.5 452.8,208.0 454.0,210.1C455.2,212.3 456.1,213.7 457.3,214.6C458.4,215.6 459.2,215.8 460.8,215.6C462.3,215.5 464.9,213.7 466.5,213.6C468.2,213.5 469.3,214.7 470.8,215.1C472.2,215.6 473.5,216.5 475.3,216.1C477.1,215.8 479.9,213.2 481.5,213.1C483.2,213.0 484.0,214.9 485.3,215.6C486.5,216.4 487.9,217.5 489.0,217.6C490.2,217.8 491.2,217.8 492.3,216.4C493.4,214.9 494.7,210.7 495.8,208.9C496.9,207.1 497.9,206.0 499.1,205.6C500.2,205.2 501.6,206.0 502.8,206.4C504.1,206.7 505.1,207.6 506.6,207.6C508.0,207.7 510.1,206.5 511.6,206.6C513.0,206.7 513.9,207.2 515.3,208.1C516.8,209.0 518.7,211.2 520.3,212.1C521.9,213.0 523.0,213.8 524.8,213.6C526.7,213.5 529.6,211.8 531.6,211.4C533.5,210.9 535.3,210.5 536.6,210.9C537.9,211.3 538.5,212.4 539.6,213.9C540.7,215.3 542.2,218.4 543.3,219.6C544.5,220.9 545.4,221.9 546.6,221.4C547.8,220.8 549.2,217.5 550.4,216.4C551.5,215.3 552.3,214.5 553.4,214.6C554.4,214.8 555.4,215.7 556.6,217.1C557.8,218.6 559.2,221.9 560.4,223.1C561.5,224.4 562.4,224.9 563.4,224.6C564.3,224.3 565.2,223.4 566.1,221.4C567.1,219.4 568.0,215.1 569.1,212.6C570.2,210.1 571.6,207.6 572.9,206.4C574.1,205.1 575.3,205.0 576.6,205.1C578.0,205.2 579.4,206.2 580.9,207.1C582.3,208.0 584.0,209.7 585.4,210.6C586.8,211.5 587.9,212.8 589.1,212.6C590.4,212.5 591.6,210.5 592.9,209.6C594.1,208.7 595.5,207.3 596.6,207.1C597.8,207.0 598.8,207.9 599.9,208.9C601.0,209.9 602.1,212.1 603.4,213.1C604.7,214.2 606.3,214.9 607.9,215.1C609.5,215.3 611.3,215.0 612.9,214.4C614.5,213.8 615.7,212.7 617.4,211.4C619.1,210.1 621.4,207.0 622.9,206.6C624.5,206.2 625.4,208.0 626.7,208.9C627.9,209.7 629.0,211.2 630.4,211.6C631.9,212.0 634.0,211.0 635.4,211.4C636.9,211.8 637.9,213.0 639.2,213.9C640.4,214.7 641.7,216.6 642.9,216.4C644.2,216.2 645.4,213.9 646.7,212.6C647.9,211.4 649.2,209.1 650.4,208.9C651.7,208.7 652.9,210.3 654.2,211.4C655.4,212.5 656.7,215.1 658.0,215.6C659.2,216.2 660.2,215.2 661.7,214.6C663.2,214.0 664.8,212.8 666.7,212.1C668.6,211.5 671.1,211.6 673.0,210.9C674.8,210.1 676.2,208.9 678.0,207.6C679.7,206.3 681.8,203.3 683.5,203.1C685.1,202.9 686.6,205.2 688.0,206.4C689.4,207.5 690.9,209.9 692.0,210.1C693.2,210.3 693.9,208.5 695.0,207.6C696.2,206.7 697.5,204.7 698.8,204.6C700.0,204.5 701.3,206.4 702.5,207.1C703.8,207.9 705.0,209.3 706.3,209.1C707.5,209.0 708.8,207.3 710.0,206.4C711.3,205.5 712.5,204.1 713.8,203.9C715.0,203.7 715.9,204.4 717.5,205.1C719.2,205.9 722.1,208.3 723.8,208.4C725.5,208.5 726.2,206.6 727.6,205.6C728.9,204.7 730.6,202.7 732.1,202.6C733.5,202.5 734.8,204.1 736.3,205.1C737.9,206.2 739.9,208.3 741.3,208.9C742.8,209.5 743.7,209.7 745.1,208.9C746.4,208.0 748.1,205.2 749.6,203.9C751.0,202.5 752.5,200.7 753.8,200.9C755.2,201.1 756.1,203.5 757.6,205.1C759.0,206.8 761.0,209.3 762.6,210.6C764.2,212.0 765.4,212.9 767.1,213.4C768.8,213.9 770.8,213.4 772.6,213.6C774.4,213.8 776.0,215.1 777.6,214.6C779.2,214.1 780.4,212.3 782.1,210.6C783.8,209.0 785.9,206.2 787.6,204.6C789.3,203.0 790.9,201.2 792.1,200.9C793.4,200.5 794.0,200.9 795.1,202.6C796.2,204.4 797.6,209.3 798.9,211.4C800.1,213.5 801.5,214.8 802.6,215.1C803.8,215.4 804.6,214.4 805.6,213.1C806.7,211.9 807.7,209.2 808.9,207.6C810.0,206.1 811.0,205.0 812.6,203.9C814.3,202.7 817.0,201.4 818.9,200.9C820.8,200.3 822.4,201.2 823.9,200.6C825.4,200.1 826.5,198.4 827.6,197.6C828.8,196.8 829.7,195.7 830.7,195.9C831.6,196.0 832.2,196.8 833.2,198.4C834.1,199.9 835.2,203.2 836.4,205.1C837.6,207.1 838.9,209.5 840.2,210.1C841.4,210.8 842.7,209.6 843.9,208.9C845.2,208.2 846.2,206.7 847.7,205.9C849.1,205.0 851.0,205.0 852.7,203.9C854.3,202.7 856.3,199.8 857.7,198.9C859.0,197.9 859.6,197.7 860.7,198.1C861.7,198.5 862.8,199.6 863.9,201.4C865.1,203.2 866.4,206.6 867.7,208.9C868.9,211.2 870.3,213.9 871.4,215.1C872.6,216.4 873.4,216.5 874.7,216.4C875.9,216.3 877.2,214.9 878.9,214.6C880.7,214.3 883.7,214.8 885.1,214.6C886.5,214.4 886.6,214.1 887.4,213.5C888.1,212.9 888.9,212.0 889.7,211.0C890.4,209.9 891.2,208.7 891.9,207.2C892.7,205.7 893.5,203.9 894.2,202.1C895.0,200.3 895.7,198.2 896.5,196.2C897.2,194.2 898.0,192.2 898.8,190.2C899.5,188.1 900.3,186.0 901.0,183.9C901.7,181.8 902.3,179.8 903.0,177.7C903.6,175.5 904.2,173.2 904.8,170.8C905.4,168.5 905.9,166.0 906.4,163.4C906.9,160.9 907.4,158.1 907.9,155.5C908.4,152.8 908.9,150.1 909.3,147.5C909.8,145.0 910.2,142.5 910.7,140.1C911.2,137.8 911.7,135.2 912.2,133.3C912.7,131.4 913.2,129.9 913.8,128.8C914.3,127.6 914.9,127.0 915.5,126.5C916.1,126.0 916.8,126.0 917.3,125.9C917.8,125.9 918.2,125.9 918.7,126.1C919.1,126.4 919.7,126.8 920.1,127.6C920.6,128.4 921.0,129.5 921.5,131.0C922.0,132.6 922.4,134.5 922.9,136.7C923.3,138.9 923.7,141.5 924.1,144.1C924.5,146.8 925.0,149.6 925.4,152.6C925.9,155.7 926.4,159.0 926.8,162.3C927.2,165.6 927.6,169.1 928.1,172.5C928.5,175.9 928.9,179.3 929.3,182.8C929.7,186.3 930.1,190.0 930.5,193.6C930.9,197.2 931.2,200.8 931.5,204.4C931.8,208.0 932.2,211.6 932.5,215.2C932.9,218.8 933.2,222.5 933.6,226.0C933.9,229.5 934.2,232.9 934.6,236.2C934.9,239.5 935.2,242.7 935.6,245.9C936.0,249.1 936.4,252.5 936.7,255.5C937.1,258.6 937.5,261.3 937.9,264.1C938.3,266.8 938.8,269.7 939.2,272.0C939.7,274.4 940.2,276.5 940.7,278.3C941.2,280.1 941.9,281.6 942.4,282.8C943.0,284.1 943.6,285.0 944.1,285.7C944.7,286.3 945.3,286.6 945.8,286.8C946.4,287.0 946.8,287.1 947.3,286.9C947.8,286.8 948.3,286.6 948.8,286.0C949.3,285.4 949.7,284.6 950.2,283.4C950.6,282.2 951.1,280.7 951.5,278.9C952.0,277.1 952.4,276.2 952.9,272.6C953.4,269.0 954.1,261.1 954.6,257.2C955.1,253.4 955.5,251.8 956.0,249.3C956.4,246.7 956.9,244.3 957.3,241.9C957.8,239.5 958.2,237.3 958.7,235.1C959.2,232.9 959.7,230.9 960.2,228.8C960.7,226.7 961.1,224.6 961.6,222.6C962.2,220.6 962.7,218.6 963.2,216.9C963.8,215.2 964.3,213.7 964.8,212.3C965.4,211.0 965.9,209.7 966.4,208.7C967.0,207.7 967.6,207.0 968.1,206.4C968.7,205.9 969.3,205.7 969.8,205.5C970.4,205.3 971.0,205.1 971.5,205.3C972.1,205.4 972.6,205.8 973.2,206.4C973.9,207.0 974.6,208.0 975.3,208.9C976.0,209.8 976.8,210.9 977.6,211.8C978.4,212.7 979.2,213.6 980.1,214.4C981.0,215.2 982.0,216.0 982.9,216.7C983.8,217.4 984.8,218.0 985.7,218.6C986.7,219.2 987.6,219.8 988.6,220.3C989.5,220.8 990.6,221.3 991.4,221.7C992.3,222.0 992.7,222.7 993.7,222.6C994.7,222.4 996.0,221.5 997.3,220.9C998.6,220.3 999.6,219.1 1001.6,218.9C1003.5,218.7 1007.0,219.1 1009.1,219.6C1011.2,220.2 1012.5,221.5 1014.1,222.1C1015.6,222.8 1016.9,223.8 1018.3,223.6C1019.8,223.5 1021.5,222.8 1022.8,221.4C1024.2,220.0 1025.4,217.8 1026.6,215.1C1027.7,212.4 1028.8,208.3 1029.8,205.1C1030.9,202.0 1031.7,198.4 1032.8,196.4C1034.0,194.4 1035.4,193.3 1036.6,193.1C1037.8,192.9 1038.8,194.2 1039.8,195.1C1040.9,196.1 1041.5,198.0 1042.8,198.9C1044.2,199.7 1046.2,199.4 1047.9,200.1C1049.5,200.8 1051.4,202.3 1052.9,203.1C1054.3,204.0 1055.4,205.0 1056.6,205.1C1057.9,205.2 1058.9,204.7 1060.4,203.9C1061.8,203.0 1063.9,200.4 1065.4,200.1C1066.8,199.8 1067.7,201.3 1069.1,202.1C1070.6,203.0 1072.2,204.6 1074.1,205.1C1076.0,205.7 1078.1,205.6 1080.4,205.4C1082.7,205.2 1085.8,204.5 1087.9,203.9C1090.0,203.2 1091.6,201.4 1092.9,201.4C1094.2,201.4 1094.7,202.2 1095.9,203.9C1097.1,205.5 1098.6,209.4 1099.9,211.4C1101.2,213.3 1102.3,215.1 1103.4,215.6C1104.5,216.2 1105.5,215.2 1106.7,214.6C1107.8,214.0 1108.9,212.5 1110.4,212.1C1111.9,211.8 1113.7,212.6 1115.4,212.6C1117.1,212.6 1118.5,212.6 1120.4,212.1C1122.3,211.6 1124.7,210.7 1126.7,209.6C1128.7,208.5 1131.0,206.0 1132.4,205.6C1133.9,205.3 1134.3,206.5 1135.4,207.6C1136.6,208.8 1138.0,211.7 1139.2,212.6C1140.4,213.5 1141.4,213.5 1142.4,213.1C1143.5,212.7 1144.1,212.1 1145.4,210.1C1146.8,208.2 1148.9,203.7 1150.4,201.4C1152.0,199.1 1153.5,197.3 1154.9,196.4C1156.4,195.4 1157.9,195.2 1159.2,195.6C1160.5,196.0 1161.5,197.3 1163.0,198.9C1164.4,200.5 1166.5,203.7 1168.0,205.1C1169.4,206.6 1170.5,207.7 1171.7,207.6C1173.0,207.5 1174.0,206.0 1175.5,204.6C1176.9,203.2 1179.0,200.3 1180.5,199.4C1181.9,198.4 1183.0,198.7 1184.2,198.9C1185.5,199.0 1186.6,200.0 1188.0,200.1C1189.4,200.2 1191.1,200.0 1192.5,199.6C1193.9,199.2 1194.8,198.0 1196.3,197.6C1197.7,197.2 1199.8,197.0 1201.3,197.1C1202.7,197.2 1203.6,197.7 1205.0,198.4C1206.5,199.1 1208.6,200.6 1210.0,201.4C1211.5,202.1 1212.5,202.6 1213.6,203.0C1214.8,203.4 1216.1,203.7 1217.1,203.8C1218.0,203.9 1218.6,204.1 1219.3,203.8C1220.0,203.6 1220.7,203.0 1221.4,202.3C1222.0,201.6 1222.7,200.7 1223.3,199.6C1224.0,198.5 1224.6,197.2 1225.2,195.8C1225.9,194.5 1226.6,192.8 1227.3,191.3C1228.0,189.8 1228.7,188.3 1229.3,186.8C1230.0,185.2 1230.7,183.7 1231.3,182.2C1231.9,180.7 1232.4,179.2 1233.0,177.7C1233.5,176.1 1234.0,174.8 1234.5,173.1C1234.9,171.4 1235.4,169.4 1235.8,167.4C1236.3,165.4 1236.7,163.3 1237.1,161.2C1237.5,159.1 1237.9,157.0 1238.3,154.9C1238.7,152.8 1239.2,150.7 1239.6,148.7C1240.0,146.6 1240.4,144.4 1240.8,142.4C1241.2,140.4 1241.6,138.5 1242.1,136.7C1242.5,134.9 1243.0,133.1 1243.4,131.6C1243.9,130.1 1244.4,128.9 1244.9,128.0C1245.4,127.0 1246.1,126.4 1246.6,125.9C1247.2,125.5 1247.7,125.3 1248.3,125.4C1249.0,125.4 1250.0,125.7 1250.6,126.1C1251.2,126.6 1251.6,127.2 1252.1,128.2C1252.6,129.2 1253.0,130.6 1253.4,132.2C1253.9,133.8 1254.4,135.8 1254.8,137.9C1255.2,139.9 1255.7,142.2 1256.1,144.7C1256.5,147.1 1256.8,149.9 1257.2,152.6C1257.6,155.4 1257.9,158.2 1258.2,161.2C1258.5,164.1 1258.7,167.1 1259.1,170.3C1259.5,173.4 1260.3,176.7 1260.7,179.9C1261.2,183.1 1261.5,186.3 1261.8,189.6C1262.2,192.9 1262.5,196.4 1262.9,199.8C1263.2,203.2 1263.6,206.6 1264.0,210.1C1264.3,213.5 1264.7,216.9 1265.0,220.3C1265.4,223.7 1265.8,227.1 1266.1,230.5C1266.4,233.9 1266.8,237.3 1267.1,240.8C1267.4,244.2 1267.7,247.7 1268.0,251.0C1268.3,254.3 1268.6,257.5 1268.9,260.7C1269.2,263.8 1269.4,265.9 1269.8,269.8C1270.3,273.6 1271.1,280.8 1271.6,284.0C1272.2,287.1 1272.5,287.4 1273.0,288.5C1273.5,289.7 1273.9,290.3 1274.4,290.8C1274.8,291.3 1275.4,291.5 1275.8,291.6C1276.3,291.6 1276.8,291.5 1277.2,291.0C1277.7,290.5 1278.1,289.7 1278.6,288.5C1279.0,287.3 1279.4,285.8 1279.8,284.0C1280.2,282.2 1280.6,280.0 1281.0,277.7C1281.3,275.4 1281.6,272.9 1282.0,270.3C1282.3,267.8 1282.7,265.0 1283.1,262.4C1283.5,259.7 1283.9,256.9 1284.3,254.4C1284.6,251.9 1285.0,249.7 1285.4,247.6C1285.8,245.5 1286.1,244.4 1286.6,241.9C1287.2,239.4 1288.0,234.8 1288.7,232.6C1289.4,230.4 1290.0,230.1 1290.7,228.8C1291.5,227.5 1292.3,226.2 1293.0,224.8C1293.8,223.5 1294.5,222.2 1295.3,220.9C1296.0,219.5 1296.8,218.2 1297.6,216.9C1298.3,215.6 1299.0,214.1 1299.8,212.9C1300.6,211.7 1301.5,210.5 1302.3,209.5C1303.2,208.4 1304.0,207.5 1304.8,206.6C1305.7,205.8 1306.6,205.1 1307.5,204.6C1308.3,204.1 1309.0,203.7 1309.7,203.5C1310.5,203.3 1311.2,203.2 1312.0,203.5C1312.8,203.7 1313.5,204.3 1314.3,204.9C1315.0,205.6 1315.9,206.4 1316.5,207.2C1317.2,208.0 1317.3,208.9 1318.1,209.6C1318.9,210.4 1320.3,212.0 1321.4,211.9C1322.5,211.8 1323.5,210.2 1324.6,208.9C1325.8,207.5 1327.0,205.0 1328.1,203.9C1329.3,202.7 1330.2,201.7 1331.4,201.9C1332.6,202.1 1333.9,204.2 1335.2,205.1C1336.4,206.1 1337.7,207.5 1338.9,207.6C1340.2,207.7 1341.3,206.5 1342.7,205.6C1344.0,204.8 1345.7,202.8 1347.2,202.6C1348.6,202.4 1349.9,203.6 1351.4,204.4C1353.0,205.1 1354.8,206.6 1356.4,207.1C1358.1,207.7 1360.0,207.5 1361.4,207.6C1362.9,207.8 1363.9,207.3 1365.2,208.1C1366.4,209.0 1367.7,211.3 1368.9,212.6C1370.2,214.0 1371.6,216.1 1372.7,216.4C1373.8,216.7 1374.7,215.9 1375.7,214.6C1376.7,213.4 1377.9,210.5 1378.9,208.9C1380.0,207.2 1381.2,205.4 1382.2,204.6C1383.2,203.9 1384.2,203.9 1385.2,204.4C1386.2,204.9 1387.2,206.2 1388.2,207.6C1389.2,209.1 1390.3,211.8 1391.5,213.1C1392.6,214.5 1393.8,215.2 1395.2,215.6C1396.7,216.1 1398.8,215.2 1400.2,215.6C1401.7,216.1 1402.7,217.6 1404.0,218.1C1405.2,218.7 1406.6,219.4 1407.7,218.9C1408.8,218.4 1409.7,216.8 1410.7,215.1C1411.8,213.5 1412.9,210.1 1414.0,208.9C1415.1,207.6 1416.2,207.2 1417.2,207.6C1418.3,208.0 1419.1,210.1 1420.2,211.4C1421.4,212.6 1422.7,214.8 1424.0,215.1C1425.2,215.4 1426.3,214.0 1427.7,213.1C1429.2,212.2 1431.3,210.6 1432.7,209.6C1434.2,208.6 1435.2,207.5 1436.5,207.1C1437.8,206.7 1439.0,207.0 1440.3,207.1C1441.5,207.3 1442.8,208.4 1444.0,208.1C1445.3,207.9 1446.6,206.1 1447.8,205.6C1448.9,205.1 1449.7,204.7 1450.8,205.1C1451.8,205.5 1452.9,207.2 1454.0,208.1C1455.1,209.0 1456.1,210.5 1457.3,210.6C1458.4,210.8 1459.6,209.5 1460.8,208.9C1461.9,208.3 1462.9,207.1 1464.0,207.1C1465.2,207.1 1466.5,208.0 1467.8,208.9C1469.0,209.7 1470.1,211.3 1471.5,212.1C1473.0,213.0 1475.0,213.0 1476.5,213.9C1478.1,214.7 1479.4,216.1 1480.8,217.1C1482.2,218.2 1483.5,219.5 1484.8,220.1C1486.0,220.8 1487.2,221.5 1488.3,220.9C1489.4,220.3 1490.5,218.6 1491.5,216.4C1492.6,214.2 1493.7,209.7 1494.8,207.6C1495.9,205.5 1497.2,204.1 1498.3,203.9C1499.4,203.7 1500.4,204.7 1501.6,206.4C1502.7,208.0 1504.1,211.7 1505.3,213.9C1506.6,216.1 1508.0,218.6 1509.1,219.6C1510.1,220.7 1510.6,220.7 1511.6,220.1C1512.5,219.6 1513.7,217.7 1514.8,216.4C1515.9,215.0 1517.0,212.8 1518.3,212.1C1519.7,211.5 1521.5,212.5 1522.8,212.6C1524.2,212.7 1525.1,213.3 1526.6,212.6C1528.0,212.0 1529.9,210.0 1531.6,208.9C1533.3,207.8 1534.9,206.6 1536.6,205.9C1538.3,205.1 1540.1,205.0 1541.6,204.4C1543.1,203.7 1544.5,202.2 1545.3,202.1C1546.2,202.1 1546.3,203.5 1546.9,204.1C1547.6,204.8 1548.5,205.3 1549.2,206.1C1550.0,206.9 1550.7,207.9 1551.5,208.9C1552.2,210.0 1553.0,211.3 1553.8,212.3C1554.5,213.3 1555.4,214.3 1556.0,214.8C1556.7,215.4 1557.2,215.6 1557.7,215.5C1558.3,215.5 1558.9,215.2 1559.4,214.6C1560.0,214.0 1560.6,213.1 1561.2,211.8C1561.7,210.4 1562.2,208.6 1562.6,206.6C1563.1,204.7 1563.5,202.3 1564.0,199.8C1564.4,197.4 1564.9,194.5 1565.4,191.9C1565.8,189.2 1566.3,186.6 1566.7,183.9C1567.2,181.3 1567.6,178.6 1568.1,175.9C1568.5,173.3 1569.0,170.6 1569.5,168.0C1569.9,165.3 1570.4,162.7 1570.9,160.0C1571.4,157.4 1572.0,154.6 1572.5,152.1C1573.1,149.5 1573.7,147.0 1574.2,144.7C1574.8,142.4 1575.4,140.2 1575.9,138.4C1576.5,136.6 1577.1,135.1 1577.6,133.9C1578.2,132.6 1578.8,131.7 1579.3,131.0C1579.9,130.4 1580.6,130.3 1581.1,130.1C1581.5,130.0 1581.8,130.0 1582.2,130.1C1582.6,130.3 1583.2,130.5 1583.7,131.0C1584.1,131.6 1584.6,132.2 1585.0,133.3C1585.5,134.4 1585.9,136.1 1586.4,137.9C1586.9,139.7 1587.4,141.7 1587.8,144.1C1588.3,146.5 1588.7,149.2 1589.2,152.1C1589.6,154.9 1590.0,158.0 1590.4,161.2C1590.9,164.3 1591.3,167.6 1591.7,170.8C1592.1,174.1 1592.4,177.3 1592.8,180.5C1593.1,183.7 1593.4,186.9 1593.7,190.2C1594.0,193.4 1594.3,196.6 1594.6,199.8C1594.9,203.0 1595.2,206.3 1595.5,209.5C1595.8,212.7 1596.1,215.9 1596.4,219.2C1596.7,222.4 1597.0,225.6 1597.3,228.8C1597.6,232.0 1597.9,235.4 1598.2,238.5C1598.5,241.6 1598.9,244.7 1599.2,247.6C1599.6,250.4 1599.9,253.0 1600.3,255.5C1600.6,258.1 1601.0,260.7 1601.4,262.9C1601.8,265.2 1602.1,267.3 1602.6,269.2C1603.0,271.1 1603.5,272.8 1604.0,274.3C1604.5,275.8 1605.1,277.1 1605.7,278.3C1606.4,279.4 1607.1,280.4 1607.8,281.1C1608.5,281.8 1609.2,282.3 1609.8,282.6C1610.4,282.9 1610.8,282.9 1611.4,282.8C1612.0,282.7 1612.7,282.5 1613.2,281.9C1613.8,281.4 1614.3,280.5 1614.8,279.4C1615.3,278.3 1615.8,277.1 1616.3,275.4C1616.8,273.8 1617.2,271.7 1617.7,269.8C1618.1,267.8 1618.5,265.6 1618.9,263.5C1619.3,261.4 1619.7,259.3 1620.1,257.2C1620.4,255.2 1620.8,253.1 1621.2,251.0C1621.6,248.9 1621.9,246.8 1622.3,244.7C1622.7,242.7 1623.1,240.6 1623.5,238.5C1623.8,236.4 1624.2,234.2 1624.6,232.2C1625.0,230.2 1625.4,228.3 1625.7,226.5C1626.1,224.7 1626.5,223.0 1626.9,221.4C1627.3,219.8 1627.8,218.2 1628.2,216.9C1628.7,215.6 1629.1,214.6 1629.7,213.7C1630.3,212.8 1630.9,212.3 1631.6,211.8C1632.3,211.3 1633.2,211.1 1633.9,210.6C1634.7,210.2 1635.5,209.8 1636.2,209.2C1636.9,208.5 1637.6,207.6 1638.2,206.9C1638.9,206.1 1639.6,205.2 1640.2,204.6C1640.8,204.0 1641.3,203.5 1641.9,203.2C1642.5,203.0 1643.0,202.9 1643.6,203.0C1644.2,203.2 1644.7,203.5 1645.3,204.1C1645.9,204.8 1646.4,205.8 1647.0,206.6C1647.6,207.5 1648.0,208.6 1648.7,209.5C1649.4,210.4 1649.9,211.4 1650.9,212.1C1652.0,212.9 1653.6,213.7 1654.9,213.9C1656.3,214.1 1657.9,213.3 1659.2,213.4C1660.5,213.5 1661.5,214.6 1663.0,214.4C1664.4,214.2 1666.5,212.6 1668.0,212.1C1669.4,211.6 1670.5,211.3 1671.7,211.4C1673.0,211.5 1674.2,212.9 1675.5,212.6C1676.7,212.3 1678.0,211.3 1679.2,209.6C1680.5,208.0 1681.6,204.3 1683.0,202.6C1684.5,200.9 1686.5,200.0 1688.1,199.4C1689.6,198.7 1691.1,198.4 1692.6,198.9C1694.0,199.3 1695.5,201.1 1696.8,202.1C1698.1,203.2 1699.1,204.7 1700.6,205.1C1702.0,205.5 1703.9,204.7 1705.6,204.4C1707.2,204.0 1709.0,202.9 1710.6,203.1C1712.2,203.3 1713.5,204.7 1715.1,205.6C1716.7,206.6 1718.4,208.5 1720.1,208.9C1721.7,209.3 1723.5,208.5 1725.1,208.1C1726.6,207.7 1727.8,206.7 1729.3,206.4C1730.9,206.1 1732.7,206.0 1734.3,206.4C1736.0,206.7 1737.7,207.5 1739.3,208.4C1741.0,209.2 1742.8,211.3 1744.4,211.4C1745.9,211.5 1747.2,210.1 1748.6,208.9C1750.0,207.6 1751.4,204.6 1752.6,203.9C1753.9,203.1 1754.8,204.0 1756.1,204.4C1757.4,204.8 1759.1,206.0 1760.6,206.4C1762.1,206.8 1763.5,206.0 1765.1,206.9C1766.7,207.7 1768.6,210.1 1770.1,211.4C1771.7,212.6 1773.0,214.6 1774.4,214.4C1775.7,214.2 1776.9,211.9 1778.1,210.1C1779.4,208.4 1780.6,205.5 1781.9,203.9C1783.1,202.2 1784.4,200.3 1785.6,200.1C1786.9,199.9 1788.1,201.9 1789.4,202.6C1790.6,203.4 1791.9,204.6 1793.1,204.6C1794.4,204.6 1795.7,203.2 1796.9,202.6C1798.1,202.1 1798.9,201.2 1800.2,201.4C1801.4,201.6 1803.1,203.2 1804.4,203.9C1805.7,204.5 1806.9,205.4 1808.2,205.1C1809.4,204.8 1810.5,202.8 1811.9,202.1C1813.4,201.4 1815.5,200.4 1816.9,200.9C1818.4,201.4 1819.4,203.2 1820.7,205.1C1821.9,207.0 1823.2,209.8 1824.4,212.1C1825.7,214.4 1826.8,216.9 1828.2,218.9C1829.6,220.8 1831.2,222.8 1832.7,223.9C1834.1,224.9 1835.5,225.4 1836.9,225.1C1838.4,224.9 1839.8,224.1 1841.2,222.6C1842.6,221.2 1843.9,218.6 1845.2,216.4C1846.4,214.2 1847.6,211.1 1848.7,209.6C1849.8,208.2 1850.7,207.7 1852.0,207.6C1853.2,207.6 1854.7,208.8 1856.2,209.4C1857.7,209.9 1859.3,210.7 1860.7,210.9C1862.1,211.1 1863.0,210.4 1864.5,210.6C1865.9,210.8 1868.0,212.1 1869.5,212.1C1870.9,212.1 1872.0,211.5 1873.2,210.6C1874.5,209.8 1875.7,208.0 1877.0,207.1C1878.2,206.2 1879.5,204.8 1880.7,205.1C1882.0,205.4 1883.2,207.5 1884.5,208.9C1885.7,210.2 1887.0,212.2 1888.2,213.1C1889.5,214.0 1890.7,214.7 1892.0,214.4C1893.2,214.1 1894.4,212.5 1895.7,211.4C1897.1,210.3 1898.8,207.8 1900.2,207.6C1901.7,207.4 1903.2,209.8 1904.5,210.1C1905.8,210.5 1907.0,210.3 1908.3,209.6C1909.5,209.0 1910.8,208.0 1912.0,206.4C1913.3,204.8 1914.4,201.9 1915.8,200.1C1917.1,198.3 1918.8,196.4 1920.3,195.6C1921.7,194.8 1923.2,194.8 1924.5,195.1C1925.9,195.4 1927.0,196.2 1928.3,197.6C1929.5,199.1 1930.8,201.6 1932.0,203.9C1933.3,206.2 1934.5,209.4 1935.8,211.4C1937.0,213.3 1938.3,215.2 1939.5,215.6C1940.8,216.1 1941.8,215.2 1943.3,213.9C1944.7,212.5 1946.6,209.5 1948.3,207.6C1950.0,205.7 1951.8,203.7 1953.3,202.6C1954.8,201.6 1955.6,201.2 1957.0,201.4C1958.5,201.5 1960.2,202.5 1962.1,203.4C1963.9,204.2 1966.4,205.6 1968.3,206.4C1970.2,207.2 1971.4,207.8 1973.3,208.1C1975.2,208.4 1977.5,208.2 1979.6,208.1C1981.7,208.0 1983.7,208.0 1985.8,207.6C1987.9,207.3 1990.0,206.1 1992.1,205.9C1994.2,205.7 1996.5,205.9 1998.3,206.4C2000.2,206.9 2001.9,207.5 2003.3,208.9C2004.8,210.3 2005.8,213.0 2007.1,214.6C2008.3,216.2 2009.7,218.0 2010.8,218.4C2012.0,218.8 2012.6,218.5 2013.8,217.1C2015.1,215.8 2016.9,212.0 2018.4,210.1C2019.9,208.3 2021.4,206.4 2022.9,205.9C2024.3,205.4 2025.6,206.6 2027.1,207.1C2028.7,207.6 2030.2,208.7 2032.1,208.9C2034.0,209.0 2036.5,208.6 2038.4,208.1C2040.2,207.6 2041.7,206.7 2043.4,205.9C2045.0,205.0 2046.8,203.2 2048.4,203.1C2050.0,203.0 2051.6,205.3 2052.9,205.1C2054.2,205.0 2055.3,203.4 2056.4,202.1C2057.5,200.9 2058.7,198.4 2059.6,197.6C2060.6,196.9 2061.2,196.6 2062.1,197.6C2063.1,198.7 2064.3,201.4 2065.4,203.9C2066.5,206.4 2067.8,210.7 2068.9,212.6C2070.0,214.6 2071.0,215.4 2072.2,215.6C2073.3,215.8 2074.4,215.0 2075.9,213.9C2077.4,212.8 2079.0,210.2 2080.9,208.9C2082.8,207.5 2085.1,206.7 2087.2,205.9C2089.3,205.0 2091.5,204.4 2093.4,203.9C2095.3,203.3 2097.6,202.8 2098.4,202.6"/>
<g fill="none" stroke="#000" stroke-width="4.60">
<circle cx="928.25" cy="87.00" r="31.60"/>
<circle cx="1257.10" cy="88.80" r="31.60"/>
<circle cx="1253.85" cy="281.50" r="31.60"/>
<circle cx="1589.15" cy="91.80" r="31.60"/>
<circle cx="1597.90" cy="283.25" r="31.60"/>
</g>
<path d="M168.52,26.45 H2098.68 M168.52,1448.90 H2098.68" fill="none" stroke="#000" stroke-width="5.00"/>
<path d="M171.20,26.45 V1448.90 M2096.00,26.45 V1448.90" fill="none" stroke="#000" stroke-width="5.35"/>
<path d="M171.20,1448.90 V1421.60 M267.44,1448.90 V1435.50 M363.68,1448.90 V1421.60 M459.92,1448.90 V1435.50 M556.16,1448.90 V1421.60 M652.40,1448.90 V1435.50 M748.64,1448.90 V1421.60 M844.88,1448.90 V1435.50 M941.12,1448.90 V1421.60 M1037.36,1448.90 V1435.50 M1133.60,1448.90 V1421.60 M1229.84,1448.90 V1435.50 M1326.08,1448.90 V1421.60 M1422.32,1448.90 V1435.50 M1518.56,1448.90 V1421.60 M1614.80,1448.90 V1435.50 M1711.04,1448.90 V1421.60 M1807.28,1448.90 V1435.50 M1903.52,1448.90 V1421.60 M1999.76,1448.90 V1435.50 M2096.00,1448.90 V1421.60" fill="none" stroke="#000" stroke-width="4.80"/>
<g font-size="60.30" text-anchor="middle">
<text transform="translate(170.80,1525.60) scale(1,1.040)">3370</text>
<text transform="translate(363.28,1525.60) scale(1,1.040)">3380</text>
<text transform="translate(555.76,1525.60) scale(1,1.040)">3390</text>
<text transform="translate(748.24,1525.60) scale(1,1.040)">3400</text>
<text transform="translate(940.72,1525.60) scale(1,1.040)">3410</text>
<text transform="translate(1133.20,1525.60) scale(1,1.040)">3420</text>
<text transform="translate(1325.68,1525.60) scale(1,1.040)">3430</text>
<text transform="translate(1518.16,1525.60) scale(1,1.040)">3440</text>
<text transform="translate(1710.64,1525.60) scale(1,1.040)">3450</text>
<text transform="translate(1903.12,1525.60) scale(1,1.040)">3460</text>
<text transform="translate(2095.60,1525.60) scale(1,1.040)">3470</text>
</g>
<text x="1133.50" y="1640.00" font-size="74.00" text-anchor="middle">Field (G)</text>
<text transform="translate(80.00,738.00) rotate(-90)" font-size="74.00" text-anchor="middle">Intensity (a.u.)</text>
<g font-size="60.00">
<text transform="translate(1885.30,188.00) scale(1,1.030)">10 min</text>
<text transform="translate(1896.80,348.00) scale(1,1.030)">5 min</text>
<text transform="translate(1897.30,523.00) scale(1,1.030)">10 min</text>
<text transform="translate(1912.20,695.80) scale(1,1.030)">5 min</text>
<text transform="translate(1912.40,917.10) scale(1,1.030)">10 min</text>
<text transform="translate(1914.30,1112.40) scale(1,1.030)">5 min</text>
</g>
<rect x="263.3" y="1280" width="42.9" height="42.6" fill="#000"/>
<path d="M732.7,1277.5 L707.5,1323 L758,1323 Z" fill="#000"/>
<circle cx="1245.8" cy="1302.1" r="31.5" fill="none" stroke="#000" stroke-width="4.6"/>
<path d="M1674.25,1279.3 L1719.55,1279.3 L1696.9,1317.3 Z" fill="#000"/>
<text transform="translate(314.50,1323) scale(1,1.035)" font-size="60.0">= DMPO-OH</text>
<text transform="translate(761.50,1323) scale(1,1.035)" font-size="60.0">= DMPO-SO<tspan font-size="40.0" dx="-0.60" dy="16.4">4</tspan><tspan font-size="46.0" dx="-0.30" dy="-37.6">−</tspan></text>
<text transform="translate(1265.80,1323) scale(1,1.035)" font-size="60.0">= DMPO-<tspan font-size="40.0" dy="-23.2">1</tspan><tspan dy="23.2">O</tspan><tspan font-size="40.0" dx="0.00" dy="16.4">2</tspan></text>
<text transform="translate(1725.80,1323) scale(1,1.035)" font-size="60.0">= DMPO-O<tspan font-size="40.0" dx="0.00" dy="16.4">2</tspan><tspan font-size="46.0" dx="-0.80" dy="-37.6">−</tspan></text>
</svg>
</body>
</html>
